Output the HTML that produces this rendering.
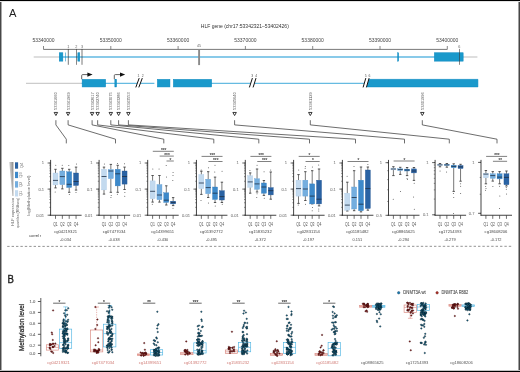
<!DOCTYPE html>
<html><head><meta charset="utf-8"><style>
html,body{margin:0;padding:0;background:#fff;overflow:hidden;}
svg{display:block;font-family:"Liberation Sans", sans-serif;will-change:transform;}
</style></head><body>
<svg width="520" height="372" viewBox="0 0 520 372">
<rect x="0" y="0" width="520" height="372" fill="#fff"/>
<text x="9.00" y="16.60" font-size="11.2" fill="#222" text-anchor="start" >A</text>
<text x="244.80" y="28.40" font-size="5.6" fill="#333" text-anchor="middle" textLength="88" lengthAdjust="spacingAndGlyphs" >HLF gene (chr17:53342321&#8211;53402426)</text>
<line x1="43.50" y1="49.40" x2="447.30" y2="49.40" stroke="#6a6a6a" stroke-width="0.9" />
<line x1="43.50" y1="46.00" x2="43.50" y2="49.40" stroke="#6a6a6a" stroke-width="0.8" />
<text x="43.50" y="41.60" font-size="5.0" fill="#444" text-anchor="middle" textLength="22.2" lengthAdjust="spacingAndGlyphs" >53340000</text>
<line x1="110.80" y1="46.00" x2="110.80" y2="49.40" stroke="#6a6a6a" stroke-width="0.8" />
<text x="110.80" y="41.60" font-size="5.0" fill="#444" text-anchor="middle" textLength="22.2" lengthAdjust="spacingAndGlyphs" >53350000</text>
<line x1="178.10" y1="46.00" x2="178.10" y2="49.40" stroke="#6a6a6a" stroke-width="0.8" />
<text x="178.10" y="41.60" font-size="5.0" fill="#444" text-anchor="middle" textLength="22.2" lengthAdjust="spacingAndGlyphs" >53360000</text>
<line x1="245.40" y1="46.00" x2="245.40" y2="49.40" stroke="#6a6a6a" stroke-width="0.8" />
<text x="245.40" y="41.60" font-size="5.0" fill="#444" text-anchor="middle" textLength="22.2" lengthAdjust="spacingAndGlyphs" >53370000</text>
<line x1="312.70" y1="46.00" x2="312.70" y2="49.40" stroke="#6a6a6a" stroke-width="0.8" />
<text x="312.70" y="41.60" font-size="5.0" fill="#444" text-anchor="middle" textLength="22.2" lengthAdjust="spacingAndGlyphs" >53380000</text>
<line x1="380.00" y1="46.00" x2="380.00" y2="49.40" stroke="#6a6a6a" stroke-width="0.8" />
<text x="380.00" y="41.60" font-size="5.0" fill="#444" text-anchor="middle" textLength="22.2" lengthAdjust="spacingAndGlyphs" >53390000</text>
<line x1="447.30" y1="46.00" x2="447.30" y2="49.40" stroke="#6a6a6a" stroke-width="0.8" />
<text x="447.30" y="41.60" font-size="5.0" fill="#444" text-anchor="middle" textLength="22.2" lengthAdjust="spacingAndGlyphs" >53400000</text>
<line x1="33.70" y1="57.00" x2="59.20" y2="57.00" stroke="#c8c8c8" stroke-width="1.2" />
<line x1="59.20" y1="57.00" x2="463.40" y2="57.00" stroke="#62b9e2" stroke-width="1.4" />
<line x1="463.40" y1="57.00" x2="477.40" y2="57.00" stroke="#c8c8c8" stroke-width="1.2" />
<rect x="59.25" y="52.75" width="3.60" height="8.40" fill="#1a99cb" stroke="#0a88c0" stroke-width="0.5" />
<rect x="65.25" y="52.75" width="0.10" height="8.40" fill="#1a99cb" stroke="#0a88c0" stroke-width="0.5" />
<rect x="77.85" y="52.75" width="1.90" height="8.40" fill="#1a99cb" stroke="#0a88c0" stroke-width="0.5" />
<rect x="397.65" y="52.75" width="1.00" height="8.40" fill="#1a99cb" stroke="#0a88c0" stroke-width="0.5" />
<rect x="434.35" y="52.75" width="28.80" height="8.40" fill="#1a99cb" stroke="#0a88c0" stroke-width="0.5" />
<line x1="68.30" y1="48.90" x2="68.30" y2="64.80" stroke="#3a3a3a" stroke-width="0.8" opacity="0.85"/>
<text x="68.30" y="47.70" font-size="3.8" fill="#666" text-anchor="middle" >1</text>
<line x1="76.40" y1="48.90" x2="76.40" y2="64.80" stroke="#3a3a3a" stroke-width="0.8" opacity="0.85"/>
<text x="76.40" y="47.70" font-size="3.8" fill="#666" text-anchor="middle" >2</text>
<line x1="82.00" y1="48.90" x2="82.00" y2="64.80" stroke="#3a3a3a" stroke-width="0.8" opacity="0.85"/>
<text x="82.00" y="47.70" font-size="3.8" fill="#666" text-anchor="middle" >3</text>
<line x1="459.40" y1="48.90" x2="459.40" y2="64.80" stroke="#3a3a3a" stroke-width="0.8" opacity="0.85"/>
<text x="459.40" y="47.70" font-size="3.8" fill="#666" text-anchor="middle" >6</text>
<line x1="199.10" y1="49.10" x2="199.10" y2="65.10" stroke="#8a8a8a" stroke-width="1.9" />
<text x="199.10" y="47.40" font-size="3.6" fill="#666" text-anchor="middle" >45</text>
<line x1="26.00" y1="83.30" x2="81.50" y2="83.30" stroke="#b8b8b8" stroke-width="0.9" />
<line x1="81.50" y1="83.30" x2="154.40" y2="83.30" stroke="#2aa0d6" stroke-width="0.9" />
<line x1="211.00" y1="83.30" x2="365.00" y2="83.30" stroke="#2aa0d6" stroke-width="0.9" />
<rect x="82.15" y="79.35" width="23.50" height="7.60" fill="#1a99cb" stroke="#0a88c0" stroke-width="0.5" />
<rect x="114.85" y="79.35" width="1.70" height="7.60" fill="#1a99cb" stroke="#0a88c0" stroke-width="0.5" />
<rect x="157.35" y="79.35" width="12.60" height="7.60" fill="#1a99cb" stroke="#0a88c0" stroke-width="0.5" />
<rect x="173.35" y="79.35" width="38.30" height="7.60" fill="#1a99cb" stroke="#0a88c0" stroke-width="0.5" />
<polygon points="368.8,79.35 477.95,79.35 477.95,86.95 366.6,86.95" fill="#1a99cb" stroke="#0a88c0" stroke-width="0.5"/>
<polygon points="139.2,78.1 142.3,78.1 138.8,87.4 135.8,87.4" fill="#fff"/>
<line x1="139.20" y1="78.10" x2="135.80" y2="87.40" stroke="#111" stroke-width="1.0" />
<line x1="142.30" y1="78.10" x2="138.80" y2="87.40" stroke="#111" stroke-width="1.0" />
<polygon points="252.4,78.1 256.0,78.1 253.1,87.4 249.4,87.4" fill="#fff"/>
<line x1="252.40" y1="78.10" x2="249.40" y2="87.40" stroke="#111" stroke-width="1.0" />
<line x1="256.00" y1="78.10" x2="253.10" y2="87.40" stroke="#111" stroke-width="1.0" />
<polygon points="365.8,78.1 369.1,78.1 366.4,87.4 363.1,87.4" fill="#fff"/>
<line x1="365.80" y1="78.10" x2="363.10" y2="87.40" stroke="#111" stroke-width="1.0" />
<line x1="369.10" y1="78.10" x2="366.40" y2="87.40" stroke="#111" stroke-width="1.0" />
<text x="138.50" y="76.90" font-size="3.4" fill="#555" text-anchor="middle" >1</text>
<text x="142.60" y="76.90" font-size="3.4" fill="#555" text-anchor="middle" >2</text>
<text x="252.10" y="76.80" font-size="3.4" fill="#555" text-anchor="middle" >3</text>
<text x="256.10" y="76.80" font-size="3.4" fill="#555" text-anchor="middle" >4</text>
<text x="365.60" y="76.50" font-size="3.4" fill="#555" text-anchor="middle" >5</text>
<text x="369.40" y="76.50" font-size="3.4" fill="#555" text-anchor="middle" >6</text>
<path d="M81.7,79.2 L81.7,75.6 Q81.7,74.6 82.7,74.6 L88.2,74.6" fill="none" stroke="#3a3a3a" stroke-width="0.8"/>
<polygon points="87.4,72.5 92.60000000000001,74.6 87.4,76.7" fill="#111"/>
<path d="M114.3,79.2 L114.3,75.6 Q114.3,74.6 115.3,74.6 L120.8,74.6" fill="none" stroke="#3a3a3a" stroke-width="0.8"/>
<polygon points="120.0,72.5 125.2,74.6 120.0,76.7" fill="#111"/>
<text x="57.30" y="110.00" font-size="4.0" fill="#555" text-anchor="start" textLength="17.8" lengthAdjust="spacingAndGlyphs" transform="rotate(-90 57.30 110.00)" >53341660</text>
<polygon points="54.15,112.45 57.65,112.45 55.90,115.55" fill="#fff" stroke="#222" stroke-width="0.9" stroke-linejoin="round"/>
<text x="69.50" y="110.00" font-size="4.0" fill="#555" text-anchor="start" textLength="17.8" lengthAdjust="spacingAndGlyphs" transform="rotate(-90 69.50 110.00)" >53341969</text>
<polygon points="66.35,112.45 69.85,112.45 68.10,115.55" fill="#fff" stroke="#222" stroke-width="0.9" stroke-linejoin="round"/>
<text x="93.50" y="110.00" font-size="4.0" fill="#555" text-anchor="start" textLength="17.8" lengthAdjust="spacingAndGlyphs" transform="rotate(-90 93.50 110.00)" >53342617</text>
<polygon points="90.35,112.45 93.85,112.45 92.10,115.55" fill="#fff" stroke="#222" stroke-width="0.9" stroke-linejoin="round"/>
<text x="99.05" y="110.00" font-size="4.0" fill="#555" text-anchor="start" textLength="17.8" lengthAdjust="spacingAndGlyphs" transform="rotate(-90 99.05 110.00)" >53342740</text>
<polygon points="95.90,112.45 99.40,112.45 97.65,115.55" fill="#fff" stroke="#222" stroke-width="0.9" stroke-linejoin="round"/>
<text x="112.20" y="110.00" font-size="4.0" fill="#555" text-anchor="start" textLength="17.8" lengthAdjust="spacingAndGlyphs" transform="rotate(-90 112.20 110.00)" >53343075</text>
<polygon points="109.05,112.45 112.55,112.45 110.80,115.55" fill="#fff" stroke="#222" stroke-width="0.9" stroke-linejoin="round"/>
<text x="120.00" y="110.00" font-size="4.0" fill="#555" text-anchor="start" textLength="17.8" lengthAdjust="spacingAndGlyphs" transform="rotate(-90 120.00 110.00)" >53343286</text>
<polygon points="116.85,112.45 120.35,112.45 118.60,115.55" fill="#fff" stroke="#222" stroke-width="0.9" stroke-linejoin="round"/>
<text x="129.80" y="110.00" font-size="4.0" fill="#555" text-anchor="start" textLength="17.8" lengthAdjust="spacingAndGlyphs" transform="rotate(-90 129.80 110.00)" >53343553</text>
<polygon points="126.65,112.45 130.15,112.45 128.40,115.55" fill="#fff" stroke="#222" stroke-width="0.9" stroke-linejoin="round"/>
<text x="236.00" y="110.00" font-size="4.0" fill="#555" text-anchor="start" textLength="17.8" lengthAdjust="spacingAndGlyphs" transform="rotate(-90 236.00 110.00)" >53345640</text>
<polygon points="232.85,112.45 236.35,112.45 234.60,115.55" fill="#fff" stroke="#222" stroke-width="0.9" stroke-linejoin="round"/>
<text x="311.70" y="110.00" font-size="4.0" fill="#555" text-anchor="start" textLength="17.8" lengthAdjust="spacingAndGlyphs" transform="rotate(-90 311.70 110.00)" >53361129</text>
<polygon points="308.55,112.45 312.05,112.45 310.30,115.55" fill="#fff" stroke="#222" stroke-width="0.9" stroke-linejoin="round"/>
<text x="423.70" y="110.00" font-size="4.0" fill="#555" text-anchor="start" textLength="17.8" lengthAdjust="spacingAndGlyphs" transform="rotate(-90 423.70 110.00)" >53401996</text>
<polygon points="420.55,112.45 424.05,112.45 422.30,115.55" fill="#fff" stroke="#222" stroke-width="0.9" stroke-linejoin="round"/>
<path d="M55.9,120.2 L55.9,124.9 L66.3,139.2 L66.3,143.4" fill="none" stroke="#3c3c3c" stroke-width="0.75"/>
<path d="M68.1,120.2 L68.1,124.9 L115.5,139.2 L115.5,143.4" fill="none" stroke="#3c3c3c" stroke-width="0.75"/>
<path d="M92.1,120.2 L92.1,124.9 L163.8,139.2 L163.8,143.4" fill="none" stroke="#3c3c3c" stroke-width="0.75"/>
<path d="M97.65,120.2 L97.65,124.9 L213.8,139.2 L213.8,143.4" fill="none" stroke="#3c3c3c" stroke-width="0.75"/>
<path d="M110.8,120.2 L110.8,124.9 L258.8,139.2 L258.8,143.4" fill="none" stroke="#3c3c3c" stroke-width="0.75"/>
<path d="M118.6,120.2 L118.6,124.9 L309.5,139.2 L309.5,143.4" fill="none" stroke="#3c3c3c" stroke-width="0.75"/>
<path d="M128.4,120.2 L128.4,124.9 L355.5,139.2 L355.5,143.4" fill="none" stroke="#3c3c3c" stroke-width="0.75"/>
<path d="M234.6,120.2 L234.6,124.9 L404.5,139.2 L404.5,143.4" fill="none" stroke="#3c3c3c" stroke-width="0.75"/>
<path d="M310.3,120.2 L310.3,124.9 L449.3,139.2 L449.3,143.4" fill="none" stroke="#3c3c3c" stroke-width="0.75"/>
<path d="M422.3,120.2 L422.3,124.9 L497.0,139.2 L497.0,143.4" fill="none" stroke="#3c3c3c" stroke-width="0.75"/>
<defs><linearGradient id="wg" x1="0" y1="0" x2="0" y2="1"><stop offset="0" stop-color="#8e8e8e"/><stop offset="1" stop-color="#d8d8d8"/></linearGradient><linearGradient id="wg2" x1="0" y1="0" x2="1" y2="0"><stop offset="0" stop-color="#fff" stop-opacity="0.6"/><stop offset="1" stop-color="#fff" stop-opacity="0"/></linearGradient></defs>
<defs><linearGradient id="wh" x1="0" y1="0" x2="1" y2="0"><stop offset="0" stop-color="#d4d4d4"/><stop offset="0.6" stop-color="#a8a8a8"/><stop offset="1" stop-color="#7e7e7e"/></linearGradient><linearGradient id="wv" x1="0" y1="0" x2="0" y2="1"><stop offset="0" stop-color="#fff" stop-opacity="0"/><stop offset="1" stop-color="#fff" stop-opacity="0.35"/></linearGradient></defs>
<polygon points="9.2,162.1 13.4,162.1 13.3,196.0 12.5,196.0" fill="url(#wh)"/>
<polygon points="9.2,162.1 13.4,162.1 13.3,196.0 12.5,196.0" fill="url(#wv)"/>
<rect x="15.00" y="190.20" width="3.10" height="6.30" fill="#c3daef" stroke="none" stroke-width="0" />
<text x="21.00" y="193.35" font-size="4.2" fill="#777" text-anchor="middle" textLength="5.4" lengthAdjust="spacingAndGlyphs" transform="rotate(-90 21.00 193.35)" dominant-baseline="central">Q1</text>
<rect x="15.00" y="181.20" width="3.10" height="6.40" fill="#74aedf" stroke="none" stroke-width="0" />
<text x="21.00" y="184.40" font-size="4.2" fill="#777" text-anchor="middle" textLength="5.4" lengthAdjust="spacingAndGlyphs" transform="rotate(-90 21.00 184.40)" dominant-baseline="central">Q2</text>
<rect x="15.00" y="171.80" width="3.10" height="6.30" fill="#3d89ca" stroke="none" stroke-width="0" />
<text x="21.00" y="174.95" font-size="4.2" fill="#777" text-anchor="middle" textLength="5.4" lengthAdjust="spacingAndGlyphs" transform="rotate(-90 21.00 174.95)" dominant-baseline="central">Q3</text>
<rect x="15.00" y="162.30" width="3.10" height="6.40" fill="#2a63a4" stroke="none" stroke-width="0" />
<text x="21.00" y="165.50" font-size="4.2" fill="#777" text-anchor="middle" textLength="5.4" lengthAdjust="spacingAndGlyphs" transform="rotate(-90 21.00 165.50)" dominant-baseline="central">Q4</text>
<text x="14.40" y="226.00" font-size="4.2" fill="#666" text-anchor="start" textLength="28.2" lengthAdjust="spacingAndGlyphs" transform="rotate(-90 14.40 226.00)" >HLF expression</text>
<text x="18.90" y="228.00" font-size="4.2" fill="#666" text-anchor="start" textLength="30.2" lengthAdjust="spacingAndGlyphs" transform="rotate(-90 18.90 228.00)" >quartiles (RNAseq)</text>
<text x="29.90" y="215.80" font-size="4.2" fill="#666" text-anchor="start" textLength="40.2" lengthAdjust="spacingAndGlyphs" transform="rotate(-90 29.90 215.80)" >log(Methylation level)</text>
<text x="29.20" y="236.70" font-size="4.2" fill="#555" text-anchor="start" stroke="#555" stroke-width="0.06" textLength="11.8" lengthAdjust="spacingAndGlyphs" >correl r</text>
<line x1="49.30" y1="215.20" x2="50.60" y2="215.20" stroke="#333" stroke-width="0.5" />
<line x1="49.30" y1="207.34" x2="50.60" y2="207.34" stroke="#333" stroke-width="0.5" />
<line x1="49.30" y1="202.75" x2="50.60" y2="202.75" stroke="#333" stroke-width="0.5" />
<line x1="49.30" y1="199.49" x2="50.60" y2="199.49" stroke="#333" stroke-width="0.5" />
<line x1="49.30" y1="196.96" x2="50.60" y2="196.96" stroke="#333" stroke-width="0.5" />
<line x1="49.30" y1="194.89" x2="50.60" y2="194.89" stroke="#333" stroke-width="0.5" />
<line x1="49.30" y1="193.14" x2="50.60" y2="193.14" stroke="#333" stroke-width="0.5" />
<line x1="49.30" y1="191.63" x2="50.60" y2="191.63" stroke="#333" stroke-width="0.5" />
<line x1="49.30" y1="190.29" x2="50.60" y2="190.29" stroke="#333" stroke-width="0.5" />
<line x1="49.30" y1="189.10" x2="50.60" y2="189.10" stroke="#333" stroke-width="0.5" />
<line x1="49.30" y1="181.24" x2="50.60" y2="181.24" stroke="#333" stroke-width="0.5" />
<line x1="49.30" y1="176.65" x2="50.60" y2="176.65" stroke="#333" stroke-width="0.5" />
<line x1="49.30" y1="173.39" x2="50.60" y2="173.39" stroke="#333" stroke-width="0.5" />
<line x1="49.30" y1="170.86" x2="50.60" y2="170.86" stroke="#333" stroke-width="0.5" />
<line x1="49.30" y1="168.79" x2="50.60" y2="168.79" stroke="#333" stroke-width="0.5" />
<line x1="49.30" y1="167.04" x2="50.60" y2="167.04" stroke="#333" stroke-width="0.5" />
<line x1="49.30" y1="165.53" x2="50.60" y2="165.53" stroke="#333" stroke-width="0.5" />
<line x1="49.30" y1="164.19" x2="50.60" y2="164.19" stroke="#333" stroke-width="0.5" />
<line x1="49.30" y1="163.00" x2="50.60" y2="163.00" stroke="#333" stroke-width="0.5" />
<line x1="47.60" y1="163.00" x2="50.60" y2="163.00" stroke="#333" stroke-width="0.75" />
<text x="44.10" y="164.45" font-size="4.1" fill="#7a7a7a" text-anchor="end" stroke="#7a7a7a" stroke-width="0.04" >1</text>
<line x1="47.60" y1="189.10" x2="50.60" y2="189.10" stroke="#333" stroke-width="0.75" />
<text x="44.10" y="190.55" font-size="4.1" fill="#7a7a7a" text-anchor="end" stroke="#7a7a7a" stroke-width="0.04" >0.1</text>
<line x1="47.60" y1="215.20" x2="50.60" y2="215.20" stroke="#333" stroke-width="0.75" />
<text x="44.10" y="216.65" font-size="4.1" fill="#7a7a7a" text-anchor="end" stroke="#7a7a7a" stroke-width="0.04" >0.01</text>
<line x1="55.50" y1="169.30" x2="55.50" y2="173.00" stroke="#4a4a4a" stroke-width="0.75" />
<line x1="55.50" y1="184.90" x2="55.50" y2="187.90" stroke="#4a4a4a" stroke-width="0.75" />
<line x1="54.30" y1="169.30" x2="56.70" y2="169.30" stroke="#3a3a3a" stroke-width="0.85" />
<line x1="54.30" y1="187.90" x2="56.70" y2="187.90" stroke="#3a3a3a" stroke-width="0.85" />
<rect x="53.00" y="173.00" width="5.00" height="11.90" fill="#c3daef" stroke="#a9c8e6" stroke-width="0.35" />
<line x1="53.00" y1="180.40" x2="58.00" y2="180.40" stroke="#1e2e44" stroke-width="0.8" />
<circle cx="55.78" cy="165.3" r="0.5" fill="#555"/>
<circle cx="55.20" cy="192.0" r="0.5" fill="#555"/>
<line x1="62.35" y1="168.30" x2="62.35" y2="171.00" stroke="#4a4a4a" stroke-width="0.75" />
<line x1="62.35" y1="184.60" x2="62.35" y2="188.90" stroke="#4a4a4a" stroke-width="0.75" />
<line x1="61.15" y1="168.30" x2="63.55" y2="168.30" stroke="#3a3a3a" stroke-width="0.85" />
<line x1="61.15" y1="188.90" x2="63.55" y2="188.90" stroke="#3a3a3a" stroke-width="0.85" />
<rect x="59.85" y="171.00" width="5.00" height="13.60" fill="#74aedf" stroke="#5b9ad2" stroke-width="0.35" />
<line x1="59.85" y1="176.60" x2="64.85" y2="176.60" stroke="#1e2e44" stroke-width="0.8" />
<circle cx="62.27" cy="165.3" r="0.5" fill="#555"/>
<line x1="69.20" y1="169.30" x2="69.20" y2="171.80" stroke="#4a4a4a" stroke-width="0.75" />
<line x1="69.20" y1="187.50" x2="69.20" y2="192.30" stroke="#4a4a4a" stroke-width="0.75" />
<line x1="68.00" y1="169.30" x2="70.40" y2="169.30" stroke="#3a3a3a" stroke-width="0.85" />
<line x1="68.00" y1="192.30" x2="70.40" y2="192.30" stroke="#3a3a3a" stroke-width="0.85" />
<rect x="66.70" y="171.80" width="5.00" height="15.70" fill="#3d89ca" stroke="#2f79bb" stroke-width="0.35" />
<line x1="66.70" y1="184.30" x2="71.70" y2="184.30" stroke="#1e2e44" stroke-width="0.8" />
<circle cx="68.81" cy="165.5" r="0.5" fill="#555"/>
<circle cx="69.32" cy="194.5" r="0.5" fill="#555"/>
<line x1="76.05" y1="167.10" x2="76.05" y2="173.00" stroke="#4a4a4a" stroke-width="0.75" />
<line x1="76.05" y1="185.50" x2="76.05" y2="190.10" stroke="#4a4a4a" stroke-width="0.75" />
<line x1="74.85" y1="167.10" x2="77.25" y2="167.10" stroke="#3a3a3a" stroke-width="0.85" />
<line x1="74.85" y1="190.10" x2="77.25" y2="190.10" stroke="#3a3a3a" stroke-width="0.85" />
<rect x="73.55" y="173.00" width="5.00" height="12.50" fill="#2a63a4" stroke="#1f5290" stroke-width="0.35" />
<line x1="73.55" y1="181.50" x2="78.55" y2="181.50" stroke="#1e2e44" stroke-width="0.8" />
<circle cx="76.42" cy="164.1" r="0.5" fill="#555"/>
<circle cx="76.00" cy="192.5" r="0.5" fill="#555"/>
<line x1="50.60" y1="159.90" x2="50.60" y2="215.60" stroke="#222" stroke-width="0.85" />
<line x1="50.20" y1="215.25" x2="81.60" y2="215.25" stroke="#222" stroke-width="0.85" />
<line x1="55.50" y1="215.25" x2="55.50" y2="218.85" stroke="#333" stroke-width="0.7" />
<text x="55.50" y="225.50" font-size="4.5" fill="#555" text-anchor="middle" textLength="4.6" lengthAdjust="spacingAndGlyphs" >Q1</text>
<line x1="62.35" y1="215.25" x2="62.35" y2="218.85" stroke="#333" stroke-width="0.7" />
<text x="62.35" y="225.50" font-size="4.5" fill="#555" text-anchor="middle" textLength="4.6" lengthAdjust="spacingAndGlyphs" >Q2</text>
<line x1="69.20" y1="215.25" x2="69.20" y2="218.85" stroke="#333" stroke-width="0.7" />
<text x="69.20" y="225.50" font-size="4.5" fill="#555" text-anchor="middle" textLength="4.6" lengthAdjust="spacingAndGlyphs" >Q3</text>
<line x1="76.05" y1="215.25" x2="76.05" y2="218.85" stroke="#333" stroke-width="0.7" />
<text x="76.05" y="225.50" font-size="4.5" fill="#555" text-anchor="middle" textLength="4.6" lengthAdjust="spacingAndGlyphs" >Q4</text>
<text x="65.60" y="233.00" font-size="4.15" fill="#484848" text-anchor="middle" >cg04219321</text>
<text x="65.60" y="240.50" font-size="3.9" fill="#484848" text-anchor="middle" >-0.034</text>
<line x1="97.80" y1="215.20" x2="99.10" y2="215.20" stroke="#333" stroke-width="0.5" />
<line x1="97.80" y1="207.34" x2="99.10" y2="207.34" stroke="#333" stroke-width="0.5" />
<line x1="97.80" y1="202.75" x2="99.10" y2="202.75" stroke="#333" stroke-width="0.5" />
<line x1="97.80" y1="199.49" x2="99.10" y2="199.49" stroke="#333" stroke-width="0.5" />
<line x1="97.80" y1="196.96" x2="99.10" y2="196.96" stroke="#333" stroke-width="0.5" />
<line x1="97.80" y1="194.89" x2="99.10" y2="194.89" stroke="#333" stroke-width="0.5" />
<line x1="97.80" y1="193.14" x2="99.10" y2="193.14" stroke="#333" stroke-width="0.5" />
<line x1="97.80" y1="191.63" x2="99.10" y2="191.63" stroke="#333" stroke-width="0.5" />
<line x1="97.80" y1="190.29" x2="99.10" y2="190.29" stroke="#333" stroke-width="0.5" />
<line x1="97.80" y1="189.10" x2="99.10" y2="189.10" stroke="#333" stroke-width="0.5" />
<line x1="97.80" y1="181.24" x2="99.10" y2="181.24" stroke="#333" stroke-width="0.5" />
<line x1="97.80" y1="176.65" x2="99.10" y2="176.65" stroke="#333" stroke-width="0.5" />
<line x1="97.80" y1="173.39" x2="99.10" y2="173.39" stroke="#333" stroke-width="0.5" />
<line x1="97.80" y1="170.86" x2="99.10" y2="170.86" stroke="#333" stroke-width="0.5" />
<line x1="97.80" y1="168.79" x2="99.10" y2="168.79" stroke="#333" stroke-width="0.5" />
<line x1="97.80" y1="167.04" x2="99.10" y2="167.04" stroke="#333" stroke-width="0.5" />
<line x1="97.80" y1="165.53" x2="99.10" y2="165.53" stroke="#333" stroke-width="0.5" />
<line x1="97.80" y1="164.19" x2="99.10" y2="164.19" stroke="#333" stroke-width="0.5" />
<line x1="97.80" y1="163.00" x2="99.10" y2="163.00" stroke="#333" stroke-width="0.5" />
<line x1="96.10" y1="163.00" x2="99.10" y2="163.00" stroke="#333" stroke-width="0.75" />
<text x="92.60" y="164.45" font-size="4.1" fill="#7a7a7a" text-anchor="end" stroke="#7a7a7a" stroke-width="0.04" >1</text>
<line x1="96.10" y1="189.10" x2="99.10" y2="189.10" stroke="#333" stroke-width="0.75" />
<text x="92.60" y="190.55" font-size="4.1" fill="#7a7a7a" text-anchor="end" stroke="#7a7a7a" stroke-width="0.04" >0.1</text>
<line x1="96.10" y1="215.20" x2="99.10" y2="215.20" stroke="#333" stroke-width="0.75" />
<text x="92.60" y="216.65" font-size="4.1" fill="#7a7a7a" text-anchor="end" stroke="#7a7a7a" stroke-width="0.04" >0.01</text>
<line x1="104.00" y1="167.10" x2="104.00" y2="169.30" stroke="#4a4a4a" stroke-width="0.75" />
<line x1="104.00" y1="189.90" x2="104.00" y2="194.10" stroke="#4a4a4a" stroke-width="0.75" />
<line x1="102.80" y1="167.10" x2="105.20" y2="167.10" stroke="#3a3a3a" stroke-width="0.85" />
<line x1="102.80" y1="194.10" x2="105.20" y2="194.10" stroke="#3a3a3a" stroke-width="0.85" />
<rect x="101.50" y="169.30" width="5.00" height="20.60" fill="#c3daef" stroke="#a9c8e6" stroke-width="0.35" />
<line x1="101.50" y1="176.50" x2="106.50" y2="176.50" stroke="#1e2e44" stroke-width="0.8" />
<circle cx="104.35" cy="164.1" r="0.5" fill="#555"/>
<line x1="110.85" y1="164.40" x2="110.85" y2="169.50" stroke="#4a4a4a" stroke-width="0.75" />
<line x1="110.85" y1="178.60" x2="110.85" y2="192.30" stroke="#4a4a4a" stroke-width="0.75" />
<line x1="109.65" y1="164.40" x2="112.05" y2="164.40" stroke="#3a3a3a" stroke-width="0.85" />
<line x1="109.65" y1="192.30" x2="112.05" y2="192.30" stroke="#3a3a3a" stroke-width="0.85" />
<rect x="108.35" y="169.50" width="5.00" height="9.10" fill="#74aedf" stroke="#5b9ad2" stroke-width="0.35" />
<line x1="108.35" y1="171.00" x2="113.35" y2="171.00" stroke="#1e2e44" stroke-width="0.8" />
<circle cx="111.16" cy="195.6" r="0.5" fill="#555"/>
<circle cx="110.91" cy="197.4" r="0.5" fill="#555"/>
<line x1="117.70" y1="165.30" x2="117.70" y2="169.30" stroke="#4a4a4a" stroke-width="0.75" />
<line x1="117.70" y1="185.90" x2="117.70" y2="192.30" stroke="#4a4a4a" stroke-width="0.75" />
<line x1="116.50" y1="165.30" x2="118.90" y2="165.30" stroke="#3a3a3a" stroke-width="0.85" />
<line x1="116.50" y1="192.30" x2="118.90" y2="192.30" stroke="#3a3a3a" stroke-width="0.85" />
<rect x="115.20" y="169.30" width="5.00" height="16.60" fill="#3d89ca" stroke="#2f79bb" stroke-width="0.35" />
<line x1="115.20" y1="173.80" x2="120.20" y2="173.80" stroke="#1e2e44" stroke-width="0.8" />
<circle cx="117.55" cy="163.5" r="0.5" fill="#555"/>
<circle cx="117.39" cy="194.3" r="0.5" fill="#555"/>
<line x1="124.55" y1="167.10" x2="124.55" y2="171.00" stroke="#4a4a4a" stroke-width="0.75" />
<line x1="124.55" y1="184.10" x2="124.55" y2="189.50" stroke="#4a4a4a" stroke-width="0.75" />
<line x1="123.35" y1="167.10" x2="125.75" y2="167.10" stroke="#3a3a3a" stroke-width="0.85" />
<line x1="123.35" y1="189.50" x2="125.75" y2="189.50" stroke="#3a3a3a" stroke-width="0.85" />
<rect x="122.05" y="171.00" width="5.00" height="13.10" fill="#2a63a4" stroke="#1f5290" stroke-width="0.35" />
<line x1="122.05" y1="176.50" x2="127.05" y2="176.50" stroke="#1e2e44" stroke-width="0.8" />
<circle cx="124.52" cy="163.7" r="0.5" fill="#555"/>
<circle cx="124.90" cy="192.5" r="0.5" fill="#555"/>
<circle cx="124.73" cy="196.2" r="0.5" fill="#555"/>
<line x1="99.10" y1="159.90" x2="99.10" y2="215.60" stroke="#222" stroke-width="0.85" />
<line x1="98.70" y1="215.25" x2="130.10" y2="215.25" stroke="#222" stroke-width="0.85" />
<line x1="104.00" y1="215.25" x2="104.00" y2="218.85" stroke="#333" stroke-width="0.7" />
<text x="104.00" y="225.50" font-size="4.5" fill="#555" text-anchor="middle" textLength="4.6" lengthAdjust="spacingAndGlyphs" >Q1</text>
<line x1="110.85" y1="215.25" x2="110.85" y2="218.85" stroke="#333" stroke-width="0.7" />
<text x="110.85" y="225.50" font-size="4.5" fill="#555" text-anchor="middle" textLength="4.6" lengthAdjust="spacingAndGlyphs" >Q2</text>
<line x1="117.70" y1="215.25" x2="117.70" y2="218.85" stroke="#333" stroke-width="0.7" />
<text x="117.70" y="225.50" font-size="4.5" fill="#555" text-anchor="middle" textLength="4.6" lengthAdjust="spacingAndGlyphs" >Q3</text>
<line x1="124.55" y1="215.25" x2="124.55" y2="218.85" stroke="#333" stroke-width="0.7" />
<text x="124.55" y="225.50" font-size="4.5" fill="#555" text-anchor="middle" textLength="4.6" lengthAdjust="spacingAndGlyphs" >Q4</text>
<text x="114.10" y="233.00" font-size="4.15" fill="#484848" text-anchor="middle" >cg07477034</text>
<text x="114.10" y="240.50" font-size="3.9" fill="#484848" text-anchor="middle" >-0.038</text>
<line x1="146.40" y1="215.20" x2="147.70" y2="215.20" stroke="#333" stroke-width="0.5" />
<line x1="146.40" y1="207.34" x2="147.70" y2="207.34" stroke="#333" stroke-width="0.5" />
<line x1="146.40" y1="202.75" x2="147.70" y2="202.75" stroke="#333" stroke-width="0.5" />
<line x1="146.40" y1="199.49" x2="147.70" y2="199.49" stroke="#333" stroke-width="0.5" />
<line x1="146.40" y1="196.96" x2="147.70" y2="196.96" stroke="#333" stroke-width="0.5" />
<line x1="146.40" y1="194.89" x2="147.70" y2="194.89" stroke="#333" stroke-width="0.5" />
<line x1="146.40" y1="193.14" x2="147.70" y2="193.14" stroke="#333" stroke-width="0.5" />
<line x1="146.40" y1="191.63" x2="147.70" y2="191.63" stroke="#333" stroke-width="0.5" />
<line x1="146.40" y1="190.29" x2="147.70" y2="190.29" stroke="#333" stroke-width="0.5" />
<line x1="146.40" y1="189.10" x2="147.70" y2="189.10" stroke="#333" stroke-width="0.5" />
<line x1="146.40" y1="181.24" x2="147.70" y2="181.24" stroke="#333" stroke-width="0.5" />
<line x1="146.40" y1="176.65" x2="147.70" y2="176.65" stroke="#333" stroke-width="0.5" />
<line x1="146.40" y1="173.39" x2="147.70" y2="173.39" stroke="#333" stroke-width="0.5" />
<line x1="146.40" y1="170.86" x2="147.70" y2="170.86" stroke="#333" stroke-width="0.5" />
<line x1="146.40" y1="168.79" x2="147.70" y2="168.79" stroke="#333" stroke-width="0.5" />
<line x1="146.40" y1="167.04" x2="147.70" y2="167.04" stroke="#333" stroke-width="0.5" />
<line x1="146.40" y1="165.53" x2="147.70" y2="165.53" stroke="#333" stroke-width="0.5" />
<line x1="146.40" y1="164.19" x2="147.70" y2="164.19" stroke="#333" stroke-width="0.5" />
<line x1="146.40" y1="163.00" x2="147.70" y2="163.00" stroke="#333" stroke-width="0.5" />
<line x1="144.70" y1="163.00" x2="147.70" y2="163.00" stroke="#333" stroke-width="0.75" />
<text x="141.20" y="164.45" font-size="4.1" fill="#7a7a7a" text-anchor="end" stroke="#7a7a7a" stroke-width="0.04" >1</text>
<line x1="144.70" y1="189.10" x2="147.70" y2="189.10" stroke="#333" stroke-width="0.75" />
<text x="141.20" y="190.55" font-size="4.1" fill="#7a7a7a" text-anchor="end" stroke="#7a7a7a" stroke-width="0.04" >0.1</text>
<line x1="144.70" y1="215.20" x2="147.70" y2="215.20" stroke="#333" stroke-width="0.75" />
<text x="141.20" y="216.65" font-size="4.1" fill="#7a7a7a" text-anchor="end" stroke="#7a7a7a" stroke-width="0.04" >0.01</text>
<line x1="152.60" y1="175.50" x2="152.60" y2="180.90" stroke="#4a4a4a" stroke-width="0.75" />
<line x1="152.60" y1="198.70" x2="152.60" y2="202.10" stroke="#4a4a4a" stroke-width="0.75" />
<line x1="151.40" y1="175.50" x2="153.80" y2="175.50" stroke="#3a3a3a" stroke-width="0.85" />
<line x1="151.40" y1="202.10" x2="153.80" y2="202.10" stroke="#3a3a3a" stroke-width="0.85" />
<rect x="150.10" y="180.90" width="5.00" height="17.80" fill="#c3daef" stroke="#a9c8e6" stroke-width="0.35" />
<line x1="150.10" y1="191.30" x2="155.10" y2="191.30" stroke="#1e2e44" stroke-width="0.8" />
<circle cx="152.82" cy="169.1" r="0.5" fill="#555"/>
<circle cx="152.30" cy="204.2" r="0.5" fill="#555"/>
<line x1="159.45" y1="175.50" x2="159.45" y2="184.60" stroke="#4a4a4a" stroke-width="0.75" />
<line x1="159.45" y1="199.70" x2="159.45" y2="202.10" stroke="#4a4a4a" stroke-width="0.75" />
<line x1="158.25" y1="175.50" x2="160.65" y2="175.50" stroke="#3a3a3a" stroke-width="0.85" />
<line x1="158.25" y1="202.10" x2="160.65" y2="202.10" stroke="#3a3a3a" stroke-width="0.85" />
<rect x="156.95" y="184.60" width="5.00" height="15.10" fill="#74aedf" stroke="#5b9ad2" stroke-width="0.35" />
<line x1="156.95" y1="195.00" x2="161.95" y2="195.00" stroke="#1e2e44" stroke-width="0.8" />
<circle cx="159.06" cy="169.1" r="0.5" fill="#555"/>
<line x1="166.30" y1="185.80" x2="166.30" y2="192.80" stroke="#4a4a4a" stroke-width="0.75" />
<line x1="166.30" y1="202.40" x2="166.30" y2="205.00" stroke="#4a4a4a" stroke-width="0.75" />
<line x1="165.10" y1="185.80" x2="167.50" y2="185.80" stroke="#3a3a3a" stroke-width="0.85" />
<line x1="165.10" y1="205.00" x2="167.50" y2="205.00" stroke="#3a3a3a" stroke-width="0.85" />
<rect x="163.80" y="192.80" width="5.00" height="9.60" fill="#3d89ca" stroke="#2f79bb" stroke-width="0.35" />
<line x1="163.80" y1="200.20" x2="168.80" y2="200.20" stroke="#1e2e44" stroke-width="0.8" />
<circle cx="166.18" cy="165.4" r="0.5" fill="#555"/>
<circle cx="166.49" cy="176.9" r="0.5" fill="#555"/>
<line x1="173.15" y1="197.60" x2="173.15" y2="201.20" stroke="#4a4a4a" stroke-width="0.75" />
<line x1="173.15" y1="203.90" x2="173.15" y2="205.60" stroke="#4a4a4a" stroke-width="0.75" />
<line x1="171.95" y1="197.60" x2="174.35" y2="197.60" stroke="#3a3a3a" stroke-width="0.85" />
<line x1="171.95" y1="205.60" x2="174.35" y2="205.60" stroke="#3a3a3a" stroke-width="0.85" />
<rect x="170.65" y="201.20" width="5.00" height="2.70" fill="#2a63a4" stroke="#1f5290" stroke-width="0.35" />
<line x1="170.65" y1="202.40" x2="175.65" y2="202.40" stroke="#1e2e44" stroke-width="0.8" />
<circle cx="173.07" cy="172.5" r="0.5" fill="#555"/>
<circle cx="172.97" cy="175.5" r="0.5" fill="#555"/>
<circle cx="172.81" cy="180.6" r="0.5" fill="#555"/>
<circle cx="173.03" cy="208.3" r="0.5" fill="#555"/>
<line x1="152.80" y1="151.30" x2="173.80" y2="151.30" stroke="#4a4a4a" stroke-width="0.7" />
<text x="163.60" y="152.10" font-size="4.6" fill="#555" text-anchor="middle" stroke="#555" stroke-width="0.15" textLength="5.4" lengthAdjust="spacingAndGlyphs" >***</text>
<line x1="159.65" y1="156.10" x2="173.80" y2="156.10" stroke="#4a4a4a" stroke-width="0.7" />
<text x="167.02" y="156.90" font-size="4.6" fill="#555" text-anchor="middle" stroke="#555" stroke-width="0.15" textLength="5.4" lengthAdjust="spacingAndGlyphs" >***</text>
<line x1="166.50" y1="161.00" x2="173.80" y2="161.00" stroke="#4a4a4a" stroke-width="0.7" />
<text x="170.45" y="161.80" font-size="4.6" fill="#555" text-anchor="middle" stroke="#555" stroke-width="0.15" >*</text>
<line x1="147.70" y1="159.90" x2="147.70" y2="215.60" stroke="#222" stroke-width="0.85" />
<line x1="147.30" y1="215.25" x2="178.70" y2="215.25" stroke="#222" stroke-width="0.85" />
<line x1="152.60" y1="215.25" x2="152.60" y2="218.85" stroke="#333" stroke-width="0.7" />
<text x="152.60" y="225.50" font-size="4.5" fill="#555" text-anchor="middle" textLength="4.6" lengthAdjust="spacingAndGlyphs" >Q1</text>
<line x1="159.45" y1="215.25" x2="159.45" y2="218.85" stroke="#333" stroke-width="0.7" />
<text x="159.45" y="225.50" font-size="4.5" fill="#555" text-anchor="middle" textLength="4.6" lengthAdjust="spacingAndGlyphs" >Q2</text>
<line x1="166.30" y1="215.25" x2="166.30" y2="218.85" stroke="#333" stroke-width="0.7" />
<text x="166.30" y="225.50" font-size="4.5" fill="#555" text-anchor="middle" textLength="4.6" lengthAdjust="spacingAndGlyphs" >Q3</text>
<line x1="173.15" y1="215.25" x2="173.15" y2="218.85" stroke="#333" stroke-width="0.7" />
<text x="173.15" y="225.50" font-size="4.5" fill="#555" text-anchor="middle" textLength="4.6" lengthAdjust="spacingAndGlyphs" >Q4</text>
<text x="162.70" y="233.00" font-size="4.15" fill="#484848" text-anchor="middle" >cg14399651</text>
<text x="162.70" y="240.50" font-size="3.9" fill="#484848" text-anchor="middle" >-0.430</text>
<line x1="195.15" y1="215.20" x2="196.45" y2="215.20" stroke="#333" stroke-width="0.5" />
<line x1="195.15" y1="207.34" x2="196.45" y2="207.34" stroke="#333" stroke-width="0.5" />
<line x1="195.15" y1="202.75" x2="196.45" y2="202.75" stroke="#333" stroke-width="0.5" />
<line x1="195.15" y1="199.49" x2="196.45" y2="199.49" stroke="#333" stroke-width="0.5" />
<line x1="195.15" y1="196.96" x2="196.45" y2="196.96" stroke="#333" stroke-width="0.5" />
<line x1="195.15" y1="194.89" x2="196.45" y2="194.89" stroke="#333" stroke-width="0.5" />
<line x1="195.15" y1="193.14" x2="196.45" y2="193.14" stroke="#333" stroke-width="0.5" />
<line x1="195.15" y1="191.63" x2="196.45" y2="191.63" stroke="#333" stroke-width="0.5" />
<line x1="195.15" y1="190.29" x2="196.45" y2="190.29" stroke="#333" stroke-width="0.5" />
<line x1="195.15" y1="189.10" x2="196.45" y2="189.10" stroke="#333" stroke-width="0.5" />
<line x1="195.15" y1="181.24" x2="196.45" y2="181.24" stroke="#333" stroke-width="0.5" />
<line x1="195.15" y1="176.65" x2="196.45" y2="176.65" stroke="#333" stroke-width="0.5" />
<line x1="195.15" y1="173.39" x2="196.45" y2="173.39" stroke="#333" stroke-width="0.5" />
<line x1="195.15" y1="170.86" x2="196.45" y2="170.86" stroke="#333" stroke-width="0.5" />
<line x1="195.15" y1="168.79" x2="196.45" y2="168.79" stroke="#333" stroke-width="0.5" />
<line x1="195.15" y1="167.04" x2="196.45" y2="167.04" stroke="#333" stroke-width="0.5" />
<line x1="195.15" y1="165.53" x2="196.45" y2="165.53" stroke="#333" stroke-width="0.5" />
<line x1="195.15" y1="164.19" x2="196.45" y2="164.19" stroke="#333" stroke-width="0.5" />
<line x1="195.15" y1="163.00" x2="196.45" y2="163.00" stroke="#333" stroke-width="0.5" />
<line x1="193.45" y1="163.00" x2="196.45" y2="163.00" stroke="#333" stroke-width="0.75" />
<text x="189.95" y="164.45" font-size="4.1" fill="#7a7a7a" text-anchor="end" stroke="#7a7a7a" stroke-width="0.04" >1</text>
<line x1="193.45" y1="189.10" x2="196.45" y2="189.10" stroke="#333" stroke-width="0.75" />
<text x="189.95" y="190.55" font-size="4.1" fill="#7a7a7a" text-anchor="end" stroke="#7a7a7a" stroke-width="0.04" >0.1</text>
<line x1="193.45" y1="215.20" x2="196.45" y2="215.20" stroke="#333" stroke-width="0.75" />
<text x="189.95" y="216.65" font-size="4.1" fill="#7a7a7a" text-anchor="end" stroke="#7a7a7a" stroke-width="0.04" >0.01</text>
<line x1="201.35" y1="171.20" x2="201.35" y2="174.60" stroke="#4a4a4a" stroke-width="0.75" />
<line x1="201.35" y1="188.60" x2="201.35" y2="194.40" stroke="#4a4a4a" stroke-width="0.75" />
<line x1="200.15" y1="171.20" x2="202.55" y2="171.20" stroke="#3a3a3a" stroke-width="0.85" />
<line x1="200.15" y1="194.40" x2="202.55" y2="194.40" stroke="#3a3a3a" stroke-width="0.85" />
<rect x="198.85" y="174.60" width="5.00" height="14.00" fill="#c3daef" stroke="#a9c8e6" stroke-width="0.35" />
<line x1="198.85" y1="183.00" x2="203.85" y2="183.00" stroke="#1e2e44" stroke-width="0.8" />
<circle cx="201.21" cy="170.0" r="0.5" fill="#555"/>
<circle cx="200.97" cy="200.5" r="0.5" fill="#555"/>
<line x1="208.20" y1="171.70" x2="208.20" y2="179.20" stroke="#4a4a4a" stroke-width="0.75" />
<line x1="208.20" y1="193.70" x2="208.20" y2="197.50" stroke="#4a4a4a" stroke-width="0.75" />
<line x1="207.00" y1="171.70" x2="209.40" y2="171.70" stroke="#3a3a3a" stroke-width="0.85" />
<line x1="207.00" y1="197.50" x2="209.40" y2="197.50" stroke="#3a3a3a" stroke-width="0.85" />
<rect x="205.70" y="179.20" width="5.00" height="14.50" fill="#74aedf" stroke="#5b9ad2" stroke-width="0.35" />
<line x1="205.70" y1="187.60" x2="210.70" y2="187.60" stroke="#1e2e44" stroke-width="0.8" />
<circle cx="208.42" cy="167.8" r="0.5" fill="#555"/>
<circle cx="208.46" cy="202.9" r="0.5" fill="#555"/>
<line x1="215.05" y1="177.10" x2="215.05" y2="187.00" stroke="#4a4a4a" stroke-width="0.75" />
<line x1="215.05" y1="199.50" x2="215.05" y2="202.50" stroke="#4a4a4a" stroke-width="0.75" />
<line x1="213.85" y1="177.10" x2="216.25" y2="177.10" stroke="#3a3a3a" stroke-width="0.85" />
<line x1="213.85" y1="202.50" x2="216.25" y2="202.50" stroke="#3a3a3a" stroke-width="0.85" />
<rect x="212.55" y="187.00" width="5.00" height="12.50" fill="#3d89ca" stroke="#2f79bb" stroke-width="0.35" />
<line x1="212.55" y1="193.20" x2="217.55" y2="193.20" stroke="#1e2e44" stroke-width="0.8" />
<circle cx="215.02" cy="165.3" r="0.5" fill="#555"/>
<circle cx="214.77" cy="172.0" r="0.5" fill="#555"/>
<circle cx="215.26" cy="205.9" r="0.5" fill="#555"/>
<line x1="221.90" y1="182.20" x2="221.90" y2="190.70" stroke="#4a4a4a" stroke-width="0.75" />
<line x1="221.90" y1="200.00" x2="221.90" y2="202.50" stroke="#4a4a4a" stroke-width="0.75" />
<line x1="220.70" y1="182.20" x2="223.10" y2="182.20" stroke="#3a3a3a" stroke-width="0.85" />
<line x1="220.70" y1="202.50" x2="223.10" y2="202.50" stroke="#3a3a3a" stroke-width="0.85" />
<rect x="219.40" y="190.70" width="5.00" height="9.30" fill="#2a63a4" stroke="#1f5290" stroke-width="0.35" />
<line x1="219.40" y1="196.60" x2="224.40" y2="196.60" stroke="#1e2e44" stroke-width="0.8" />
<circle cx="222.07" cy="171.2" r="0.5" fill="#555"/>
<circle cx="222.27" cy="204.2" r="0.5" fill="#555"/>
<line x1="201.55" y1="156.40" x2="222.55" y2="156.40" stroke="#4a4a4a" stroke-width="0.7" />
<text x="212.35" y="157.20" font-size="4.6" fill="#555" text-anchor="middle" stroke="#555" stroke-width="0.15" textLength="5.4" lengthAdjust="spacingAndGlyphs" >***</text>
<line x1="208.40" y1="161.50" x2="222.55" y2="161.50" stroke="#4a4a4a" stroke-width="0.7" />
<text x="215.77" y="162.30" font-size="4.6" fill="#555" text-anchor="middle" stroke="#555" stroke-width="0.15" textLength="5.4" lengthAdjust="spacingAndGlyphs" >***</text>
<line x1="196.45" y1="159.90" x2="196.45" y2="215.60" stroke="#222" stroke-width="0.85" />
<line x1="196.05" y1="215.25" x2="227.45" y2="215.25" stroke="#222" stroke-width="0.85" />
<line x1="201.35" y1="215.25" x2="201.35" y2="218.85" stroke="#333" stroke-width="0.7" />
<text x="201.35" y="225.50" font-size="4.5" fill="#555" text-anchor="middle" textLength="4.6" lengthAdjust="spacingAndGlyphs" >Q1</text>
<line x1="208.20" y1="215.25" x2="208.20" y2="218.85" stroke="#333" stroke-width="0.7" />
<text x="208.20" y="225.50" font-size="4.5" fill="#555" text-anchor="middle" textLength="4.6" lengthAdjust="spacingAndGlyphs" >Q2</text>
<line x1="215.05" y1="215.25" x2="215.05" y2="218.85" stroke="#333" stroke-width="0.7" />
<text x="215.05" y="225.50" font-size="4.5" fill="#555" text-anchor="middle" textLength="4.6" lengthAdjust="spacingAndGlyphs" >Q3</text>
<line x1="221.90" y1="215.25" x2="221.90" y2="218.85" stroke="#333" stroke-width="0.7" />
<text x="221.90" y="225.50" font-size="4.5" fill="#555" text-anchor="middle" textLength="4.6" lengthAdjust="spacingAndGlyphs" >Q4</text>
<text x="211.45" y="233.00" font-size="4.15" fill="#484848" text-anchor="middle" >cg01392772</text>
<text x="211.45" y="240.50" font-size="3.9" fill="#484848" text-anchor="middle" >-0.495</text>
<line x1="244.00" y1="215.20" x2="245.30" y2="215.20" stroke="#333" stroke-width="0.5" />
<line x1="244.00" y1="207.34" x2="245.30" y2="207.34" stroke="#333" stroke-width="0.5" />
<line x1="244.00" y1="202.75" x2="245.30" y2="202.75" stroke="#333" stroke-width="0.5" />
<line x1="244.00" y1="199.49" x2="245.30" y2="199.49" stroke="#333" stroke-width="0.5" />
<line x1="244.00" y1="196.96" x2="245.30" y2="196.96" stroke="#333" stroke-width="0.5" />
<line x1="244.00" y1="194.89" x2="245.30" y2="194.89" stroke="#333" stroke-width="0.5" />
<line x1="244.00" y1="193.14" x2="245.30" y2="193.14" stroke="#333" stroke-width="0.5" />
<line x1="244.00" y1="191.63" x2="245.30" y2="191.63" stroke="#333" stroke-width="0.5" />
<line x1="244.00" y1="190.29" x2="245.30" y2="190.29" stroke="#333" stroke-width="0.5" />
<line x1="244.00" y1="189.10" x2="245.30" y2="189.10" stroke="#333" stroke-width="0.5" />
<line x1="244.00" y1="181.24" x2="245.30" y2="181.24" stroke="#333" stroke-width="0.5" />
<line x1="244.00" y1="176.65" x2="245.30" y2="176.65" stroke="#333" stroke-width="0.5" />
<line x1="244.00" y1="173.39" x2="245.30" y2="173.39" stroke="#333" stroke-width="0.5" />
<line x1="244.00" y1="170.86" x2="245.30" y2="170.86" stroke="#333" stroke-width="0.5" />
<line x1="244.00" y1="168.79" x2="245.30" y2="168.79" stroke="#333" stroke-width="0.5" />
<line x1="244.00" y1="167.04" x2="245.30" y2="167.04" stroke="#333" stroke-width="0.5" />
<line x1="244.00" y1="165.53" x2="245.30" y2="165.53" stroke="#333" stroke-width="0.5" />
<line x1="244.00" y1="164.19" x2="245.30" y2="164.19" stroke="#333" stroke-width="0.5" />
<line x1="244.00" y1="163.00" x2="245.30" y2="163.00" stroke="#333" stroke-width="0.5" />
<line x1="242.30" y1="163.00" x2="245.30" y2="163.00" stroke="#333" stroke-width="0.75" />
<text x="238.80" y="164.45" font-size="4.1" fill="#7a7a7a" text-anchor="end" stroke="#7a7a7a" stroke-width="0.04" >1</text>
<line x1="242.30" y1="189.10" x2="245.30" y2="189.10" stroke="#333" stroke-width="0.75" />
<text x="238.80" y="190.55" font-size="4.1" fill="#7a7a7a" text-anchor="end" stroke="#7a7a7a" stroke-width="0.04" >0.1</text>
<line x1="242.30" y1="215.20" x2="245.30" y2="215.20" stroke="#333" stroke-width="0.75" />
<text x="238.80" y="216.65" font-size="4.1" fill="#7a7a7a" text-anchor="end" stroke="#7a7a7a" stroke-width="0.04" >0.01</text>
<line x1="250.20" y1="172.90" x2="250.20" y2="175.80" stroke="#4a4a4a" stroke-width="0.75" />
<line x1="250.20" y1="187.30" x2="250.20" y2="193.20" stroke="#4a4a4a" stroke-width="0.75" />
<line x1="249.00" y1="172.90" x2="251.40" y2="172.90" stroke="#3a3a3a" stroke-width="0.85" />
<line x1="249.00" y1="193.20" x2="251.40" y2="193.20" stroke="#3a3a3a" stroke-width="0.85" />
<rect x="247.70" y="175.80" width="5.00" height="11.50" fill="#c3daef" stroke="#a9c8e6" stroke-width="0.35" />
<line x1="247.70" y1="181.90" x2="252.70" y2="181.90" stroke="#1e2e44" stroke-width="0.8" />
<circle cx="249.95" cy="170.5" r="0.5" fill="#555"/>
<line x1="257.05" y1="169.00" x2="257.05" y2="178.80" stroke="#4a4a4a" stroke-width="0.75" />
<line x1="257.05" y1="189.30" x2="257.05" y2="192.00" stroke="#4a4a4a" stroke-width="0.75" />
<line x1="255.85" y1="169.00" x2="258.25" y2="169.00" stroke="#3a3a3a" stroke-width="0.85" />
<line x1="255.85" y1="192.00" x2="258.25" y2="192.00" stroke="#3a3a3a" stroke-width="0.85" />
<rect x="254.55" y="178.80" width="5.00" height="10.50" fill="#74aedf" stroke="#5b9ad2" stroke-width="0.35" />
<line x1="254.55" y1="183.90" x2="259.55" y2="183.90" stroke="#1e2e44" stroke-width="0.8" />
<circle cx="257.08" cy="165.3" r="0.5" fill="#555"/>
<circle cx="257.05" cy="193.7" r="0.5" fill="#555"/>
<circle cx="256.72" cy="197.5" r="0.5" fill="#555"/>
<line x1="263.90" y1="180.50" x2="263.90" y2="183.00" stroke="#4a4a4a" stroke-width="0.75" />
<line x1="263.90" y1="193.20" x2="263.90" y2="195.40" stroke="#4a4a4a" stroke-width="0.75" />
<line x1="262.70" y1="180.50" x2="265.10" y2="180.50" stroke="#3a3a3a" stroke-width="0.85" />
<line x1="262.70" y1="195.40" x2="265.10" y2="195.40" stroke="#3a3a3a" stroke-width="0.85" />
<rect x="261.40" y="183.00" width="5.00" height="10.20" fill="#3d89ca" stroke="#2f79bb" stroke-width="0.35" />
<line x1="261.40" y1="187.00" x2="266.40" y2="187.00" stroke="#1e2e44" stroke-width="0.8" />
<circle cx="264.05" cy="171.7" r="0.5" fill="#555"/>
<circle cx="264.27" cy="198.3" r="0.5" fill="#555"/>
<line x1="270.75" y1="172.00" x2="270.75" y2="187.60" stroke="#4a4a4a" stroke-width="0.75" />
<line x1="270.75" y1="194.90" x2="270.75" y2="199.20" stroke="#4a4a4a" stroke-width="0.75" />
<line x1="269.55" y1="172.00" x2="271.95" y2="172.00" stroke="#3a3a3a" stroke-width="0.85" />
<line x1="269.55" y1="199.20" x2="271.95" y2="199.20" stroke="#3a3a3a" stroke-width="0.85" />
<rect x="268.25" y="187.60" width="5.00" height="7.30" fill="#2a63a4" stroke="#1f5290" stroke-width="0.35" />
<line x1="268.25" y1="190.70" x2="273.25" y2="190.70" stroke="#1e2e44" stroke-width="0.8" />
<circle cx="270.68" cy="170.0" r="0.5" fill="#555"/>
<line x1="250.40" y1="156.40" x2="271.40" y2="156.40" stroke="#4a4a4a" stroke-width="0.7" />
<text x="261.20" y="157.20" font-size="4.6" fill="#555" text-anchor="middle" stroke="#555" stroke-width="0.15" textLength="5.4" lengthAdjust="spacingAndGlyphs" >***</text>
<line x1="257.25" y1="161.50" x2="271.40" y2="161.50" stroke="#4a4a4a" stroke-width="0.7" />
<text x="264.63" y="162.30" font-size="4.6" fill="#555" text-anchor="middle" stroke="#555" stroke-width="0.15" textLength="5.4" lengthAdjust="spacingAndGlyphs" >***</text>
<line x1="245.30" y1="159.90" x2="245.30" y2="215.60" stroke="#222" stroke-width="0.85" />
<line x1="244.90" y1="215.25" x2="276.30" y2="215.25" stroke="#222" stroke-width="0.85" />
<line x1="250.20" y1="215.25" x2="250.20" y2="218.85" stroke="#333" stroke-width="0.7" />
<text x="250.20" y="225.50" font-size="4.5" fill="#555" text-anchor="middle" textLength="4.6" lengthAdjust="spacingAndGlyphs" >Q1</text>
<line x1="257.05" y1="215.25" x2="257.05" y2="218.85" stroke="#333" stroke-width="0.7" />
<text x="257.05" y="225.50" font-size="4.5" fill="#555" text-anchor="middle" textLength="4.6" lengthAdjust="spacingAndGlyphs" >Q2</text>
<line x1="263.90" y1="215.25" x2="263.90" y2="218.85" stroke="#333" stroke-width="0.7" />
<text x="263.90" y="225.50" font-size="4.5" fill="#555" text-anchor="middle" textLength="4.6" lengthAdjust="spacingAndGlyphs" >Q3</text>
<line x1="270.75" y1="215.25" x2="270.75" y2="218.85" stroke="#333" stroke-width="0.7" />
<text x="270.75" y="225.50" font-size="4.5" fill="#555" text-anchor="middle" textLength="4.6" lengthAdjust="spacingAndGlyphs" >Q4</text>
<text x="260.30" y="233.00" font-size="4.15" fill="#484848" text-anchor="middle" >cg15835232</text>
<text x="260.30" y="240.50" font-size="3.9" fill="#484848" text-anchor="middle" >-0.372</text>
<line x1="292.30" y1="215.20" x2="293.60" y2="215.20" stroke="#333" stroke-width="0.5" />
<line x1="292.30" y1="207.34" x2="293.60" y2="207.34" stroke="#333" stroke-width="0.5" />
<line x1="292.30" y1="202.75" x2="293.60" y2="202.75" stroke="#333" stroke-width="0.5" />
<line x1="292.30" y1="199.49" x2="293.60" y2="199.49" stroke="#333" stroke-width="0.5" />
<line x1="292.30" y1="196.96" x2="293.60" y2="196.96" stroke="#333" stroke-width="0.5" />
<line x1="292.30" y1="194.89" x2="293.60" y2="194.89" stroke="#333" stroke-width="0.5" />
<line x1="292.30" y1="193.14" x2="293.60" y2="193.14" stroke="#333" stroke-width="0.5" />
<line x1="292.30" y1="191.63" x2="293.60" y2="191.63" stroke="#333" stroke-width="0.5" />
<line x1="292.30" y1="190.29" x2="293.60" y2="190.29" stroke="#333" stroke-width="0.5" />
<line x1="292.30" y1="189.10" x2="293.60" y2="189.10" stroke="#333" stroke-width="0.5" />
<line x1="292.30" y1="181.24" x2="293.60" y2="181.24" stroke="#333" stroke-width="0.5" />
<line x1="292.30" y1="176.65" x2="293.60" y2="176.65" stroke="#333" stroke-width="0.5" />
<line x1="292.30" y1="173.39" x2="293.60" y2="173.39" stroke="#333" stroke-width="0.5" />
<line x1="292.30" y1="170.86" x2="293.60" y2="170.86" stroke="#333" stroke-width="0.5" />
<line x1="292.30" y1="168.79" x2="293.60" y2="168.79" stroke="#333" stroke-width="0.5" />
<line x1="292.30" y1="167.04" x2="293.60" y2="167.04" stroke="#333" stroke-width="0.5" />
<line x1="292.30" y1="165.53" x2="293.60" y2="165.53" stroke="#333" stroke-width="0.5" />
<line x1="292.30" y1="164.19" x2="293.60" y2="164.19" stroke="#333" stroke-width="0.5" />
<line x1="292.30" y1="163.00" x2="293.60" y2="163.00" stroke="#333" stroke-width="0.5" />
<line x1="290.60" y1="163.00" x2="293.60" y2="163.00" stroke="#333" stroke-width="0.75" />
<text x="287.10" y="164.45" font-size="4.1" fill="#7a7a7a" text-anchor="end" stroke="#7a7a7a" stroke-width="0.04" >1</text>
<line x1="290.60" y1="189.10" x2="293.60" y2="189.10" stroke="#333" stroke-width="0.75" />
<text x="287.10" y="190.55" font-size="4.1" fill="#7a7a7a" text-anchor="end" stroke="#7a7a7a" stroke-width="0.04" >0.1</text>
<line x1="290.60" y1="215.20" x2="293.60" y2="215.20" stroke="#333" stroke-width="0.75" />
<text x="287.10" y="216.65" font-size="4.1" fill="#7a7a7a" text-anchor="end" stroke="#7a7a7a" stroke-width="0.04" >0.01</text>
<line x1="298.50" y1="174.60" x2="298.50" y2="180.20" stroke="#4a4a4a" stroke-width="0.75" />
<line x1="298.50" y1="196.10" x2="298.50" y2="203.40" stroke="#4a4a4a" stroke-width="0.75" />
<line x1="297.30" y1="174.60" x2="299.70" y2="174.60" stroke="#3a3a3a" stroke-width="0.85" />
<line x1="297.30" y1="203.40" x2="299.70" y2="203.40" stroke="#3a3a3a" stroke-width="0.85" />
<rect x="296.00" y="180.20" width="5.00" height="15.90" fill="#c3daef" stroke="#a9c8e6" stroke-width="0.35" />
<line x1="296.00" y1="188.60" x2="301.00" y2="188.60" stroke="#1e2e44" stroke-width="0.8" />
<circle cx="298.66" cy="170.0" r="0.5" fill="#555"/>
<circle cx="298.23" cy="205.1" r="0.5" fill="#555"/>
<line x1="305.35" y1="171.70" x2="305.35" y2="180.20" stroke="#4a4a4a" stroke-width="0.75" />
<line x1="305.35" y1="196.10" x2="305.35" y2="200.50" stroke="#4a4a4a" stroke-width="0.75" />
<line x1="304.15" y1="171.70" x2="306.55" y2="171.70" stroke="#3a3a3a" stroke-width="0.85" />
<line x1="304.15" y1="200.50" x2="306.55" y2="200.50" stroke="#3a3a3a" stroke-width="0.85" />
<rect x="302.85" y="180.20" width="5.00" height="15.90" fill="#74aedf" stroke="#5b9ad2" stroke-width="0.35" />
<line x1="302.85" y1="189.00" x2="307.85" y2="189.00" stroke="#1e2e44" stroke-width="0.8" />
<circle cx="305.30" cy="166.6" r="0.5" fill="#555"/>
<circle cx="305.19" cy="168.3" r="0.5" fill="#555"/>
<circle cx="305.53" cy="204.2" r="0.5" fill="#555"/>
<line x1="312.20" y1="170.70" x2="312.20" y2="183.90" stroke="#4a4a4a" stroke-width="0.75" />
<line x1="312.20" y1="203.90" x2="312.20" y2="203.90" stroke="#4a4a4a" stroke-width="0.75" />
<line x1="311.00" y1="170.70" x2="313.40" y2="170.70" stroke="#3a3a3a" stroke-width="0.85" />
<line x1="311.00" y1="203.90" x2="313.40" y2="203.90" stroke="#3a3a3a" stroke-width="0.85" />
<rect x="309.70" y="183.90" width="5.00" height="20.00" fill="#3d89ca" stroke="#2f79bb" stroke-width="0.35" />
<line x1="309.70" y1="196.10" x2="314.70" y2="196.10" stroke="#1e2e44" stroke-width="0.8" />
<circle cx="312.36" cy="167.0" r="0.5" fill="#555"/>
<circle cx="312.50" cy="207.6" r="0.5" fill="#555"/>
<circle cx="312.17" cy="210.7" r="0.5" fill="#555"/>
<line x1="319.05" y1="169.00" x2="319.05" y2="180.20" stroke="#4a4a4a" stroke-width="0.75" />
<line x1="319.05" y1="203.90" x2="319.05" y2="205.90" stroke="#4a4a4a" stroke-width="0.75" />
<line x1="317.85" y1="169.00" x2="320.25" y2="169.00" stroke="#3a3a3a" stroke-width="0.85" />
<line x1="317.85" y1="205.90" x2="320.25" y2="205.90" stroke="#3a3a3a" stroke-width="0.85" />
<rect x="316.55" y="180.20" width="5.00" height="23.70" fill="#2a63a4" stroke="#1f5290" stroke-width="0.35" />
<line x1="316.55" y1="199.20" x2="321.55" y2="199.20" stroke="#1e2e44" stroke-width="0.8" />
<circle cx="318.71" cy="164.9" r="0.5" fill="#555"/>
<circle cx="318.76" cy="209.0" r="0.5" fill="#555"/>
<circle cx="318.78" cy="211.0" r="0.5" fill="#555"/>
<line x1="298.70" y1="156.40" x2="319.70" y2="156.40" stroke="#4a4a4a" stroke-width="0.7" />
<text x="309.50" y="157.20" font-size="4.6" fill="#555" text-anchor="middle" stroke="#555" stroke-width="0.15" >*</text>
<line x1="305.55" y1="161.50" x2="319.70" y2="161.50" stroke="#4a4a4a" stroke-width="0.7" />
<text x="312.93" y="162.30" font-size="4.6" fill="#555" text-anchor="middle" stroke="#555" stroke-width="0.15" >*</text>
<line x1="293.60" y1="159.90" x2="293.60" y2="215.60" stroke="#222" stroke-width="0.85" />
<line x1="293.20" y1="215.25" x2="324.60" y2="215.25" stroke="#222" stroke-width="0.85" />
<line x1="298.50" y1="215.25" x2="298.50" y2="218.85" stroke="#333" stroke-width="0.7" />
<text x="298.50" y="225.50" font-size="4.5" fill="#555" text-anchor="middle" textLength="4.6" lengthAdjust="spacingAndGlyphs" >Q1</text>
<line x1="305.35" y1="215.25" x2="305.35" y2="218.85" stroke="#333" stroke-width="0.7" />
<text x="305.35" y="225.50" font-size="4.5" fill="#555" text-anchor="middle" textLength="4.6" lengthAdjust="spacingAndGlyphs" >Q2</text>
<line x1="312.20" y1="215.25" x2="312.20" y2="218.85" stroke="#333" stroke-width="0.7" />
<text x="312.20" y="225.50" font-size="4.5" fill="#555" text-anchor="middle" textLength="4.6" lengthAdjust="spacingAndGlyphs" >Q3</text>
<line x1="319.05" y1="215.25" x2="319.05" y2="218.85" stroke="#333" stroke-width="0.7" />
<text x="319.05" y="225.50" font-size="4.5" fill="#555" text-anchor="middle" textLength="4.6" lengthAdjust="spacingAndGlyphs" >Q4</text>
<text x="308.60" y="233.00" font-size="4.15" fill="#484848" text-anchor="middle" >cg02831154</text>
<text x="308.60" y="240.50" font-size="3.9" fill="#484848" text-anchor="middle" >-0.197</text>
<line x1="341.10" y1="215.20" x2="342.40" y2="215.20" stroke="#333" stroke-width="0.5" />
<line x1="341.10" y1="207.34" x2="342.40" y2="207.34" stroke="#333" stroke-width="0.5" />
<line x1="341.10" y1="202.75" x2="342.40" y2="202.75" stroke="#333" stroke-width="0.5" />
<line x1="341.10" y1="199.49" x2="342.40" y2="199.49" stroke="#333" stroke-width="0.5" />
<line x1="341.10" y1="196.96" x2="342.40" y2="196.96" stroke="#333" stroke-width="0.5" />
<line x1="341.10" y1="194.89" x2="342.40" y2="194.89" stroke="#333" stroke-width="0.5" />
<line x1="341.10" y1="193.14" x2="342.40" y2="193.14" stroke="#333" stroke-width="0.5" />
<line x1="341.10" y1="191.63" x2="342.40" y2="191.63" stroke="#333" stroke-width="0.5" />
<line x1="341.10" y1="190.29" x2="342.40" y2="190.29" stroke="#333" stroke-width="0.5" />
<line x1="341.10" y1="189.10" x2="342.40" y2="189.10" stroke="#333" stroke-width="0.5" />
<line x1="341.10" y1="181.24" x2="342.40" y2="181.24" stroke="#333" stroke-width="0.5" />
<line x1="341.10" y1="176.65" x2="342.40" y2="176.65" stroke="#333" stroke-width="0.5" />
<line x1="341.10" y1="173.39" x2="342.40" y2="173.39" stroke="#333" stroke-width="0.5" />
<line x1="341.10" y1="170.86" x2="342.40" y2="170.86" stroke="#333" stroke-width="0.5" />
<line x1="341.10" y1="168.79" x2="342.40" y2="168.79" stroke="#333" stroke-width="0.5" />
<line x1="341.10" y1="167.04" x2="342.40" y2="167.04" stroke="#333" stroke-width="0.5" />
<line x1="341.10" y1="165.53" x2="342.40" y2="165.53" stroke="#333" stroke-width="0.5" />
<line x1="341.10" y1="164.19" x2="342.40" y2="164.19" stroke="#333" stroke-width="0.5" />
<line x1="341.10" y1="163.00" x2="342.40" y2="163.00" stroke="#333" stroke-width="0.5" />
<line x1="339.40" y1="163.00" x2="342.40" y2="163.00" stroke="#333" stroke-width="0.75" />
<text x="335.90" y="164.45" font-size="4.1" fill="#7a7a7a" text-anchor="end" stroke="#7a7a7a" stroke-width="0.04" >1</text>
<line x1="339.40" y1="189.10" x2="342.40" y2="189.10" stroke="#333" stroke-width="0.75" />
<text x="335.90" y="190.55" font-size="4.1" fill="#7a7a7a" text-anchor="end" stroke="#7a7a7a" stroke-width="0.04" >0.1</text>
<line x1="339.40" y1="215.20" x2="342.40" y2="215.20" stroke="#333" stroke-width="0.75" />
<text x="335.90" y="216.65" font-size="4.1" fill="#7a7a7a" text-anchor="end" stroke="#7a7a7a" stroke-width="0.04" >0.01</text>
<line x1="347.30" y1="182.20" x2="347.30" y2="193.20" stroke="#4a4a4a" stroke-width="0.75" />
<line x1="347.30" y1="210.20" x2="347.30" y2="211.00" stroke="#4a4a4a" stroke-width="0.75" />
<line x1="346.10" y1="182.20" x2="348.50" y2="182.20" stroke="#3a3a3a" stroke-width="0.85" />
<line x1="346.10" y1="211.00" x2="348.50" y2="211.00" stroke="#3a3a3a" stroke-width="0.85" />
<rect x="344.80" y="193.20" width="5.00" height="17.00" fill="#c3daef" stroke="#a9c8e6" stroke-width="0.35" />
<line x1="344.80" y1="205.10" x2="349.80" y2="205.10" stroke="#1e2e44" stroke-width="0.8" />
<circle cx="347.12" cy="176.3" r="0.5" fill="#555"/>
<line x1="354.15" y1="170.70" x2="354.15" y2="187.00" stroke="#4a4a4a" stroke-width="0.75" />
<line x1="354.15" y1="209.00" x2="354.15" y2="210.70" stroke="#4a4a4a" stroke-width="0.75" />
<line x1="352.95" y1="170.70" x2="355.35" y2="170.70" stroke="#3a3a3a" stroke-width="0.85" />
<line x1="352.95" y1="210.70" x2="355.35" y2="210.70" stroke="#3a3a3a" stroke-width="0.85" />
<rect x="351.65" y="187.00" width="5.00" height="22.00" fill="#74aedf" stroke="#5b9ad2" stroke-width="0.35" />
<line x1="351.65" y1="197.50" x2="356.65" y2="197.50" stroke="#1e2e44" stroke-width="0.8" />
<circle cx="354.01" cy="166.6" r="0.5" fill="#555"/>
<line x1="361.00" y1="167.00" x2="361.00" y2="180.20" stroke="#4a4a4a" stroke-width="0.75" />
<line x1="361.00" y1="210.70" x2="361.00" y2="211.90" stroke="#4a4a4a" stroke-width="0.75" />
<line x1="359.80" y1="167.00" x2="362.20" y2="167.00" stroke="#3a3a3a" stroke-width="0.85" />
<line x1="359.80" y1="211.90" x2="362.20" y2="211.90" stroke="#3a3a3a" stroke-width="0.85" />
<rect x="358.50" y="180.20" width="5.00" height="30.50" fill="#3d89ca" stroke="#2f79bb" stroke-width="0.35" />
<line x1="358.50" y1="204.20" x2="363.50" y2="204.20" stroke="#1e2e44" stroke-width="0.8" />
<line x1="367.85" y1="167.00" x2="367.85" y2="170.00" stroke="#4a4a4a" stroke-width="0.75" />
<line x1="367.85" y1="208.50" x2="367.85" y2="210.20" stroke="#4a4a4a" stroke-width="0.75" />
<line x1="366.65" y1="167.00" x2="369.05" y2="167.00" stroke="#3a3a3a" stroke-width="0.85" />
<line x1="366.65" y1="210.20" x2="369.05" y2="210.20" stroke="#3a3a3a" stroke-width="0.85" />
<rect x="365.35" y="170.00" width="5.00" height="38.50" fill="#2a63a4" stroke="#1f5290" stroke-width="0.35" />
<line x1="365.35" y1="188.60" x2="370.35" y2="188.60" stroke="#1e2e44" stroke-width="0.8" />
<circle cx="367.85" cy="164.4" r="0.5" fill="#555"/>
<line x1="347.50" y1="161.50" x2="368.50" y2="161.50" stroke="#4a4a4a" stroke-width="0.7" />
<text x="358.30" y="162.30" font-size="4.6" fill="#555" text-anchor="middle" stroke="#555" stroke-width="0.15" >*</text>
<line x1="342.40" y1="159.90" x2="342.40" y2="215.60" stroke="#222" stroke-width="0.85" />
<line x1="342.00" y1="215.25" x2="373.40" y2="215.25" stroke="#222" stroke-width="0.85" />
<line x1="347.30" y1="215.25" x2="347.30" y2="218.85" stroke="#333" stroke-width="0.7" />
<text x="347.30" y="225.50" font-size="4.5" fill="#555" text-anchor="middle" textLength="4.6" lengthAdjust="spacingAndGlyphs" >Q1</text>
<line x1="354.15" y1="215.25" x2="354.15" y2="218.85" stroke="#333" stroke-width="0.7" />
<text x="354.15" y="225.50" font-size="4.5" fill="#555" text-anchor="middle" textLength="4.6" lengthAdjust="spacingAndGlyphs" >Q2</text>
<line x1="361.00" y1="215.25" x2="361.00" y2="218.85" stroke="#333" stroke-width="0.7" />
<text x="361.00" y="225.50" font-size="4.5" fill="#555" text-anchor="middle" textLength="4.6" lengthAdjust="spacingAndGlyphs" >Q3</text>
<line x1="367.85" y1="215.25" x2="367.85" y2="218.85" stroke="#333" stroke-width="0.7" />
<text x="367.85" y="225.50" font-size="4.5" fill="#555" text-anchor="middle" textLength="4.6" lengthAdjust="spacingAndGlyphs" >Q4</text>
<text x="357.40" y="233.00" font-size="4.15" fill="#484848" text-anchor="middle" >cg01185482</text>
<text x="357.40" y="240.50" font-size="3.9" fill="#484848" text-anchor="middle" >0.151</text>
<line x1="387.20" y1="215.30" x2="388.50" y2="215.30" stroke="#333" stroke-width="0.5" />
<line x1="387.20" y1="201.46" x2="388.50" y2="201.46" stroke="#333" stroke-width="0.5" />
<line x1="387.20" y1="189.77" x2="388.50" y2="189.77" stroke="#333" stroke-width="0.5" />
<line x1="387.20" y1="179.63" x2="388.50" y2="179.63" stroke="#333" stroke-width="0.5" />
<line x1="387.20" y1="170.70" x2="388.50" y2="170.70" stroke="#333" stroke-width="0.5" />
<line x1="387.20" y1="162.70" x2="388.50" y2="162.70" stroke="#333" stroke-width="0.5" />
<line x1="385.50" y1="162.70" x2="388.50" y2="162.70" stroke="#333" stroke-width="0.75" />
<text x="382.00" y="164.15" font-size="4.1" fill="#7a7a7a" text-anchor="end" stroke="#7a7a7a" stroke-width="0.04" >1</text>
<line x1="385.50" y1="215.30" x2="388.50" y2="215.30" stroke="#333" stroke-width="0.75" />
<text x="382.00" y="216.75" font-size="4.1" fill="#7a7a7a" text-anchor="end" stroke="#7a7a7a" stroke-width="0.04" >0.5</text>
<line x1="393.40" y1="166.70" x2="393.40" y2="168.10" stroke="#4a4a4a" stroke-width="0.75" />
<line x1="393.40" y1="169.90" x2="393.40" y2="175.60" stroke="#4a4a4a" stroke-width="0.75" />
<line x1="392.20" y1="166.70" x2="394.60" y2="166.70" stroke="#3a3a3a" stroke-width="0.85" />
<line x1="392.20" y1="175.60" x2="394.60" y2="175.60" stroke="#3a3a3a" stroke-width="0.85" />
<rect x="390.90" y="168.10" width="5.00" height="1.80" fill="#c3daef" stroke="#a9c8e6" stroke-width="0.35" />
<line x1="390.90" y1="169.00" x2="395.90" y2="169.00" stroke="#1e2e44" stroke-width="0.8" />
<circle cx="393.24" cy="199.2" r="0.5" fill="#555"/>
<line x1="400.25" y1="167.30" x2="400.25" y2="168.70" stroke="#4a4a4a" stroke-width="0.75" />
<line x1="400.25" y1="170.50" x2="400.25" y2="174.40" stroke="#4a4a4a" stroke-width="0.75" />
<line x1="399.05" y1="167.30" x2="401.45" y2="167.30" stroke="#3a3a3a" stroke-width="0.85" />
<line x1="399.05" y1="174.40" x2="401.45" y2="174.40" stroke="#3a3a3a" stroke-width="0.85" />
<rect x="397.75" y="168.70" width="5.00" height="1.80" fill="#74aedf" stroke="#5b9ad2" stroke-width="0.35" />
<line x1="397.75" y1="169.60" x2="402.75" y2="169.60" stroke="#1e2e44" stroke-width="0.8" />
<circle cx="400.44" cy="191.4" r="0.5" fill="#555"/>
<line x1="407.10" y1="167.50" x2="407.10" y2="169.10" stroke="#4a4a4a" stroke-width="0.75" />
<line x1="407.10" y1="171.00" x2="407.10" y2="175.60" stroke="#4a4a4a" stroke-width="0.75" />
<line x1="405.90" y1="167.50" x2="408.30" y2="167.50" stroke="#3a3a3a" stroke-width="0.85" />
<line x1="405.90" y1="175.60" x2="408.30" y2="175.60" stroke="#3a3a3a" stroke-width="0.85" />
<rect x="404.60" y="169.10" width="5.00" height="1.90" fill="#3d89ca" stroke="#2f79bb" stroke-width="0.35" />
<line x1="404.60" y1="170.00" x2="409.60" y2="170.00" stroke="#1e2e44" stroke-width="0.8" />
<circle cx="407.08" cy="178.4" r="0.5" fill="#555"/>
<circle cx="407.38" cy="179.6" r="0.5" fill="#555"/>
<line x1="413.95" y1="167.50" x2="413.95" y2="168.90" stroke="#4a4a4a" stroke-width="0.75" />
<line x1="413.95" y1="172.90" x2="413.95" y2="180.40" stroke="#4a4a4a" stroke-width="0.75" />
<line x1="412.75" y1="167.50" x2="415.15" y2="167.50" stroke="#3a3a3a" stroke-width="0.85" />
<line x1="412.75" y1="180.40" x2="415.15" y2="180.40" stroke="#3a3a3a" stroke-width="0.85" />
<rect x="411.45" y="168.90" width="5.00" height="4.00" fill="#2a63a4" stroke="#1f5290" stroke-width="0.35" />
<line x1="411.45" y1="171.00" x2="416.45" y2="171.00" stroke="#1e2e44" stroke-width="0.8" />
<circle cx="414.18" cy="183.2" r="0.5" fill="#555"/>
<circle cx="413.56" cy="197.0" r="0.5" fill="#555"/>
<circle cx="414.31" cy="209.2" r="0.5" fill="#555"/>
<line x1="393.60" y1="161.00" x2="414.60" y2="161.00" stroke="#4a4a4a" stroke-width="0.7" />
<text x="404.40" y="161.80" font-size="4.6" fill="#555" text-anchor="middle" stroke="#555" stroke-width="0.15" >*</text>
<line x1="388.50" y1="159.90" x2="388.50" y2="215.60" stroke="#222" stroke-width="0.85" />
<line x1="388.10" y1="215.25" x2="419.50" y2="215.25" stroke="#222" stroke-width="0.85" />
<line x1="393.40" y1="215.25" x2="393.40" y2="218.85" stroke="#333" stroke-width="0.7" />
<text x="393.40" y="225.50" font-size="4.5" fill="#555" text-anchor="middle" textLength="4.6" lengthAdjust="spacingAndGlyphs" >Q1</text>
<line x1="400.25" y1="215.25" x2="400.25" y2="218.85" stroke="#333" stroke-width="0.7" />
<text x="400.25" y="225.50" font-size="4.5" fill="#555" text-anchor="middle" textLength="4.6" lengthAdjust="spacingAndGlyphs" >Q2</text>
<line x1="407.10" y1="215.25" x2="407.10" y2="218.85" stroke="#333" stroke-width="0.7" />
<text x="407.10" y="225.50" font-size="4.5" fill="#555" text-anchor="middle" textLength="4.6" lengthAdjust="spacingAndGlyphs" >Q3</text>
<line x1="413.95" y1="215.25" x2="413.95" y2="218.85" stroke="#333" stroke-width="0.7" />
<text x="413.95" y="225.50" font-size="4.5" fill="#555" text-anchor="middle" textLength="4.6" lengthAdjust="spacingAndGlyphs" >Q4</text>
<text x="403.50" y="233.00" font-size="4.15" fill="#484848" text-anchor="middle" >cg08865625</text>
<text x="403.50" y="240.50" font-size="3.9" fill="#484848" text-anchor="middle" >-0.294</text>
<line x1="433.80" y1="214.80" x2="435.10" y2="214.80" stroke="#333" stroke-width="0.5" />
<line x1="433.80" y1="199.09" x2="435.10" y2="199.09" stroke="#333" stroke-width="0.5" />
<line x1="433.80" y1="189.89" x2="435.10" y2="189.89" stroke="#333" stroke-width="0.5" />
<line x1="433.80" y1="183.37" x2="435.10" y2="183.37" stroke="#333" stroke-width="0.5" />
<line x1="433.80" y1="178.31" x2="435.10" y2="178.31" stroke="#333" stroke-width="0.5" />
<line x1="433.80" y1="174.18" x2="435.10" y2="174.18" stroke="#333" stroke-width="0.5" />
<line x1="433.80" y1="170.69" x2="435.10" y2="170.69" stroke="#333" stroke-width="0.5" />
<line x1="433.80" y1="167.66" x2="435.10" y2="167.66" stroke="#333" stroke-width="0.5" />
<line x1="433.80" y1="164.99" x2="435.10" y2="164.99" stroke="#333" stroke-width="0.5" />
<line x1="433.80" y1="162.60" x2="435.10" y2="162.60" stroke="#333" stroke-width="0.5" />
<line x1="432.10" y1="162.60" x2="435.10" y2="162.60" stroke="#333" stroke-width="0.75" />
<text x="428.60" y="164.05" font-size="4.1" fill="#7a7a7a" text-anchor="end" stroke="#7a7a7a" stroke-width="0.04" >1</text>
<line x1="432.10" y1="214.80" x2="435.10" y2="214.80" stroke="#333" stroke-width="0.75" />
<text x="428.60" y="216.25" font-size="4.1" fill="#7a7a7a" text-anchor="end" stroke="#7a7a7a" stroke-width="0.04" >0.1</text>
<line x1="440.00" y1="163.50" x2="440.00" y2="164.30" stroke="#4a4a4a" stroke-width="0.75" />
<line x1="440.00" y1="165.50" x2="440.00" y2="166.80" stroke="#4a4a4a" stroke-width="0.75" />
<line x1="438.80" y1="163.50" x2="441.20" y2="163.50" stroke="#3a3a3a" stroke-width="0.85" />
<line x1="438.80" y1="166.80" x2="441.20" y2="166.80" stroke="#3a3a3a" stroke-width="0.85" />
<rect x="437.50" y="164.30" width="5.00" height="1.20" fill="#c3daef" stroke="#a9c8e6" stroke-width="0.35" />
<line x1="437.50" y1="164.90" x2="442.50" y2="164.90" stroke="#1e2e44" stroke-width="0.8" />
<circle cx="440.07" cy="171.0" r="0.5" fill="#555"/>
<line x1="446.85" y1="163.50" x2="446.85" y2="164.30" stroke="#4a4a4a" stroke-width="0.75" />
<line x1="446.85" y1="165.50" x2="446.85" y2="167.20" stroke="#4a4a4a" stroke-width="0.75" />
<line x1="445.65" y1="163.50" x2="448.05" y2="163.50" stroke="#3a3a3a" stroke-width="0.85" />
<line x1="445.65" y1="167.20" x2="448.05" y2="167.20" stroke="#3a3a3a" stroke-width="0.85" />
<rect x="444.35" y="164.30" width="5.00" height="1.20" fill="#74aedf" stroke="#5b9ad2" stroke-width="0.35" />
<line x1="444.35" y1="164.90" x2="449.35" y2="164.90" stroke="#1e2e44" stroke-width="0.8" />
<circle cx="446.56" cy="171.9" r="0.5" fill="#555"/>
<line x1="453.70" y1="163.80" x2="453.70" y2="165.20" stroke="#4a4a4a" stroke-width="0.75" />
<line x1="453.70" y1="167.70" x2="453.70" y2="191.40" stroke="#4a4a4a" stroke-width="0.75" />
<line x1="452.50" y1="163.80" x2="454.90" y2="163.80" stroke="#3a3a3a" stroke-width="0.85" />
<line x1="452.50" y1="191.40" x2="454.90" y2="191.40" stroke="#3a3a3a" stroke-width="0.85" />
<rect x="451.20" y="165.20" width="5.00" height="2.50" fill="#3d89ca" stroke="#2f79bb" stroke-width="0.35" />
<line x1="451.20" y1="166.40" x2="456.20" y2="166.40" stroke="#1e2e44" stroke-width="0.8" />
<circle cx="453.38" cy="193.6" r="0.5" fill="#555"/>
<circle cx="453.77" cy="197.6" r="0.5" fill="#555"/>
<circle cx="453.58" cy="213.4" r="0.5" fill="#555"/>
<line x1="460.55" y1="164.30" x2="460.55" y2="165.50" stroke="#4a4a4a" stroke-width="0.75" />
<line x1="460.55" y1="168.50" x2="460.55" y2="181.20" stroke="#4a4a4a" stroke-width="0.75" />
<line x1="459.35" y1="164.30" x2="461.75" y2="164.30" stroke="#3a3a3a" stroke-width="0.85" />
<line x1="459.35" y1="181.20" x2="461.75" y2="181.20" stroke="#3a3a3a" stroke-width="0.85" />
<rect x="458.05" y="165.50" width="5.00" height="3.00" fill="#2a63a4" stroke="#1f5290" stroke-width="0.35" />
<line x1="458.05" y1="166.90" x2="463.05" y2="166.90" stroke="#1e2e44" stroke-width="0.8" />
<circle cx="460.65" cy="183.8" r="0.5" fill="#555"/>
<circle cx="460.64" cy="186.3" r="0.5" fill="#555"/>
<circle cx="460.63" cy="193.6" r="0.5" fill="#555"/>
<line x1="435.10" y1="159.90" x2="435.10" y2="215.60" stroke="#222" stroke-width="0.85" />
<line x1="434.70" y1="215.25" x2="466.10" y2="215.25" stroke="#222" stroke-width="0.85" />
<line x1="440.00" y1="215.25" x2="440.00" y2="218.85" stroke="#333" stroke-width="0.7" />
<text x="440.00" y="225.50" font-size="4.5" fill="#555" text-anchor="middle" textLength="4.6" lengthAdjust="spacingAndGlyphs" >Q1</text>
<line x1="446.85" y1="215.25" x2="446.85" y2="218.85" stroke="#333" stroke-width="0.7" />
<text x="446.85" y="225.50" font-size="4.5" fill="#555" text-anchor="middle" textLength="4.6" lengthAdjust="spacingAndGlyphs" >Q2</text>
<line x1="453.70" y1="215.25" x2="453.70" y2="218.85" stroke="#333" stroke-width="0.7" />
<text x="453.70" y="225.50" font-size="4.5" fill="#555" text-anchor="middle" textLength="4.6" lengthAdjust="spacingAndGlyphs" >Q3</text>
<line x1="460.55" y1="215.25" x2="460.55" y2="218.85" stroke="#333" stroke-width="0.7" />
<text x="460.55" y="225.50" font-size="4.5" fill="#555" text-anchor="middle" textLength="4.6" lengthAdjust="spacingAndGlyphs" >Q4</text>
<text x="450.10" y="233.00" font-size="4.15" fill="#484848" text-anchor="middle" >cg17254393</text>
<text x="450.10" y="240.50" font-size="3.9" fill="#484848" text-anchor="middle" >-0.279</text>
<line x1="479.70" y1="213.30" x2="481.00" y2="213.30" stroke="#333" stroke-width="0.5" />
<line x1="479.70" y1="194.24" x2="481.00" y2="194.24" stroke="#333" stroke-width="0.5" />
<line x1="479.70" y1="177.44" x2="481.00" y2="177.44" stroke="#333" stroke-width="0.5" />
<line x1="479.70" y1="162.40" x2="481.00" y2="162.40" stroke="#333" stroke-width="0.5" />
<line x1="478.00" y1="162.40" x2="481.00" y2="162.40" stroke="#333" stroke-width="0.75" />
<text x="474.50" y="163.85" font-size="4.1" fill="#7a7a7a" text-anchor="end" stroke="#7a7a7a" stroke-width="0.04" >1</text>
<line x1="478.00" y1="213.30" x2="481.00" y2="213.30" stroke="#333" stroke-width="0.75" />
<text x="474.50" y="214.75" font-size="4.1" fill="#7a7a7a" text-anchor="end" stroke="#7a7a7a" stroke-width="0.04" >0.7</text>
<line x1="485.90" y1="170.50" x2="485.90" y2="173.40" stroke="#4a4a4a" stroke-width="0.75" />
<line x1="485.90" y1="177.80" x2="485.90" y2="183.80" stroke="#4a4a4a" stroke-width="0.75" />
<line x1="484.70" y1="170.50" x2="487.10" y2="170.50" stroke="#3a3a3a" stroke-width="0.85" />
<line x1="484.70" y1="183.80" x2="487.10" y2="183.80" stroke="#3a3a3a" stroke-width="0.85" />
<rect x="483.40" y="173.40" width="5.00" height="4.40" fill="#c3daef" stroke="#a9c8e6" stroke-width="0.35" />
<line x1="483.40" y1="174.10" x2="488.40" y2="174.10" stroke="#1e2e44" stroke-width="0.8" />
<circle cx="485.66" cy="186.6" r="0.5" fill="#555"/>
<circle cx="486.00" cy="188.4" r="0.5" fill="#555"/>
<circle cx="485.57" cy="190.2" r="0.5" fill="#555"/>
<line x1="492.75" y1="171.60" x2="492.75" y2="173.80" stroke="#4a4a4a" stroke-width="0.75" />
<line x1="492.75" y1="178.30" x2="492.75" y2="181.10" stroke="#4a4a4a" stroke-width="0.75" />
<line x1="491.55" y1="171.60" x2="493.95" y2="171.60" stroke="#3a3a3a" stroke-width="0.85" />
<line x1="491.55" y1="181.10" x2="493.95" y2="181.10" stroke="#3a3a3a" stroke-width="0.85" />
<rect x="490.25" y="173.80" width="5.00" height="4.50" fill="#74aedf" stroke="#5b9ad2" stroke-width="0.35" />
<line x1="490.25" y1="175.60" x2="495.25" y2="175.60" stroke="#1e2e44" stroke-width="0.8" />
<circle cx="492.87" cy="186.6" r="0.5" fill="#555"/>
<line x1="499.60" y1="171.60" x2="499.60" y2="173.80" stroke="#4a4a4a" stroke-width="0.75" />
<line x1="499.60" y1="178.90" x2="499.60" y2="183.80" stroke="#4a4a4a" stroke-width="0.75" />
<line x1="498.40" y1="171.60" x2="500.80" y2="171.60" stroke="#3a3a3a" stroke-width="0.85" />
<line x1="498.40" y1="183.80" x2="500.80" y2="183.80" stroke="#3a3a3a" stroke-width="0.85" />
<rect x="497.10" y="173.80" width="5.00" height="5.10" fill="#3d89ca" stroke="#2f79bb" stroke-width="0.35" />
<line x1="497.10" y1="177.10" x2="502.10" y2="177.10" stroke="#1e2e44" stroke-width="0.8" />
<circle cx="499.64" cy="186.2" r="0.5" fill="#555"/>
<circle cx="499.82" cy="196.1" r="0.5" fill="#555"/>
<circle cx="499.56" cy="208.5" r="0.5" fill="#555"/>
<line x1="506.45" y1="171.00" x2="506.45" y2="173.80" stroke="#4a4a4a" stroke-width="0.75" />
<line x1="506.45" y1="184.70" x2="506.45" y2="186.00" stroke="#4a4a4a" stroke-width="0.75" />
<line x1="505.25" y1="171.00" x2="507.65" y2="171.00" stroke="#3a3a3a" stroke-width="0.85" />
<line x1="505.25" y1="186.00" x2="507.65" y2="186.00" stroke="#3a3a3a" stroke-width="0.85" />
<rect x="503.95" y="173.80" width="5.00" height="10.90" fill="#2a63a4" stroke="#1f5290" stroke-width="0.35" />
<line x1="503.95" y1="177.40" x2="508.95" y2="177.40" stroke="#1e2e44" stroke-width="0.8" />
<circle cx="506.28" cy="187.5" r="0.5" fill="#555"/>
<circle cx="506.30" cy="189.3" r="0.5" fill="#555"/>
<circle cx="506.55" cy="193.9" r="0.5" fill="#555"/>
<line x1="486.10" y1="156.40" x2="507.10" y2="156.40" stroke="#4a4a4a" stroke-width="0.7" />
<text x="496.90" y="157.20" font-size="4.6" fill="#555" text-anchor="middle" stroke="#555" stroke-width="0.15" textLength="5.4" lengthAdjust="spacingAndGlyphs" >***</text>
<line x1="492.95" y1="161.30" x2="507.10" y2="161.30" stroke="#4a4a4a" stroke-width="0.7" />
<text x="500.32" y="162.10" font-size="4.6" fill="#555" text-anchor="middle" stroke="#555" stroke-width="0.15" textLength="3.5" lengthAdjust="spacingAndGlyphs" >**</text>
<line x1="481.00" y1="159.90" x2="481.00" y2="215.60" stroke="#222" stroke-width="0.85" />
<line x1="480.60" y1="215.25" x2="512.00" y2="215.25" stroke="#222" stroke-width="0.85" />
<line x1="485.90" y1="215.25" x2="485.90" y2="218.85" stroke="#333" stroke-width="0.7" />
<text x="485.90" y="225.50" font-size="4.5" fill="#555" text-anchor="middle" textLength="4.6" lengthAdjust="spacingAndGlyphs" >Q1</text>
<line x1="492.75" y1="215.25" x2="492.75" y2="218.85" stroke="#333" stroke-width="0.7" />
<text x="492.75" y="225.50" font-size="4.5" fill="#555" text-anchor="middle" textLength="4.6" lengthAdjust="spacingAndGlyphs" >Q2</text>
<line x1="499.60" y1="215.25" x2="499.60" y2="218.85" stroke="#333" stroke-width="0.7" />
<text x="499.60" y="225.50" font-size="4.5" fill="#555" text-anchor="middle" textLength="4.6" lengthAdjust="spacingAndGlyphs" >Q3</text>
<line x1="506.45" y1="215.25" x2="506.45" y2="218.85" stroke="#333" stroke-width="0.7" />
<text x="506.45" y="225.50" font-size="4.5" fill="#555" text-anchor="middle" textLength="4.6" lengthAdjust="spacingAndGlyphs" >Q4</text>
<text x="496.00" y="233.00" font-size="4.15" fill="#484848" text-anchor="middle" >cg18608206</text>
<text x="496.00" y="240.50" font-size="3.9" fill="#484848" text-anchor="middle" >-0.172</text>
<line x1="7.2" y1="246.4" x2="513" y2="246.3" stroke="#666" stroke-width="0.7" stroke-dasharray="2.4,2.0"/>
<text x="7.40" y="282.60" font-size="11.8" fill="#1a1a1a" text-anchor="start" stroke="#1a1a1a" stroke-width="0.4" textLength="6.4" lengthAdjust="spacingAndGlyphs" >B</text>
<line x1="40.80" y1="297.90" x2="40.80" y2="356.20" stroke="#6a6a6a" stroke-width="1.1" />
<line x1="37.90" y1="301.50" x2="40.80" y2="301.50" stroke="#333" stroke-width="0.8" />
<text x="35.40" y="303.00" font-size="4.3" fill="#666" text-anchor="end" stroke="#666" stroke-width="0.08" textLength="5.8" lengthAdjust="spacingAndGlyphs" >1.0</text>
<line x1="37.90" y1="312.40" x2="40.80" y2="312.40" stroke="#333" stroke-width="0.8" />
<text x="35.40" y="313.90" font-size="4.3" fill="#666" text-anchor="end" stroke="#666" stroke-width="0.08" textLength="5.8" lengthAdjust="spacingAndGlyphs" >0.8</text>
<line x1="37.90" y1="323.30" x2="40.80" y2="323.30" stroke="#333" stroke-width="0.8" />
<text x="35.40" y="324.80" font-size="4.3" fill="#666" text-anchor="end" stroke="#666" stroke-width="0.08" textLength="5.8" lengthAdjust="spacingAndGlyphs" >0.6</text>
<line x1="37.90" y1="334.30" x2="40.80" y2="334.30" stroke="#333" stroke-width="0.8" />
<text x="35.40" y="335.80" font-size="4.3" fill="#666" text-anchor="end" stroke="#666" stroke-width="0.08" textLength="5.8" lengthAdjust="spacingAndGlyphs" >0.4</text>
<line x1="37.90" y1="345.20" x2="40.80" y2="345.20" stroke="#333" stroke-width="0.8" />
<text x="35.40" y="346.70" font-size="4.3" fill="#666" text-anchor="end" stroke="#666" stroke-width="0.08" textLength="5.8" lengthAdjust="spacingAndGlyphs" >0.2</text>
<line x1="37.90" y1="353.50" x2="40.80" y2="353.50" stroke="#333" stroke-width="0.8" />
<text x="35.40" y="355.00" font-size="4.3" fill="#666" text-anchor="end" stroke="#666" stroke-width="0.08" textLength="5.8" lengthAdjust="spacingAndGlyphs" >0.0</text>
<text x="23.80" y="351.00" font-size="6.3" fill="#222" text-anchor="start" stroke="#222" stroke-width="0.22" textLength="47.2" lengthAdjust="spacingAndGlyphs" transform="rotate(-90 23.80 351.00)" >Methylation level</text>
<circle cx="398.7" cy="292.8" r="1.25" fill="#1a7ab3" stroke="#0b3c5a" stroke-width="0.4"/>
<text x="403.30" y="294.30" font-size="5.0" fill="#444" text-anchor="start" stroke="#444" stroke-width="0.08" textLength="22.5" lengthAdjust="spacingAndGlyphs" >DNMT3A wt</text>
<circle cx="437.1" cy="292.8" r="1.25" fill="#b3332b" stroke="#5a1410" stroke-width="0.4"/>
<text x="441.50" y="294.30" font-size="5.0" fill="#444" text-anchor="start" stroke="#444" stroke-width="0.08" textLength="26.6" lengthAdjust="spacingAndGlyphs" >DNMT3A R882</text>
<rect x="46.30" y="344.80" width="12.30" height="5.30" fill="none" stroke="#d8857c" stroke-width="0.65"/>
<line x1="46.30" y1="347.40" x2="58.60" y2="347.40" stroke="#d8857c" stroke-width="0.6" />
<line x1="65.55" y1="306.90" x2="65.55" y2="329.10" stroke="#4db4e2" stroke-width="0.6" />
<line x1="63.25" y1="306.90" x2="67.85" y2="306.90" stroke="#4db4e2" stroke-width="0.6" />
<rect x="59.40" y="329.10" width="12.30" height="19.20" fill="none" stroke="#4db4e2" stroke-width="0.65"/>
<line x1="59.40" y1="342.60" x2="71.70" y2="342.60" stroke="#4db4e2" stroke-width="0.6" />
<circle cx="51.39" cy="344.58" r="0.74" fill="#8a2020" stroke="#2a0505" stroke-width="0.35"/>
<circle cx="53.36" cy="343.76" r="0.74" fill="#8a2020" stroke="#2a0505" stroke-width="0.35"/>
<circle cx="52.67" cy="346.84" r="0.74" fill="#8a2020" stroke="#2a0505" stroke-width="0.35"/>
<circle cx="49.80" cy="348.33" r="0.74" fill="#8a2020" stroke="#2a0505" stroke-width="0.35"/>
<circle cx="49.67" cy="347.55" r="0.74" fill="#8a2020" stroke="#2a0505" stroke-width="0.35"/>
<circle cx="49.87" cy="343.95" r="0.74" fill="#8a2020" stroke="#2a0505" stroke-width="0.35"/>
<circle cx="52.00" cy="351.68" r="0.74" fill="#8a2020" stroke="#2a0505" stroke-width="0.35"/>
<circle cx="50.19" cy="345.34" r="0.74" fill="#8a2020" stroke="#2a0505" stroke-width="0.35"/>
<circle cx="53.21" cy="352.95" r="0.74" fill="#8a2020" stroke="#2a0505" stroke-width="0.35"/>
<circle cx="52.91" cy="347.17" r="0.74" fill="#8a2020" stroke="#2a0505" stroke-width="0.35"/>
<circle cx="55.31" cy="343.49" r="0.74" fill="#8a2020" stroke="#2a0505" stroke-width="0.35"/>
<circle cx="54.60" cy="346.04" r="0.74" fill="#8a2020" stroke="#2a0505" stroke-width="0.35"/>
<circle cx="50.32" cy="344.24" r="0.74" fill="#8a2020" stroke="#2a0505" stroke-width="0.35"/>
<circle cx="51.30" cy="351.57" r="0.74" fill="#8a2020" stroke="#2a0505" stroke-width="0.35"/>
<circle cx="50.53" cy="349.11" r="0.74" fill="#8a2020" stroke="#2a0505" stroke-width="0.35"/>
<circle cx="53.28" cy="346.91" r="0.74" fill="#8a2020" stroke="#2a0505" stroke-width="0.35"/>
<circle cx="52.74" cy="343.66" r="0.74" fill="#8a2020" stroke="#2a0505" stroke-width="0.35"/>
<circle cx="49.81" cy="345.16" r="0.74" fill="#8a2020" stroke="#2a0505" stroke-width="0.35"/>
<circle cx="53.10" cy="310.40" r="0.74" fill="#8a2020" stroke="#2a0505" stroke-width="0.35"/>
<circle cx="52.19" cy="334.30" r="0.74" fill="#8a2020" stroke="#2a0505" stroke-width="0.35"/>
<circle cx="51.78" cy="332.60" r="0.74" fill="#8a2020" stroke="#2a0505" stroke-width="0.35"/>
<circle cx="52.76" cy="340.00" r="0.74" fill="#8a2020" stroke="#2a0505" stroke-width="0.35"/>
<circle cx="65.29" cy="310.30" r="0.74" fill="#1d7298" stroke="#03121a" stroke-width="0.4"/>
<circle cx="67.20" cy="314.69" r="0.74" fill="#1d7298" stroke="#03121a" stroke-width="0.4"/>
<circle cx="64.12" cy="313.32" r="0.74" fill="#1d7298" stroke="#03121a" stroke-width="0.4"/>
<circle cx="65.69" cy="316.63" r="0.74" fill="#1d7298" stroke="#03121a" stroke-width="0.4"/>
<circle cx="66.83" cy="310.17" r="0.74" fill="#1d7298" stroke="#03121a" stroke-width="0.4"/>
<circle cx="68.24" cy="308.30" r="0.74" fill="#1d7298" stroke="#03121a" stroke-width="0.4"/>
<circle cx="65.09" cy="315.33" r="0.74" fill="#1d7298" stroke="#03121a" stroke-width="0.4"/>
<circle cx="63.60" cy="323.87" r="0.74" fill="#1d7298" stroke="#03121a" stroke-width="0.4"/>
<circle cx="62.97" cy="326.02" r="0.74" fill="#1d7298" stroke="#03121a" stroke-width="0.4"/>
<circle cx="67.03" cy="324.88" r="0.74" fill="#1d7298" stroke="#03121a" stroke-width="0.4"/>
<circle cx="67.65" cy="321.76" r="0.74" fill="#1d7298" stroke="#03121a" stroke-width="0.4"/>
<circle cx="66.64" cy="325.13" r="0.74" fill="#1d7298" stroke="#03121a" stroke-width="0.4"/>
<circle cx="66.00" cy="323.47" r="0.74" fill="#1d7298" stroke="#03121a" stroke-width="0.4"/>
<circle cx="67.45" cy="329.34" r="0.74" fill="#1d7298" stroke="#03121a" stroke-width="0.4"/>
<circle cx="65.40" cy="325.97" r="0.74" fill="#1d7298" stroke="#03121a" stroke-width="0.4"/>
<circle cx="63.09" cy="326.42" r="0.74" fill="#1d7298" stroke="#03121a" stroke-width="0.4"/>
<circle cx="66.37" cy="329.92" r="0.74" fill="#1d7298" stroke="#03121a" stroke-width="0.4"/>
<circle cx="67.35" cy="321.42" r="0.74" fill="#1d7298" stroke="#03121a" stroke-width="0.4"/>
<circle cx="64.91" cy="326.02" r="0.74" fill="#1d7298" stroke="#03121a" stroke-width="0.4"/>
<circle cx="62.88" cy="323.54" r="0.74" fill="#1d7298" stroke="#03121a" stroke-width="0.4"/>
<circle cx="63.69" cy="319.41" r="0.74" fill="#1d7298" stroke="#03121a" stroke-width="0.4"/>
<circle cx="63.08" cy="327.22" r="0.74" fill="#1d7298" stroke="#03121a" stroke-width="0.4"/>
<circle cx="63.47" cy="320.97" r="0.74" fill="#1d7298" stroke="#03121a" stroke-width="0.4"/>
<circle cx="64.94" cy="328.46" r="0.74" fill="#1d7298" stroke="#03121a" stroke-width="0.4"/>
<circle cx="63.20" cy="323.39" r="0.74" fill="#1d7298" stroke="#03121a" stroke-width="0.4"/>
<circle cx="65.83" cy="328.60" r="0.74" fill="#1d7298" stroke="#03121a" stroke-width="0.4"/>
<circle cx="67.34" cy="328.37" r="0.74" fill="#1d7298" stroke="#03121a" stroke-width="0.4"/>
<circle cx="64.31" cy="322.98" r="0.74" fill="#1d7298" stroke="#03121a" stroke-width="0.4"/>
<circle cx="64.76" cy="328.61" r="0.74" fill="#1d7298" stroke="#03121a" stroke-width="0.4"/>
<circle cx="68.11" cy="319.81" r="0.74" fill="#1d7298" stroke="#03121a" stroke-width="0.4"/>
<circle cx="63.74" cy="320.78" r="0.74" fill="#1d7298" stroke="#03121a" stroke-width="0.4"/>
<circle cx="64.06" cy="323.82" r="0.74" fill="#1d7298" stroke="#03121a" stroke-width="0.4"/>
<circle cx="66.05" cy="321.15" r="0.74" fill="#1d7298" stroke="#03121a" stroke-width="0.4"/>
<circle cx="62.77" cy="323.03" r="0.74" fill="#1d7298" stroke="#03121a" stroke-width="0.4"/>
<circle cx="64.82" cy="324.80" r="0.74" fill="#1d7298" stroke="#03121a" stroke-width="0.4"/>
<circle cx="68.09" cy="345.88" r="0.74" fill="#1d7298" stroke="#03121a" stroke-width="0.4"/>
<circle cx="65.64" cy="344.20" r="0.74" fill="#1d7298" stroke="#03121a" stroke-width="0.4"/>
<circle cx="66.54" cy="331.24" r="0.74" fill="#1d7298" stroke="#03121a" stroke-width="0.4"/>
<circle cx="67.79" cy="347.94" r="0.74" fill="#1d7298" stroke="#03121a" stroke-width="0.4"/>
<circle cx="67.65" cy="348.35" r="0.74" fill="#1d7298" stroke="#03121a" stroke-width="0.4"/>
<circle cx="64.95" cy="339.18" r="0.74" fill="#1d7298" stroke="#03121a" stroke-width="0.4"/>
<circle cx="63.33" cy="344.59" r="0.74" fill="#1d7298" stroke="#03121a" stroke-width="0.4"/>
<circle cx="63.10" cy="331.55" r="0.74" fill="#1d7298" stroke="#03121a" stroke-width="0.4"/>
<circle cx="63.92" cy="333.73" r="0.74" fill="#1d7298" stroke="#03121a" stroke-width="0.4"/>
<circle cx="64.65" cy="331.21" r="0.74" fill="#1d7298" stroke="#03121a" stroke-width="0.4"/>
<circle cx="62.75" cy="333.48" r="0.74" fill="#1d7298" stroke="#03121a" stroke-width="0.4"/>
<circle cx="63.32" cy="338.36" r="0.74" fill="#1d7298" stroke="#03121a" stroke-width="0.4"/>
<circle cx="62.89" cy="350.11" r="0.74" fill="#1d7298" stroke="#03121a" stroke-width="0.4"/>
<circle cx="66.19" cy="333.42" r="0.74" fill="#1d7298" stroke="#03121a" stroke-width="0.4"/>
<circle cx="64.16" cy="337.99" r="0.74" fill="#1d7298" stroke="#03121a" stroke-width="0.4"/>
<circle cx="64.79" cy="332.83" r="0.74" fill="#1d7298" stroke="#03121a" stroke-width="0.4"/>
<circle cx="67.50" cy="352.84" r="0.74" fill="#1d7298" stroke="#03121a" stroke-width="0.4"/>
<circle cx="65.36" cy="341.13" r="0.74" fill="#1d7298" stroke="#03121a" stroke-width="0.4"/>
<circle cx="63.23" cy="332.35" r="0.74" fill="#1d7298" stroke="#03121a" stroke-width="0.4"/>
<circle cx="64.67" cy="336.09" r="0.74" fill="#1d7298" stroke="#03121a" stroke-width="0.4"/>
<circle cx="67.39" cy="333.71" r="0.74" fill="#1d7298" stroke="#03121a" stroke-width="0.4"/>
<circle cx="62.88" cy="351.87" r="0.74" fill="#1d7298" stroke="#03121a" stroke-width="0.4"/>
<circle cx="65.71" cy="333.37" r="0.74" fill="#1d7298" stroke="#03121a" stroke-width="0.4"/>
<circle cx="65.79" cy="330.62" r="0.74" fill="#1d7298" stroke="#03121a" stroke-width="0.4"/>
<circle cx="65.71" cy="352.51" r="0.74" fill="#1d7298" stroke="#03121a" stroke-width="0.4"/>
<circle cx="67.58" cy="346.01" r="0.74" fill="#1d7298" stroke="#03121a" stroke-width="0.4"/>
<circle cx="64.21" cy="338.43" r="0.74" fill="#1d7298" stroke="#03121a" stroke-width="0.4"/>
<circle cx="63.69" cy="347.75" r="0.74" fill="#1d7298" stroke="#03121a" stroke-width="0.4"/>
<circle cx="65.73" cy="347.92" r="0.74" fill="#1d7298" stroke="#03121a" stroke-width="0.4"/>
<circle cx="64.60" cy="335.13" r="0.74" fill="#1d7298" stroke="#03121a" stroke-width="0.4"/>
<circle cx="67.29" cy="352.65" r="0.74" fill="#1d7298" stroke="#03121a" stroke-width="0.4"/>
<circle cx="67.52" cy="348.54" r="0.74" fill="#1d7298" stroke="#03121a" stroke-width="0.4"/>
<circle cx="67.33" cy="347.02" r="0.74" fill="#1d7298" stroke="#03121a" stroke-width="0.4"/>
<circle cx="64.02" cy="341.91" r="0.74" fill="#1d7298" stroke="#03121a" stroke-width="0.4"/>
<circle cx="64.74" cy="330.67" r="0.74" fill="#1d7298" stroke="#03121a" stroke-width="0.4"/>
<circle cx="62.91" cy="336.43" r="0.74" fill="#1d7298" stroke="#03121a" stroke-width="0.4"/>
<circle cx="64.20" cy="345.93" r="0.74" fill="#1d7298" stroke="#03121a" stroke-width="0.4"/>
<circle cx="68.11" cy="340.29" r="0.74" fill="#1d7298" stroke="#03121a" stroke-width="0.4"/>
<circle cx="68.00" cy="352.72" r="0.74" fill="#1d7298" stroke="#03121a" stroke-width="0.4"/>
<circle cx="68.10" cy="338.39" r="0.74" fill="#1d7298" stroke="#03121a" stroke-width="0.4"/>
<circle cx="63.98" cy="335.22" r="0.74" fill="#1d7298" stroke="#03121a" stroke-width="0.4"/>
<circle cx="63.85" cy="334.70" r="0.74" fill="#1d7298" stroke="#03121a" stroke-width="0.4"/>
<circle cx="66.24" cy="350.71" r="0.74" fill="#1d7298" stroke="#03121a" stroke-width="0.4"/>
<circle cx="67.46" cy="341.03" r="0.74" fill="#1d7298" stroke="#03121a" stroke-width="0.4"/>
<circle cx="66.41" cy="348.39" r="0.74" fill="#1d7298" stroke="#03121a" stroke-width="0.4"/>
<circle cx="63.22" cy="345.19" r="0.74" fill="#1d7298" stroke="#03121a" stroke-width="0.4"/>
<circle cx="67.84" cy="347.99" r="0.74" fill="#1d7298" stroke="#03121a" stroke-width="0.4"/>
<circle cx="66.95" cy="340.99" r="0.74" fill="#1d7298" stroke="#03121a" stroke-width="0.4"/>
<circle cx="63.75" cy="348.15" r="0.74" fill="#1d7298" stroke="#03121a" stroke-width="0.4"/>
<circle cx="64.61" cy="348.42" r="0.74" fill="#1d7298" stroke="#03121a" stroke-width="0.4"/>
<circle cx="68.19" cy="339.10" r="0.74" fill="#1d7298" stroke="#03121a" stroke-width="0.4"/>
<circle cx="65.00" cy="351.78" r="0.74" fill="#1d7298" stroke="#03121a" stroke-width="0.4"/>
<circle cx="66.81" cy="333.91" r="0.74" fill="#1d7298" stroke="#03121a" stroke-width="0.4"/>
<circle cx="63.46" cy="333.48" r="0.74" fill="#1d7298" stroke="#03121a" stroke-width="0.4"/>
<circle cx="67.82" cy="348.55" r="0.74" fill="#1d7298" stroke="#03121a" stroke-width="0.4"/>
<circle cx="63.57" cy="349.01" r="0.74" fill="#1d7298" stroke="#03121a" stroke-width="0.4"/>
<circle cx="68.24" cy="345.12" r="0.74" fill="#1d7298" stroke="#03121a" stroke-width="0.4"/>
<circle cx="64.71" cy="342.62" r="0.74" fill="#1d7298" stroke="#03121a" stroke-width="0.4"/>
<circle cx="63.48" cy="330.33" r="0.74" fill="#1d7298" stroke="#03121a" stroke-width="0.4"/>
<circle cx="68.19" cy="344.94" r="0.74" fill="#1d7298" stroke="#03121a" stroke-width="0.4"/>
<circle cx="65.70" cy="351.47" r="0.74" fill="#1d7298" stroke="#03121a" stroke-width="0.4"/>
<circle cx="65.18" cy="350.05" r="0.74" fill="#1d7298" stroke="#03121a" stroke-width="0.4"/>
<circle cx="67.38" cy="334.85" r="0.74" fill="#1d7298" stroke="#03121a" stroke-width="0.4"/>
<circle cx="64.16" cy="336.74" r="0.74" fill="#1d7298" stroke="#03121a" stroke-width="0.4"/>
<circle cx="64.10" cy="343.49" r="0.74" fill="#1d7298" stroke="#03121a" stroke-width="0.4"/>
<circle cx="64.20" cy="339.64" r="0.74" fill="#1d7298" stroke="#03121a" stroke-width="0.4"/>
<circle cx="63.48" cy="350.93" r="0.74" fill="#1d7298" stroke="#03121a" stroke-width="0.4"/>
<circle cx="64.73" cy="340.54" r="0.74" fill="#1d7298" stroke="#03121a" stroke-width="0.4"/>
<circle cx="66.02" cy="350.80" r="0.74" fill="#1d7298" stroke="#03121a" stroke-width="0.4"/>
<circle cx="65.11" cy="351.11" r="0.74" fill="#1d7298" stroke="#03121a" stroke-width="0.4"/>
<circle cx="65.56" cy="342.23" r="0.74" fill="#1d7298" stroke="#03121a" stroke-width="0.4"/>
<circle cx="65.68" cy="330.43" r="0.74" fill="#1d7298" stroke="#03121a" stroke-width="0.4"/>
<circle cx="65.21" cy="334.21" r="0.74" fill="#1d7298" stroke="#03121a" stroke-width="0.4"/>
<circle cx="62.77" cy="348.38" r="0.74" fill="#1d7298" stroke="#03121a" stroke-width="0.4"/>
<circle cx="63.72" cy="340.89" r="0.74" fill="#1d7298" stroke="#03121a" stroke-width="0.4"/>
<line x1="53.10" y1="303.20" x2="65.50" y2="303.20" stroke="#444" stroke-width="0.8" />
<text x="59.30" y="303.80" font-size="4.6" fill="#444" text-anchor="middle" stroke="#444" stroke-width="0.15" >*</text>
<text x="58.50" y="363.60" font-size="4.1" fill="#d07a74" text-anchor="middle" >cg04219321</text>
<line x1="96.65" y1="307.00" x2="96.65" y2="330.00" stroke="#d8857c" stroke-width="0.6" stroke-dasharray="1.3,1.1"/>
<line x1="94.35" y1="307.00" x2="98.95" y2="307.00" stroke="#d8857c" stroke-width="0.6" />
<rect x="90.50" y="330.00" width="12.30" height="21.90" fill="none" stroke="#d8857c" stroke-width="0.65"/>
<line x1="90.50" y1="350.00" x2="102.80" y2="350.00" stroke="#d8857c" stroke-width="0.6" />
<line x1="109.75" y1="305.50" x2="109.75" y2="324.20" stroke="#4db4e2" stroke-width="0.6" />
<line x1="107.45" y1="305.50" x2="112.05" y2="305.50" stroke="#4db4e2" stroke-width="0.6" />
<rect x="103.60" y="324.20" width="12.30" height="22.70" fill="none" stroke="#4db4e2" stroke-width="0.65"/>
<line x1="103.60" y1="333.60" x2="115.90" y2="333.60" stroke="#4db4e2" stroke-width="0.6" />
<circle cx="98.00" cy="350.96" r="0.74" fill="#8a2020" stroke="#2a0505" stroke-width="0.35"/>
<circle cx="95.61" cy="350.78" r="0.74" fill="#8a2020" stroke="#2a0505" stroke-width="0.35"/>
<circle cx="96.98" cy="352.01" r="0.74" fill="#8a2020" stroke="#2a0505" stroke-width="0.35"/>
<circle cx="94.29" cy="350.98" r="0.74" fill="#8a2020" stroke="#2a0505" stroke-width="0.35"/>
<circle cx="95.14" cy="349.67" r="0.74" fill="#8a2020" stroke="#2a0505" stroke-width="0.35"/>
<circle cx="98.28" cy="350.74" r="0.74" fill="#8a2020" stroke="#2a0505" stroke-width="0.35"/>
<circle cx="97.02" cy="351.90" r="0.74" fill="#8a2020" stroke="#2a0505" stroke-width="0.35"/>
<circle cx="99.12" cy="350.44" r="0.74" fill="#8a2020" stroke="#2a0505" stroke-width="0.35"/>
<circle cx="97.33" cy="350.73" r="0.74" fill="#8a2020" stroke="#2a0505" stroke-width="0.35"/>
<circle cx="96.72" cy="351.59" r="0.74" fill="#8a2020" stroke="#2a0505" stroke-width="0.35"/>
<circle cx="96.36" cy="350.85" r="0.74" fill="#8a2020" stroke="#2a0505" stroke-width="0.35"/>
<circle cx="96.52" cy="352.73" r="0.74" fill="#8a2020" stroke="#2a0505" stroke-width="0.35"/>
<circle cx="97.85" cy="352.43" r="0.74" fill="#8a2020" stroke="#2a0505" stroke-width="0.35"/>
<circle cx="99.30" cy="349.59" r="0.74" fill="#8a2020" stroke="#2a0505" stroke-width="0.35"/>
<circle cx="97.01" cy="352.74" r="0.74" fill="#8a2020" stroke="#2a0505" stroke-width="0.35"/>
<circle cx="98.69" cy="349.03" r="0.74" fill="#8a2020" stroke="#2a0505" stroke-width="0.35"/>
<circle cx="94.38" cy="350.43" r="0.74" fill="#8a2020" stroke="#2a0505" stroke-width="0.35"/>
<circle cx="94.09" cy="349.51" r="0.74" fill="#8a2020" stroke="#2a0505" stroke-width="0.35"/>
<circle cx="94.09" cy="351.48" r="0.74" fill="#8a2020" stroke="#2a0505" stroke-width="0.35"/>
<circle cx="98.35" cy="352.53" r="0.74" fill="#8a2020" stroke="#2a0505" stroke-width="0.35"/>
<circle cx="95.41" cy="307.00" r="0.74" fill="#8a2020" stroke="#2a0505" stroke-width="0.35"/>
<circle cx="97.43" cy="319.50" r="0.74" fill="#8a2020" stroke="#2a0505" stroke-width="0.35"/>
<circle cx="97.23" cy="325.00" r="0.74" fill="#8a2020" stroke="#2a0505" stroke-width="0.35"/>
<circle cx="95.36" cy="328.90" r="0.74" fill="#8a2020" stroke="#2a0505" stroke-width="0.35"/>
<circle cx="98.03" cy="338.30" r="0.74" fill="#8a2020" stroke="#2a0505" stroke-width="0.35"/>
<circle cx="98.33" cy="342.20" r="0.74" fill="#8a2020" stroke="#2a0505" stroke-width="0.35"/>
<circle cx="95.64" cy="345.30" r="0.74" fill="#8a2020" stroke="#2a0505" stroke-width="0.35"/>
<circle cx="112.28" cy="309.68" r="0.74" fill="#1d7298" stroke="#03121a" stroke-width="0.4"/>
<circle cx="109.68" cy="315.89" r="0.74" fill="#1d7298" stroke="#03121a" stroke-width="0.4"/>
<circle cx="111.61" cy="307.20" r="0.74" fill="#1d7298" stroke="#03121a" stroke-width="0.4"/>
<circle cx="109.37" cy="310.91" r="0.74" fill="#1d7298" stroke="#03121a" stroke-width="0.4"/>
<circle cx="108.85" cy="307.56" r="0.74" fill="#1d7298" stroke="#03121a" stroke-width="0.4"/>
<circle cx="108.73" cy="313.08" r="0.74" fill="#1d7298" stroke="#03121a" stroke-width="0.4"/>
<circle cx="107.06" cy="311.32" r="0.74" fill="#1d7298" stroke="#03121a" stroke-width="0.4"/>
<circle cx="109.42" cy="305.69" r="0.74" fill="#1d7298" stroke="#03121a" stroke-width="0.4"/>
<circle cx="108.81" cy="312.05" r="0.74" fill="#1d7298" stroke="#03121a" stroke-width="0.4"/>
<circle cx="109.82" cy="306.18" r="0.74" fill="#1d7298" stroke="#03121a" stroke-width="0.4"/>
<circle cx="112.47" cy="323.10" r="0.74" fill="#1d7298" stroke="#03121a" stroke-width="0.4"/>
<circle cx="112.39" cy="316.94" r="0.74" fill="#1d7298" stroke="#03121a" stroke-width="0.4"/>
<circle cx="108.44" cy="316.36" r="0.74" fill="#1d7298" stroke="#03121a" stroke-width="0.4"/>
<circle cx="111.31" cy="318.43" r="0.74" fill="#1d7298" stroke="#03121a" stroke-width="0.4"/>
<circle cx="107.68" cy="319.80" r="0.74" fill="#1d7298" stroke="#03121a" stroke-width="0.4"/>
<circle cx="112.05" cy="323.37" r="0.74" fill="#1d7298" stroke="#03121a" stroke-width="0.4"/>
<circle cx="108.40" cy="317.34" r="0.74" fill="#1d7298" stroke="#03121a" stroke-width="0.4"/>
<circle cx="112.10" cy="321.14" r="0.74" fill="#1d7298" stroke="#03121a" stroke-width="0.4"/>
<circle cx="110.87" cy="316.81" r="0.74" fill="#1d7298" stroke="#03121a" stroke-width="0.4"/>
<circle cx="107.27" cy="322.19" r="0.74" fill="#1d7298" stroke="#03121a" stroke-width="0.4"/>
<circle cx="109.33" cy="316.65" r="0.74" fill="#1d7298" stroke="#03121a" stroke-width="0.4"/>
<circle cx="112.20" cy="321.71" r="0.74" fill="#1d7298" stroke="#03121a" stroke-width="0.4"/>
<circle cx="111.44" cy="316.75" r="0.74" fill="#1d7298" stroke="#03121a" stroke-width="0.4"/>
<circle cx="111.74" cy="316.60" r="0.74" fill="#1d7298" stroke="#03121a" stroke-width="0.4"/>
<circle cx="111.78" cy="320.08" r="0.74" fill="#1d7298" stroke="#03121a" stroke-width="0.4"/>
<circle cx="108.85" cy="320.98" r="0.74" fill="#1d7298" stroke="#03121a" stroke-width="0.4"/>
<circle cx="112.14" cy="318.41" r="0.74" fill="#1d7298" stroke="#03121a" stroke-width="0.4"/>
<circle cx="107.67" cy="320.74" r="0.74" fill="#1d7298" stroke="#03121a" stroke-width="0.4"/>
<circle cx="108.29" cy="316.99" r="0.74" fill="#1d7298" stroke="#03121a" stroke-width="0.4"/>
<circle cx="107.85" cy="316.45" r="0.74" fill="#1d7298" stroke="#03121a" stroke-width="0.4"/>
<circle cx="108.08" cy="318.81" r="0.74" fill="#1d7298" stroke="#03121a" stroke-width="0.4"/>
<circle cx="108.66" cy="322.84" r="0.74" fill="#1d7298" stroke="#03121a" stroke-width="0.4"/>
<circle cx="108.57" cy="339.00" r="0.74" fill="#1d7298" stroke="#03121a" stroke-width="0.4"/>
<circle cx="107.95" cy="334.72" r="0.74" fill="#1d7298" stroke="#03121a" stroke-width="0.4"/>
<circle cx="107.05" cy="332.01" r="0.74" fill="#1d7298" stroke="#03121a" stroke-width="0.4"/>
<circle cx="107.04" cy="345.53" r="0.74" fill="#1d7298" stroke="#03121a" stroke-width="0.4"/>
<circle cx="110.04" cy="330.30" r="0.74" fill="#1d7298" stroke="#03121a" stroke-width="0.4"/>
<circle cx="109.61" cy="351.17" r="0.74" fill="#1d7298" stroke="#03121a" stroke-width="0.4"/>
<circle cx="107.55" cy="347.93" r="0.74" fill="#1d7298" stroke="#03121a" stroke-width="0.4"/>
<circle cx="109.37" cy="338.86" r="0.74" fill="#1d7298" stroke="#03121a" stroke-width="0.4"/>
<circle cx="111.62" cy="336.01" r="0.74" fill="#1d7298" stroke="#03121a" stroke-width="0.4"/>
<circle cx="109.79" cy="344.26" r="0.74" fill="#1d7298" stroke="#03121a" stroke-width="0.4"/>
<circle cx="112.45" cy="334.60" r="0.74" fill="#1d7298" stroke="#03121a" stroke-width="0.4"/>
<circle cx="111.61" cy="344.79" r="0.74" fill="#1d7298" stroke="#03121a" stroke-width="0.4"/>
<circle cx="110.51" cy="336.33" r="0.74" fill="#1d7298" stroke="#03121a" stroke-width="0.4"/>
<circle cx="108.90" cy="326.52" r="0.74" fill="#1d7298" stroke="#03121a" stroke-width="0.4"/>
<circle cx="107.68" cy="326.98" r="0.74" fill="#1d7298" stroke="#03121a" stroke-width="0.4"/>
<circle cx="111.10" cy="332.16" r="0.74" fill="#1d7298" stroke="#03121a" stroke-width="0.4"/>
<circle cx="107.86" cy="327.37" r="0.74" fill="#1d7298" stroke="#03121a" stroke-width="0.4"/>
<circle cx="111.66" cy="349.38" r="0.74" fill="#1d7298" stroke="#03121a" stroke-width="0.4"/>
<circle cx="110.71" cy="332.89" r="0.74" fill="#1d7298" stroke="#03121a" stroke-width="0.4"/>
<circle cx="108.31" cy="333.21" r="0.74" fill="#1d7298" stroke="#03121a" stroke-width="0.4"/>
<circle cx="109.52" cy="329.41" r="0.74" fill="#1d7298" stroke="#03121a" stroke-width="0.4"/>
<circle cx="109.45" cy="332.37" r="0.74" fill="#1d7298" stroke="#03121a" stroke-width="0.4"/>
<circle cx="112.34" cy="352.23" r="0.74" fill="#1d7298" stroke="#03121a" stroke-width="0.4"/>
<circle cx="110.01" cy="331.84" r="0.74" fill="#1d7298" stroke="#03121a" stroke-width="0.4"/>
<circle cx="112.36" cy="333.67" r="0.74" fill="#1d7298" stroke="#03121a" stroke-width="0.4"/>
<circle cx="108.95" cy="325.03" r="0.74" fill="#1d7298" stroke="#03121a" stroke-width="0.4"/>
<circle cx="109.09" cy="338.29" r="0.74" fill="#1d7298" stroke="#03121a" stroke-width="0.4"/>
<circle cx="109.77" cy="330.63" r="0.74" fill="#1d7298" stroke="#03121a" stroke-width="0.4"/>
<circle cx="109.78" cy="325.14" r="0.74" fill="#1d7298" stroke="#03121a" stroke-width="0.4"/>
<circle cx="108.43" cy="327.51" r="0.74" fill="#1d7298" stroke="#03121a" stroke-width="0.4"/>
<circle cx="109.19" cy="326.17" r="0.74" fill="#1d7298" stroke="#03121a" stroke-width="0.4"/>
<circle cx="107.08" cy="333.52" r="0.74" fill="#1d7298" stroke="#03121a" stroke-width="0.4"/>
<circle cx="108.25" cy="341.40" r="0.74" fill="#1d7298" stroke="#03121a" stroke-width="0.4"/>
<circle cx="109.91" cy="346.02" r="0.74" fill="#1d7298" stroke="#03121a" stroke-width="0.4"/>
<circle cx="110.63" cy="345.05" r="0.74" fill="#1d7298" stroke="#03121a" stroke-width="0.4"/>
<circle cx="111.87" cy="335.91" r="0.74" fill="#1d7298" stroke="#03121a" stroke-width="0.4"/>
<circle cx="108.78" cy="352.57" r="0.74" fill="#1d7298" stroke="#03121a" stroke-width="0.4"/>
<circle cx="107.79" cy="345.28" r="0.74" fill="#1d7298" stroke="#03121a" stroke-width="0.4"/>
<circle cx="110.55" cy="326.23" r="0.74" fill="#1d7298" stroke="#03121a" stroke-width="0.4"/>
<circle cx="111.63" cy="349.97" r="0.74" fill="#1d7298" stroke="#03121a" stroke-width="0.4"/>
<circle cx="110.46" cy="345.55" r="0.74" fill="#1d7298" stroke="#03121a" stroke-width="0.4"/>
<circle cx="111.50" cy="328.90" r="0.74" fill="#1d7298" stroke="#03121a" stroke-width="0.4"/>
<circle cx="109.88" cy="339.12" r="0.74" fill="#1d7298" stroke="#03121a" stroke-width="0.4"/>
<circle cx="111.63" cy="347.53" r="0.74" fill="#1d7298" stroke="#03121a" stroke-width="0.4"/>
<circle cx="111.58" cy="341.35" r="0.74" fill="#1d7298" stroke="#03121a" stroke-width="0.4"/>
<circle cx="111.95" cy="344.12" r="0.74" fill="#1d7298" stroke="#03121a" stroke-width="0.4"/>
<circle cx="110.83" cy="331.44" r="0.74" fill="#1d7298" stroke="#03121a" stroke-width="0.4"/>
<circle cx="107.12" cy="328.73" r="0.74" fill="#1d7298" stroke="#03121a" stroke-width="0.4"/>
<circle cx="108.97" cy="327.94" r="0.74" fill="#1d7298" stroke="#03121a" stroke-width="0.4"/>
<circle cx="111.63" cy="340.64" r="0.74" fill="#1d7298" stroke="#03121a" stroke-width="0.4"/>
<circle cx="110.47" cy="342.53" r="0.74" fill="#1d7298" stroke="#03121a" stroke-width="0.4"/>
<circle cx="110.76" cy="338.70" r="0.74" fill="#1d7298" stroke="#03121a" stroke-width="0.4"/>
<circle cx="106.97" cy="347.34" r="0.74" fill="#1d7298" stroke="#03121a" stroke-width="0.4"/>
<circle cx="111.14" cy="339.08" r="0.74" fill="#1d7298" stroke="#03121a" stroke-width="0.4"/>
<circle cx="109.95" cy="343.46" r="0.74" fill="#1d7298" stroke="#03121a" stroke-width="0.4"/>
<circle cx="107.32" cy="345.63" r="0.74" fill="#1d7298" stroke="#03121a" stroke-width="0.4"/>
<circle cx="108.36" cy="327.08" r="0.74" fill="#1d7298" stroke="#03121a" stroke-width="0.4"/>
<circle cx="108.44" cy="345.42" r="0.74" fill="#1d7298" stroke="#03121a" stroke-width="0.4"/>
<circle cx="108.10" cy="345.72" r="0.74" fill="#1d7298" stroke="#03121a" stroke-width="0.4"/>
<circle cx="112.41" cy="338.83" r="0.74" fill="#1d7298" stroke="#03121a" stroke-width="0.4"/>
<circle cx="109.09" cy="338.41" r="0.74" fill="#1d7298" stroke="#03121a" stroke-width="0.4"/>
<circle cx="110.78" cy="346.48" r="0.74" fill="#1d7298" stroke="#03121a" stroke-width="0.4"/>
<circle cx="110.41" cy="343.00" r="0.74" fill="#1d7298" stroke="#03121a" stroke-width="0.4"/>
<circle cx="107.38" cy="329.13" r="0.74" fill="#1d7298" stroke="#03121a" stroke-width="0.4"/>
<circle cx="108.37" cy="345.81" r="0.74" fill="#1d7298" stroke="#03121a" stroke-width="0.4"/>
<circle cx="108.65" cy="340.90" r="0.74" fill="#1d7298" stroke="#03121a" stroke-width="0.4"/>
<circle cx="107.02" cy="326.70" r="0.74" fill="#1d7298" stroke="#03121a" stroke-width="0.4"/>
<circle cx="108.46" cy="343.82" r="0.74" fill="#1d7298" stroke="#03121a" stroke-width="0.4"/>
<circle cx="110.83" cy="343.92" r="0.74" fill="#1d7298" stroke="#03121a" stroke-width="0.4"/>
<circle cx="108.58" cy="339.46" r="0.74" fill="#1d7298" stroke="#03121a" stroke-width="0.4"/>
<circle cx="109.55" cy="338.06" r="0.74" fill="#1d7298" stroke="#03121a" stroke-width="0.4"/>
<circle cx="107.61" cy="350.02" r="0.74" fill="#1d7298" stroke="#03121a" stroke-width="0.4"/>
<circle cx="108.07" cy="352.39" r="0.74" fill="#1d7298" stroke="#03121a" stroke-width="0.4"/>
<circle cx="112.19" cy="325.49" r="0.74" fill="#1d7298" stroke="#03121a" stroke-width="0.4"/>
<circle cx="109.52" cy="347.96" r="0.74" fill="#1d7298" stroke="#03121a" stroke-width="0.4"/>
<line x1="97.80" y1="303.20" x2="110.20" y2="303.20" stroke="#444" stroke-width="0.8" />
<text x="104.00" y="303.80" font-size="4.6" fill="#444" text-anchor="middle" stroke="#444" stroke-width="0.15" >*</text>
<text x="103.00" y="363.60" font-size="4.1" fill="#d07a74" text-anchor="middle" >cg07477034</text>
<rect x="137.30" y="353.90" width="12.30" height="1.60" fill="#e8a49c" stroke="#d8857c" stroke-width="0.5"/>
<rect x="150.40" y="349.70" width="12.30" height="5.30" fill="none" stroke="#4db4e2" stroke-width="0.65"/>
<line x1="150.40" y1="352.50" x2="162.70" y2="352.50" stroke="#4db4e2" stroke-width="0.6" />
<circle cx="146.26" cy="353.98" r="0.74" fill="#8a2020" stroke="#2a0505" stroke-width="0.35"/>
<circle cx="142.06" cy="353.19" r="0.74" fill="#8a2020" stroke="#2a0505" stroke-width="0.35"/>
<circle cx="146.12" cy="353.20" r="0.74" fill="#8a2020" stroke="#2a0505" stroke-width="0.35"/>
<circle cx="143.94" cy="352.97" r="0.74" fill="#8a2020" stroke="#2a0505" stroke-width="0.35"/>
<circle cx="143.59" cy="355.64" r="0.74" fill="#8a2020" stroke="#2a0505" stroke-width="0.35"/>
<circle cx="141.25" cy="355.21" r="0.74" fill="#8a2020" stroke="#2a0505" stroke-width="0.35"/>
<circle cx="143.50" cy="355.43" r="0.74" fill="#8a2020" stroke="#2a0505" stroke-width="0.35"/>
<circle cx="144.67" cy="353.26" r="0.74" fill="#8a2020" stroke="#2a0505" stroke-width="0.35"/>
<circle cx="145.84" cy="354.10" r="0.74" fill="#8a2020" stroke="#2a0505" stroke-width="0.35"/>
<circle cx="140.60" cy="352.51" r="0.74" fill="#8a2020" stroke="#2a0505" stroke-width="0.35"/>
<circle cx="143.40" cy="353.99" r="0.74" fill="#8a2020" stroke="#2a0505" stroke-width="0.35"/>
<circle cx="142.26" cy="352.96" r="0.74" fill="#8a2020" stroke="#2a0505" stroke-width="0.35"/>
<circle cx="142.51" cy="353.54" r="0.74" fill="#8a2020" stroke="#2a0505" stroke-width="0.35"/>
<circle cx="145.49" cy="352.51" r="0.74" fill="#8a2020" stroke="#2a0505" stroke-width="0.35"/>
<circle cx="144.95" cy="355.27" r="0.74" fill="#8a2020" stroke="#2a0505" stroke-width="0.35"/>
<circle cx="141.17" cy="355.56" r="0.74" fill="#8a2020" stroke="#2a0505" stroke-width="0.35"/>
<circle cx="144.22" cy="343.10" r="0.74" fill="#8a2020" stroke="#2a0505" stroke-width="0.35"/>
<circle cx="144.90" cy="349.70" r="0.74" fill="#8a2020" stroke="#2a0505" stroke-width="0.35"/>
<circle cx="155.37" cy="351.53" r="0.74" fill="#1d7298" stroke="#03121a" stroke-width="0.4"/>
<circle cx="155.95" cy="355.79" r="0.74" fill="#1d7298" stroke="#03121a" stroke-width="0.4"/>
<circle cx="157.05" cy="351.45" r="0.74" fill="#1d7298" stroke="#03121a" stroke-width="0.4"/>
<circle cx="156.15" cy="350.87" r="0.74" fill="#1d7298" stroke="#03121a" stroke-width="0.4"/>
<circle cx="154.02" cy="349.69" r="0.74" fill="#1d7298" stroke="#03121a" stroke-width="0.4"/>
<circle cx="158.42" cy="350.94" r="0.74" fill="#1d7298" stroke="#03121a" stroke-width="0.4"/>
<circle cx="158.99" cy="350.70" r="0.74" fill="#1d7298" stroke="#03121a" stroke-width="0.4"/>
<circle cx="155.24" cy="352.47" r="0.74" fill="#1d7298" stroke="#03121a" stroke-width="0.4"/>
<circle cx="154.81" cy="351.54" r="0.74" fill="#1d7298" stroke="#03121a" stroke-width="0.4"/>
<circle cx="159.10" cy="355.01" r="0.74" fill="#1d7298" stroke="#03121a" stroke-width="0.4"/>
<circle cx="158.30" cy="353.29" r="0.74" fill="#1d7298" stroke="#03121a" stroke-width="0.4"/>
<circle cx="158.87" cy="355.40" r="0.74" fill="#1d7298" stroke="#03121a" stroke-width="0.4"/>
<circle cx="156.83" cy="353.89" r="0.74" fill="#1d7298" stroke="#03121a" stroke-width="0.4"/>
<circle cx="154.03" cy="353.98" r="0.74" fill="#1d7298" stroke="#03121a" stroke-width="0.4"/>
<circle cx="156.27" cy="354.12" r="0.74" fill="#1d7298" stroke="#03121a" stroke-width="0.4"/>
<circle cx="157.36" cy="350.95" r="0.74" fill="#1d7298" stroke="#03121a" stroke-width="0.4"/>
<circle cx="154.02" cy="355.30" r="0.74" fill="#1d7298" stroke="#03121a" stroke-width="0.4"/>
<circle cx="154.46" cy="352.21" r="0.74" fill="#1d7298" stroke="#03121a" stroke-width="0.4"/>
<circle cx="155.67" cy="351.02" r="0.74" fill="#1d7298" stroke="#03121a" stroke-width="0.4"/>
<circle cx="157.89" cy="355.64" r="0.74" fill="#1d7298" stroke="#03121a" stroke-width="0.4"/>
<circle cx="155.21" cy="353.46" r="0.74" fill="#1d7298" stroke="#03121a" stroke-width="0.4"/>
<circle cx="155.43" cy="352.79" r="0.74" fill="#1d7298" stroke="#03121a" stroke-width="0.4"/>
<circle cx="155.96" cy="350.14" r="0.74" fill="#1d7298" stroke="#03121a" stroke-width="0.4"/>
<circle cx="154.66" cy="350.41" r="0.74" fill="#1d7298" stroke="#03121a" stroke-width="0.4"/>
<circle cx="158.82" cy="352.38" r="0.74" fill="#1d7298" stroke="#03121a" stroke-width="0.4"/>
<circle cx="154.98" cy="355.16" r="0.74" fill="#1d7298" stroke="#03121a" stroke-width="0.4"/>
<circle cx="159.33" cy="352.06" r="0.74" fill="#1d7298" stroke="#03121a" stroke-width="0.4"/>
<circle cx="154.53" cy="350.31" r="0.74" fill="#1d7298" stroke="#03121a" stroke-width="0.4"/>
<circle cx="154.26" cy="351.33" r="0.74" fill="#1d7298" stroke="#03121a" stroke-width="0.4"/>
<circle cx="154.26" cy="350.63" r="0.74" fill="#1d7298" stroke="#03121a" stroke-width="0.4"/>
<circle cx="155.20" cy="352.87" r="0.74" fill="#1d7298" stroke="#03121a" stroke-width="0.4"/>
<circle cx="158.72" cy="354.10" r="0.74" fill="#1d7298" stroke="#03121a" stroke-width="0.4"/>
<circle cx="156.06" cy="351.81" r="0.74" fill="#1d7298" stroke="#03121a" stroke-width="0.4"/>
<circle cx="156.69" cy="351.56" r="0.74" fill="#1d7298" stroke="#03121a" stroke-width="0.4"/>
<circle cx="155.64" cy="349.42" r="0.74" fill="#1d7298" stroke="#03121a" stroke-width="0.4"/>
<circle cx="155.30" cy="355.58" r="0.74" fill="#1d7298" stroke="#03121a" stroke-width="0.4"/>
<circle cx="154.45" cy="352.42" r="0.74" fill="#1d7298" stroke="#03121a" stroke-width="0.4"/>
<circle cx="157.28" cy="354.87" r="0.74" fill="#1d7298" stroke="#03121a" stroke-width="0.4"/>
<circle cx="154.96" cy="350.84" r="0.74" fill="#1d7298" stroke="#03121a" stroke-width="0.4"/>
<circle cx="155.14" cy="351.72" r="0.74" fill="#1d7298" stroke="#03121a" stroke-width="0.4"/>
<circle cx="156.25" cy="348.59" r="0.74" fill="#1d7298" stroke="#03121a" stroke-width="0.4"/>
<circle cx="158.50" cy="347.86" r="0.74" fill="#1d7298" stroke="#03121a" stroke-width="0.4"/>
<circle cx="153.87" cy="340.29" r="0.74" fill="#1d7298" stroke="#03121a" stroke-width="0.4"/>
<circle cx="157.72" cy="348.06" r="0.74" fill="#1d7298" stroke="#03121a" stroke-width="0.4"/>
<circle cx="156.40" cy="345.28" r="0.74" fill="#1d7298" stroke="#03121a" stroke-width="0.4"/>
<circle cx="153.75" cy="343.52" r="0.74" fill="#1d7298" stroke="#03121a" stroke-width="0.4"/>
<circle cx="158.94" cy="347.43" r="0.74" fill="#1d7298" stroke="#03121a" stroke-width="0.4"/>
<circle cx="158.54" cy="348.75" r="0.74" fill="#1d7298" stroke="#03121a" stroke-width="0.4"/>
<circle cx="155.14" cy="340.98" r="0.74" fill="#1d7298" stroke="#03121a" stroke-width="0.4"/>
<circle cx="154.61" cy="344.70" r="0.74" fill="#1d7298" stroke="#03121a" stroke-width="0.4"/>
<circle cx="157.35" cy="311.70" r="0.74" fill="#1d7298" stroke="#03121a" stroke-width="0.4"/>
<circle cx="158.49" cy="324.20" r="0.74" fill="#1d7298" stroke="#03121a" stroke-width="0.4"/>
<circle cx="157.53" cy="325.50" r="0.74" fill="#1d7298" stroke="#03121a" stroke-width="0.4"/>
<circle cx="157.20" cy="328.50" r="0.74" fill="#1d7298" stroke="#03121a" stroke-width="0.4"/>
<circle cx="157.72" cy="332.00" r="0.74" fill="#1d7298" stroke="#03121a" stroke-width="0.4"/>
<circle cx="156.36" cy="337.50" r="0.74" fill="#1d7298" stroke="#03121a" stroke-width="0.4"/>
<circle cx="156.78" cy="338.50" r="0.74" fill="#1d7298" stroke="#03121a" stroke-width="0.4"/>
<circle cx="154.52" cy="340.60" r="0.74" fill="#1d7298" stroke="#03121a" stroke-width="0.4"/>
<circle cx="157.79" cy="342.30" r="0.74" fill="#1d7298" stroke="#03121a" stroke-width="0.4"/>
<line x1="142.90" y1="303.20" x2="155.30" y2="303.20" stroke="#444" stroke-width="0.8" />
<text x="149.10" y="303.80" font-size="4.6" fill="#444" text-anchor="middle" stroke="#444" stroke-width="0.15" textLength="3.5" lengthAdjust="spacingAndGlyphs" >**</text>
<text x="150.00" y="363.60" font-size="4.1" fill="#d07a74" text-anchor="middle" >cg14399651</text>
<rect x="180.70" y="352.30" width="12.30" height="2.40" fill="none" stroke="#d8857c" stroke-width="0.65"/>
<line x1="180.70" y1="353.60" x2="193.00" y2="353.60" stroke="#d8857c" stroke-width="0.6" />
<rect x="193.80" y="342.80" width="12.30" height="10.20" fill="none" stroke="#4db4e2" stroke-width="0.65"/>
<line x1="193.80" y1="350.60" x2="206.10" y2="350.60" stroke="#4db4e2" stroke-width="0.6" />
<circle cx="185.25" cy="354.60" r="0.74" fill="#8a2020" stroke="#2a0505" stroke-width="0.35"/>
<circle cx="187.72" cy="351.52" r="0.74" fill="#8a2020" stroke="#2a0505" stroke-width="0.35"/>
<circle cx="184.62" cy="351.26" r="0.74" fill="#8a2020" stroke="#2a0505" stroke-width="0.35"/>
<circle cx="187.67" cy="353.49" r="0.74" fill="#8a2020" stroke="#2a0505" stroke-width="0.35"/>
<circle cx="184.52" cy="350.35" r="0.74" fill="#8a2020" stroke="#2a0505" stroke-width="0.35"/>
<circle cx="187.00" cy="352.91" r="0.74" fill="#8a2020" stroke="#2a0505" stroke-width="0.35"/>
<circle cx="186.18" cy="351.12" r="0.74" fill="#8a2020" stroke="#2a0505" stroke-width="0.35"/>
<circle cx="187.46" cy="350.05" r="0.74" fill="#8a2020" stroke="#2a0505" stroke-width="0.35"/>
<circle cx="185.66" cy="352.30" r="0.74" fill="#8a2020" stroke="#2a0505" stroke-width="0.35"/>
<circle cx="189.60" cy="353.22" r="0.74" fill="#8a2020" stroke="#2a0505" stroke-width="0.35"/>
<circle cx="189.15" cy="352.38" r="0.74" fill="#8a2020" stroke="#2a0505" stroke-width="0.35"/>
<circle cx="185.26" cy="351.24" r="0.74" fill="#8a2020" stroke="#2a0505" stroke-width="0.35"/>
<circle cx="189.61" cy="353.52" r="0.74" fill="#8a2020" stroke="#2a0505" stroke-width="0.35"/>
<circle cx="185.69" cy="350.11" r="0.74" fill="#8a2020" stroke="#2a0505" stroke-width="0.35"/>
<circle cx="186.84" cy="353.37" r="0.74" fill="#8a2020" stroke="#2a0505" stroke-width="0.35"/>
<circle cx="186.37" cy="351.29" r="0.74" fill="#8a2020" stroke="#2a0505" stroke-width="0.35"/>
<circle cx="187.85" cy="354.63" r="0.74" fill="#8a2020" stroke="#2a0505" stroke-width="0.35"/>
<circle cx="185.21" cy="350.17" r="0.74" fill="#8a2020" stroke="#2a0505" stroke-width="0.35"/>
<circle cx="186.27" cy="341.40" r="0.74" fill="#8a2020" stroke="#2a0505" stroke-width="0.35"/>
<circle cx="199.51" cy="349.92" r="0.74" fill="#1d7298" stroke="#03121a" stroke-width="0.4"/>
<circle cx="198.26" cy="351.75" r="0.74" fill="#1d7298" stroke="#03121a" stroke-width="0.4"/>
<circle cx="201.29" cy="347.08" r="0.74" fill="#1d7298" stroke="#03121a" stroke-width="0.4"/>
<circle cx="198.30" cy="354.52" r="0.74" fill="#1d7298" stroke="#03121a" stroke-width="0.4"/>
<circle cx="198.90" cy="352.12" r="0.74" fill="#1d7298" stroke="#03121a" stroke-width="0.4"/>
<circle cx="198.44" cy="342.54" r="0.74" fill="#1d7298" stroke="#03121a" stroke-width="0.4"/>
<circle cx="201.41" cy="343.72" r="0.74" fill="#1d7298" stroke="#03121a" stroke-width="0.4"/>
<circle cx="202.48" cy="346.93" r="0.74" fill="#1d7298" stroke="#03121a" stroke-width="0.4"/>
<circle cx="198.20" cy="342.57" r="0.74" fill="#1d7298" stroke="#03121a" stroke-width="0.4"/>
<circle cx="199.49" cy="349.64" r="0.74" fill="#1d7298" stroke="#03121a" stroke-width="0.4"/>
<circle cx="202.46" cy="341.34" r="0.74" fill="#1d7298" stroke="#03121a" stroke-width="0.4"/>
<circle cx="199.35" cy="342.41" r="0.74" fill="#1d7298" stroke="#03121a" stroke-width="0.4"/>
<circle cx="202.61" cy="341.27" r="0.74" fill="#1d7298" stroke="#03121a" stroke-width="0.4"/>
<circle cx="197.44" cy="339.96" r="0.74" fill="#1d7298" stroke="#03121a" stroke-width="0.4"/>
<circle cx="199.35" cy="353.37" r="0.74" fill="#1d7298" stroke="#03121a" stroke-width="0.4"/>
<circle cx="202.10" cy="350.72" r="0.74" fill="#1d7298" stroke="#03121a" stroke-width="0.4"/>
<circle cx="202.74" cy="353.91" r="0.74" fill="#1d7298" stroke="#03121a" stroke-width="0.4"/>
<circle cx="198.99" cy="341.97" r="0.74" fill="#1d7298" stroke="#03121a" stroke-width="0.4"/>
<circle cx="202.39" cy="350.94" r="0.74" fill="#1d7298" stroke="#03121a" stroke-width="0.4"/>
<circle cx="197.33" cy="349.63" r="0.74" fill="#1d7298" stroke="#03121a" stroke-width="0.4"/>
<circle cx="199.27" cy="344.98" r="0.74" fill="#1d7298" stroke="#03121a" stroke-width="0.4"/>
<circle cx="199.01" cy="341.71" r="0.74" fill="#1d7298" stroke="#03121a" stroke-width="0.4"/>
<circle cx="197.17" cy="343.48" r="0.74" fill="#1d7298" stroke="#03121a" stroke-width="0.4"/>
<circle cx="199.12" cy="354.29" r="0.74" fill="#1d7298" stroke="#03121a" stroke-width="0.4"/>
<circle cx="197.84" cy="354.43" r="0.74" fill="#1d7298" stroke="#03121a" stroke-width="0.4"/>
<circle cx="198.31" cy="344.71" r="0.74" fill="#1d7298" stroke="#03121a" stroke-width="0.4"/>
<circle cx="201.75" cy="352.15" r="0.74" fill="#1d7298" stroke="#03121a" stroke-width="0.4"/>
<circle cx="199.57" cy="339.79" r="0.74" fill="#1d7298" stroke="#03121a" stroke-width="0.4"/>
<circle cx="199.80" cy="344.96" r="0.74" fill="#1d7298" stroke="#03121a" stroke-width="0.4"/>
<circle cx="202.30" cy="342.09" r="0.74" fill="#1d7298" stroke="#03121a" stroke-width="0.4"/>
<circle cx="199.19" cy="353.35" r="0.74" fill="#1d7298" stroke="#03121a" stroke-width="0.4"/>
<circle cx="197.32" cy="345.57" r="0.74" fill="#1d7298" stroke="#03121a" stroke-width="0.4"/>
<circle cx="201.70" cy="351.27" r="0.74" fill="#1d7298" stroke="#03121a" stroke-width="0.4"/>
<circle cx="197.38" cy="339.56" r="0.74" fill="#1d7298" stroke="#03121a" stroke-width="0.4"/>
<circle cx="197.50" cy="353.72" r="0.74" fill="#1d7298" stroke="#03121a" stroke-width="0.4"/>
<circle cx="198.59" cy="350.96" r="0.74" fill="#1d7298" stroke="#03121a" stroke-width="0.4"/>
<circle cx="202.18" cy="344.43" r="0.74" fill="#1d7298" stroke="#03121a" stroke-width="0.4"/>
<circle cx="198.67" cy="354.32" r="0.74" fill="#1d7298" stroke="#03121a" stroke-width="0.4"/>
<circle cx="200.61" cy="343.19" r="0.74" fill="#1d7298" stroke="#03121a" stroke-width="0.4"/>
<circle cx="201.16" cy="344.06" r="0.74" fill="#1d7298" stroke="#03121a" stroke-width="0.4"/>
<circle cx="198.69" cy="339.06" r="0.74" fill="#1d7298" stroke="#03121a" stroke-width="0.4"/>
<circle cx="201.38" cy="353.66" r="0.74" fill="#1d7298" stroke="#03121a" stroke-width="0.4"/>
<circle cx="200.70" cy="354.09" r="0.74" fill="#1d7298" stroke="#03121a" stroke-width="0.4"/>
<circle cx="197.29" cy="342.74" r="0.74" fill="#1d7298" stroke="#03121a" stroke-width="0.4"/>
<circle cx="199.81" cy="354.31" r="0.74" fill="#1d7298" stroke="#03121a" stroke-width="0.4"/>
<circle cx="202.49" cy="345.18" r="0.74" fill="#1d7298" stroke="#03121a" stroke-width="0.4"/>
<circle cx="198.56" cy="345.88" r="0.74" fill="#1d7298" stroke="#03121a" stroke-width="0.4"/>
<circle cx="199.91" cy="353.85" r="0.74" fill="#1d7298" stroke="#03121a" stroke-width="0.4"/>
<circle cx="198.17" cy="351.84" r="0.74" fill="#1d7298" stroke="#03121a" stroke-width="0.4"/>
<circle cx="201.29" cy="352.16" r="0.74" fill="#1d7298" stroke="#03121a" stroke-width="0.4"/>
<circle cx="201.48" cy="348.72" r="0.74" fill="#1d7298" stroke="#03121a" stroke-width="0.4"/>
<circle cx="198.99" cy="344.11" r="0.74" fill="#1d7298" stroke="#03121a" stroke-width="0.4"/>
<circle cx="199.18" cy="351.52" r="0.74" fill="#1d7298" stroke="#03121a" stroke-width="0.4"/>
<circle cx="197.59" cy="342.16" r="0.74" fill="#1d7298" stroke="#03121a" stroke-width="0.4"/>
<circle cx="201.37" cy="342.96" r="0.74" fill="#1d7298" stroke="#03121a" stroke-width="0.4"/>
<circle cx="197.51" cy="339.54" r="0.74" fill="#1d7298" stroke="#03121a" stroke-width="0.4"/>
<circle cx="200.24" cy="344.21" r="0.74" fill="#1d7298" stroke="#03121a" stroke-width="0.4"/>
<circle cx="202.64" cy="353.14" r="0.74" fill="#1d7298" stroke="#03121a" stroke-width="0.4"/>
<circle cx="202.68" cy="343.24" r="0.74" fill="#1d7298" stroke="#03121a" stroke-width="0.4"/>
<circle cx="197.62" cy="340.54" r="0.74" fill="#1d7298" stroke="#03121a" stroke-width="0.4"/>
<circle cx="199.94" cy="335.90" r="0.74" fill="#1d7298" stroke="#03121a" stroke-width="0.4"/>
<circle cx="199.65" cy="333.29" r="0.74" fill="#1d7298" stroke="#03121a" stroke-width="0.4"/>
<circle cx="199.48" cy="335.41" r="0.74" fill="#1d7298" stroke="#03121a" stroke-width="0.4"/>
<circle cx="200.93" cy="336.11" r="0.74" fill="#1d7298" stroke="#03121a" stroke-width="0.4"/>
<circle cx="201.89" cy="335.65" r="0.74" fill="#1d7298" stroke="#03121a" stroke-width="0.4"/>
<circle cx="197.83" cy="336.62" r="0.74" fill="#1d7298" stroke="#03121a" stroke-width="0.4"/>
<circle cx="198.80" cy="335.12" r="0.74" fill="#1d7298" stroke="#03121a" stroke-width="0.4"/>
<circle cx="199.24" cy="336.06" r="0.74" fill="#1d7298" stroke="#03121a" stroke-width="0.4"/>
<circle cx="198.27" cy="333.36" r="0.74" fill="#1d7298" stroke="#03121a" stroke-width="0.4"/>
<circle cx="198.52" cy="332.84" r="0.74" fill="#1d7298" stroke="#03121a" stroke-width="0.4"/>
<circle cx="202.10" cy="327.20" r="0.74" fill="#1d7298" stroke="#03121a" stroke-width="0.4"/>
<circle cx="198.98" cy="325.56" r="0.74" fill="#1d7298" stroke="#03121a" stroke-width="0.4"/>
<circle cx="202.71" cy="326.57" r="0.74" fill="#1d7298" stroke="#03121a" stroke-width="0.4"/>
<circle cx="198.45" cy="329.28" r="0.74" fill="#1d7298" stroke="#03121a" stroke-width="0.4"/>
<circle cx="200.81" cy="330.92" r="0.74" fill="#1d7298" stroke="#03121a" stroke-width="0.4"/>
<circle cx="197.72" cy="326.27" r="0.74" fill="#1d7298" stroke="#03121a" stroke-width="0.4"/>
<circle cx="201.35" cy="311.70" r="0.74" fill="#1d7298" stroke="#03121a" stroke-width="0.4"/>
<circle cx="201.45" cy="319.50" r="0.74" fill="#1d7298" stroke="#03121a" stroke-width="0.4"/>
<circle cx="201.77" cy="321.00" r="0.74" fill="#1d7298" stroke="#03121a" stroke-width="0.4"/>
<line x1="189.30" y1="303.20" x2="201.70" y2="303.20" stroke="#444" stroke-width="0.8" />
<text x="195.50" y="303.80" font-size="4.6" fill="#444" text-anchor="middle" stroke="#444" stroke-width="0.15" textLength="5.4" lengthAdjust="spacingAndGlyphs" >***</text>
<text x="195.20" y="363.60" font-size="4.1" fill="#d07a74" text-anchor="middle" >cg01392772</text>
<rect x="225.30" y="350.00" width="12.30" height="3.60" fill="none" stroke="#d8857c" stroke-width="0.65"/>
<line x1="225.30" y1="351.80" x2="237.60" y2="351.80" stroke="#d8857c" stroke-width="0.6" />
<rect x="238.40" y="342.60" width="12.30" height="9.20" fill="none" stroke="#4db4e2" stroke-width="0.65"/>
<line x1="238.40" y1="347.40" x2="250.70" y2="347.40" stroke="#4db4e2" stroke-width="0.6" />
<circle cx="228.69" cy="348.64" r="0.74" fill="#8a2020" stroke="#2a0505" stroke-width="0.35"/>
<circle cx="229.17" cy="347.71" r="0.74" fill="#8a2020" stroke="#2a0505" stroke-width="0.35"/>
<circle cx="234.29" cy="351.25" r="0.74" fill="#8a2020" stroke="#2a0505" stroke-width="0.35"/>
<circle cx="234.03" cy="349.35" r="0.74" fill="#8a2020" stroke="#2a0505" stroke-width="0.35"/>
<circle cx="233.65" cy="350.04" r="0.74" fill="#8a2020" stroke="#2a0505" stroke-width="0.35"/>
<circle cx="230.01" cy="353.00" r="0.74" fill="#8a2020" stroke="#2a0505" stroke-width="0.35"/>
<circle cx="234.12" cy="346.95" r="0.74" fill="#8a2020" stroke="#2a0505" stroke-width="0.35"/>
<circle cx="232.03" cy="351.58" r="0.74" fill="#8a2020" stroke="#2a0505" stroke-width="0.35"/>
<circle cx="229.76" cy="349.32" r="0.74" fill="#8a2020" stroke="#2a0505" stroke-width="0.35"/>
<circle cx="229.30" cy="347.84" r="0.74" fill="#8a2020" stroke="#2a0505" stroke-width="0.35"/>
<circle cx="229.98" cy="351.39" r="0.74" fill="#8a2020" stroke="#2a0505" stroke-width="0.35"/>
<circle cx="232.36" cy="347.83" r="0.74" fill="#8a2020" stroke="#2a0505" stroke-width="0.35"/>
<circle cx="228.52" cy="348.95" r="0.74" fill="#8a2020" stroke="#2a0505" stroke-width="0.35"/>
<circle cx="232.52" cy="347.67" r="0.74" fill="#8a2020" stroke="#2a0505" stroke-width="0.35"/>
<circle cx="230.32" cy="347.83" r="0.74" fill="#8a2020" stroke="#2a0505" stroke-width="0.35"/>
<circle cx="233.22" cy="350.93" r="0.74" fill="#8a2020" stroke="#2a0505" stroke-width="0.35"/>
<circle cx="228.83" cy="346.91" r="0.74" fill="#8a2020" stroke="#2a0505" stroke-width="0.35"/>
<circle cx="230.82" cy="350.95" r="0.74" fill="#8a2020" stroke="#2a0505" stroke-width="0.35"/>
<circle cx="231.95" cy="331.70" r="0.74" fill="#8a2020" stroke="#2a0505" stroke-width="0.35"/>
<circle cx="242.26" cy="340.78" r="0.74" fill="#1d7298" stroke="#03121a" stroke-width="0.4"/>
<circle cx="245.64" cy="344.97" r="0.74" fill="#1d7298" stroke="#03121a" stroke-width="0.4"/>
<circle cx="243.34" cy="343.23" r="0.74" fill="#1d7298" stroke="#03121a" stroke-width="0.4"/>
<circle cx="247.09" cy="343.31" r="0.74" fill="#1d7298" stroke="#03121a" stroke-width="0.4"/>
<circle cx="244.92" cy="344.07" r="0.74" fill="#1d7298" stroke="#03121a" stroke-width="0.4"/>
<circle cx="244.08" cy="352.69" r="0.74" fill="#1d7298" stroke="#03121a" stroke-width="0.4"/>
<circle cx="247.33" cy="344.18" r="0.74" fill="#1d7298" stroke="#03121a" stroke-width="0.4"/>
<circle cx="242.85" cy="350.38" r="0.74" fill="#1d7298" stroke="#03121a" stroke-width="0.4"/>
<circle cx="242.89" cy="338.10" r="0.74" fill="#1d7298" stroke="#03121a" stroke-width="0.4"/>
<circle cx="246.80" cy="345.20" r="0.74" fill="#1d7298" stroke="#03121a" stroke-width="0.4"/>
<circle cx="246.34" cy="344.91" r="0.74" fill="#1d7298" stroke="#03121a" stroke-width="0.4"/>
<circle cx="246.69" cy="345.84" r="0.74" fill="#1d7298" stroke="#03121a" stroke-width="0.4"/>
<circle cx="242.66" cy="338.25" r="0.74" fill="#1d7298" stroke="#03121a" stroke-width="0.4"/>
<circle cx="244.84" cy="348.89" r="0.74" fill="#1d7298" stroke="#03121a" stroke-width="0.4"/>
<circle cx="246.84" cy="339.51" r="0.74" fill="#1d7298" stroke="#03121a" stroke-width="0.4"/>
<circle cx="245.23" cy="344.30" r="0.74" fill="#1d7298" stroke="#03121a" stroke-width="0.4"/>
<circle cx="244.57" cy="340.48" r="0.74" fill="#1d7298" stroke="#03121a" stroke-width="0.4"/>
<circle cx="243.34" cy="346.86" r="0.74" fill="#1d7298" stroke="#03121a" stroke-width="0.4"/>
<circle cx="246.93" cy="339.85" r="0.74" fill="#1d7298" stroke="#03121a" stroke-width="0.4"/>
<circle cx="244.50" cy="351.68" r="0.74" fill="#1d7298" stroke="#03121a" stroke-width="0.4"/>
<circle cx="247.16" cy="341.35" r="0.74" fill="#1d7298" stroke="#03121a" stroke-width="0.4"/>
<circle cx="242.46" cy="354.03" r="0.74" fill="#1d7298" stroke="#03121a" stroke-width="0.4"/>
<circle cx="247.21" cy="346.21" r="0.74" fill="#1d7298" stroke="#03121a" stroke-width="0.4"/>
<circle cx="242.05" cy="353.74" r="0.74" fill="#1d7298" stroke="#03121a" stroke-width="0.4"/>
<circle cx="243.92" cy="353.37" r="0.74" fill="#1d7298" stroke="#03121a" stroke-width="0.4"/>
<circle cx="245.22" cy="352.02" r="0.74" fill="#1d7298" stroke="#03121a" stroke-width="0.4"/>
<circle cx="242.65" cy="351.36" r="0.74" fill="#1d7298" stroke="#03121a" stroke-width="0.4"/>
<circle cx="242.99" cy="344.88" r="0.74" fill="#1d7298" stroke="#03121a" stroke-width="0.4"/>
<circle cx="246.49" cy="352.10" r="0.74" fill="#1d7298" stroke="#03121a" stroke-width="0.4"/>
<circle cx="242.77" cy="341.71" r="0.74" fill="#1d7298" stroke="#03121a" stroke-width="0.4"/>
<circle cx="243.99" cy="346.80" r="0.74" fill="#1d7298" stroke="#03121a" stroke-width="0.4"/>
<circle cx="243.90" cy="340.09" r="0.74" fill="#1d7298" stroke="#03121a" stroke-width="0.4"/>
<circle cx="243.13" cy="350.32" r="0.74" fill="#1d7298" stroke="#03121a" stroke-width="0.4"/>
<circle cx="246.77" cy="338.70" r="0.74" fill="#1d7298" stroke="#03121a" stroke-width="0.4"/>
<circle cx="244.90" cy="350.88" r="0.74" fill="#1d7298" stroke="#03121a" stroke-width="0.4"/>
<circle cx="241.96" cy="352.25" r="0.74" fill="#1d7298" stroke="#03121a" stroke-width="0.4"/>
<circle cx="242.41" cy="348.19" r="0.74" fill="#1d7298" stroke="#03121a" stroke-width="0.4"/>
<circle cx="244.83" cy="348.66" r="0.74" fill="#1d7298" stroke="#03121a" stroke-width="0.4"/>
<circle cx="243.46" cy="345.14" r="0.74" fill="#1d7298" stroke="#03121a" stroke-width="0.4"/>
<circle cx="245.01" cy="345.24" r="0.74" fill="#1d7298" stroke="#03121a" stroke-width="0.4"/>
<circle cx="245.44" cy="345.60" r="0.74" fill="#1d7298" stroke="#03121a" stroke-width="0.4"/>
<circle cx="244.20" cy="338.40" r="0.74" fill="#1d7298" stroke="#03121a" stroke-width="0.4"/>
<circle cx="245.22" cy="346.32" r="0.74" fill="#1d7298" stroke="#03121a" stroke-width="0.4"/>
<circle cx="243.07" cy="350.98" r="0.74" fill="#1d7298" stroke="#03121a" stroke-width="0.4"/>
<circle cx="246.12" cy="345.79" r="0.74" fill="#1d7298" stroke="#03121a" stroke-width="0.4"/>
<circle cx="242.76" cy="346.04" r="0.74" fill="#1d7298" stroke="#03121a" stroke-width="0.4"/>
<circle cx="242.35" cy="340.18" r="0.74" fill="#1d7298" stroke="#03121a" stroke-width="0.4"/>
<circle cx="244.16" cy="339.56" r="0.74" fill="#1d7298" stroke="#03121a" stroke-width="0.4"/>
<circle cx="244.23" cy="346.67" r="0.74" fill="#1d7298" stroke="#03121a" stroke-width="0.4"/>
<circle cx="241.98" cy="348.82" r="0.74" fill="#1d7298" stroke="#03121a" stroke-width="0.4"/>
<circle cx="242.21" cy="350.47" r="0.74" fill="#1d7298" stroke="#03121a" stroke-width="0.4"/>
<circle cx="246.10" cy="346.70" r="0.74" fill="#1d7298" stroke="#03121a" stroke-width="0.4"/>
<circle cx="242.05" cy="346.57" r="0.74" fill="#1d7298" stroke="#03121a" stroke-width="0.4"/>
<circle cx="243.87" cy="354.16" r="0.74" fill="#1d7298" stroke="#03121a" stroke-width="0.4"/>
<circle cx="242.51" cy="352.57" r="0.74" fill="#1d7298" stroke="#03121a" stroke-width="0.4"/>
<circle cx="247.33" cy="350.45" r="0.74" fill="#1d7298" stroke="#03121a" stroke-width="0.4"/>
<circle cx="246.31" cy="341.29" r="0.74" fill="#1d7298" stroke="#03121a" stroke-width="0.4"/>
<circle cx="247.25" cy="346.36" r="0.74" fill="#1d7298" stroke="#03121a" stroke-width="0.4"/>
<circle cx="247.11" cy="353.57" r="0.74" fill="#1d7298" stroke="#03121a" stroke-width="0.4"/>
<circle cx="242.67" cy="351.40" r="0.74" fill="#1d7298" stroke="#03121a" stroke-width="0.4"/>
<circle cx="246.96" cy="326.79" r="0.74" fill="#1d7298" stroke="#03121a" stroke-width="0.4"/>
<circle cx="243.72" cy="335.07" r="0.74" fill="#1d7298" stroke="#03121a" stroke-width="0.4"/>
<circle cx="242.64" cy="336.76" r="0.74" fill="#1d7298" stroke="#03121a" stroke-width="0.4"/>
<circle cx="243.29" cy="335.79" r="0.74" fill="#1d7298" stroke="#03121a" stroke-width="0.4"/>
<circle cx="242.55" cy="332.03" r="0.74" fill="#1d7298" stroke="#03121a" stroke-width="0.4"/>
<circle cx="246.90" cy="328.50" r="0.74" fill="#1d7298" stroke="#03121a" stroke-width="0.4"/>
<circle cx="243.22" cy="332.07" r="0.74" fill="#1d7298" stroke="#03121a" stroke-width="0.4"/>
<circle cx="243.54" cy="326.44" r="0.74" fill="#1d7298" stroke="#03121a" stroke-width="0.4"/>
<circle cx="242.77" cy="327.93" r="0.74" fill="#1d7298" stroke="#03121a" stroke-width="0.4"/>
<circle cx="246.99" cy="334.16" r="0.74" fill="#1d7298" stroke="#03121a" stroke-width="0.4"/>
<circle cx="246.76" cy="328.02" r="0.74" fill="#1d7298" stroke="#03121a" stroke-width="0.4"/>
<circle cx="246.15" cy="327.38" r="0.74" fill="#1d7298" stroke="#03121a" stroke-width="0.4"/>
<circle cx="244.72" cy="323.09" r="0.74" fill="#1d7298" stroke="#03121a" stroke-width="0.4"/>
<circle cx="243.76" cy="324.98" r="0.74" fill="#1d7298" stroke="#03121a" stroke-width="0.4"/>
<circle cx="244.86" cy="322.64" r="0.74" fill="#1d7298" stroke="#03121a" stroke-width="0.4"/>
<circle cx="246.69" cy="318.84" r="0.74" fill="#1d7298" stroke="#03121a" stroke-width="0.4"/>
<circle cx="247.31" cy="323.04" r="0.74" fill="#1d7298" stroke="#03121a" stroke-width="0.4"/>
<circle cx="244.08" cy="310.70" r="0.74" fill="#1d7298" stroke="#03121a" stroke-width="0.4"/>
<circle cx="245.86" cy="312.50" r="0.74" fill="#1d7298" stroke="#03121a" stroke-width="0.4"/>
<circle cx="243.51" cy="313.50" r="0.74" fill="#1d7298" stroke="#03121a" stroke-width="0.4"/>
<line x1="232.30" y1="303.20" x2="244.70" y2="303.20" stroke="#444" stroke-width="0.8" />
<text x="238.50" y="303.80" font-size="4.6" fill="#444" text-anchor="middle" stroke="#444" stroke-width="0.15" textLength="3.5" lengthAdjust="spacingAndGlyphs" >**</text>
<text x="238.00" y="363.60" font-size="4.1" fill="#d07a74" text-anchor="middle" >cg15835232</text>
<rect x="270.30" y="353.60" width="12.30" height="1.70" fill="none" stroke="#d8857c" stroke-width="0.65"/>
<line x1="270.30" y1="354.40" x2="282.60" y2="354.40" stroke="#d8857c" stroke-width="0.6" />
<rect x="283.40" y="342.60" width="12.30" height="11.00" fill="none" stroke="#4db4e2" stroke-width="0.65"/>
<line x1="283.40" y1="347.40" x2="295.70" y2="347.40" stroke="#4db4e2" stroke-width="0.6" />
<circle cx="279.39" cy="353.46" r="0.74" fill="#8a2020" stroke="#2a0505" stroke-width="0.35"/>
<circle cx="275.61" cy="354.59" r="0.74" fill="#8a2020" stroke="#2a0505" stroke-width="0.35"/>
<circle cx="276.10" cy="351.06" r="0.74" fill="#8a2020" stroke="#2a0505" stroke-width="0.35"/>
<circle cx="277.91" cy="350.29" r="0.74" fill="#8a2020" stroke="#2a0505" stroke-width="0.35"/>
<circle cx="278.37" cy="351.52" r="0.74" fill="#8a2020" stroke="#2a0505" stroke-width="0.35"/>
<circle cx="277.29" cy="355.90" r="0.74" fill="#8a2020" stroke="#2a0505" stroke-width="0.35"/>
<circle cx="276.97" cy="353.98" r="0.74" fill="#8a2020" stroke="#2a0505" stroke-width="0.35"/>
<circle cx="275.33" cy="350.01" r="0.74" fill="#8a2020" stroke="#2a0505" stroke-width="0.35"/>
<circle cx="273.65" cy="350.90" r="0.74" fill="#8a2020" stroke="#2a0505" stroke-width="0.35"/>
<circle cx="277.15" cy="352.59" r="0.74" fill="#8a2020" stroke="#2a0505" stroke-width="0.35"/>
<circle cx="276.53" cy="355.37" r="0.74" fill="#8a2020" stroke="#2a0505" stroke-width="0.35"/>
<circle cx="274.24" cy="351.36" r="0.74" fill="#8a2020" stroke="#2a0505" stroke-width="0.35"/>
<circle cx="277.37" cy="350.13" r="0.74" fill="#8a2020" stroke="#2a0505" stroke-width="0.35"/>
<circle cx="273.47" cy="352.13" r="0.74" fill="#8a2020" stroke="#2a0505" stroke-width="0.35"/>
<circle cx="274.09" cy="352.14" r="0.74" fill="#8a2020" stroke="#2a0505" stroke-width="0.35"/>
<circle cx="274.80" cy="353.50" r="0.74" fill="#8a2020" stroke="#2a0505" stroke-width="0.35"/>
<circle cx="276.77" cy="341.30" r="0.74" fill="#8a2020" stroke="#2a0505" stroke-width="0.35"/>
<circle cx="275.39" cy="349.20" r="0.74" fill="#8a2020" stroke="#2a0505" stroke-width="0.35"/>
<circle cx="290.24" cy="346.84" r="0.74" fill="#1d7298" stroke="#03121a" stroke-width="0.4"/>
<circle cx="287.50" cy="354.45" r="0.74" fill="#1d7298" stroke="#03121a" stroke-width="0.4"/>
<circle cx="288.11" cy="341.46" r="0.74" fill="#1d7298" stroke="#03121a" stroke-width="0.4"/>
<circle cx="287.29" cy="349.53" r="0.74" fill="#1d7298" stroke="#03121a" stroke-width="0.4"/>
<circle cx="291.63" cy="351.91" r="0.74" fill="#1d7298" stroke="#03121a" stroke-width="0.4"/>
<circle cx="289.00" cy="343.36" r="0.74" fill="#1d7298" stroke="#03121a" stroke-width="0.4"/>
<circle cx="286.81" cy="349.64" r="0.74" fill="#1d7298" stroke="#03121a" stroke-width="0.4"/>
<circle cx="289.90" cy="344.78" r="0.74" fill="#1d7298" stroke="#03121a" stroke-width="0.4"/>
<circle cx="290.37" cy="346.32" r="0.74" fill="#1d7298" stroke="#03121a" stroke-width="0.4"/>
<circle cx="292.00" cy="351.10" r="0.74" fill="#1d7298" stroke="#03121a" stroke-width="0.4"/>
<circle cx="288.14" cy="353.91" r="0.74" fill="#1d7298" stroke="#03121a" stroke-width="0.4"/>
<circle cx="287.00" cy="347.77" r="0.74" fill="#1d7298" stroke="#03121a" stroke-width="0.4"/>
<circle cx="289.02" cy="342.92" r="0.74" fill="#1d7298" stroke="#03121a" stroke-width="0.4"/>
<circle cx="287.08" cy="351.85" r="0.74" fill="#1d7298" stroke="#03121a" stroke-width="0.4"/>
<circle cx="286.82" cy="348.09" r="0.74" fill="#1d7298" stroke="#03121a" stroke-width="0.4"/>
<circle cx="292.02" cy="341.35" r="0.74" fill="#1d7298" stroke="#03121a" stroke-width="0.4"/>
<circle cx="287.87" cy="349.03" r="0.74" fill="#1d7298" stroke="#03121a" stroke-width="0.4"/>
<circle cx="289.59" cy="349.59" r="0.74" fill="#1d7298" stroke="#03121a" stroke-width="0.4"/>
<circle cx="291.30" cy="341.88" r="0.74" fill="#1d7298" stroke="#03121a" stroke-width="0.4"/>
<circle cx="288.48" cy="343.95" r="0.74" fill="#1d7298" stroke="#03121a" stroke-width="0.4"/>
<circle cx="287.02" cy="353.67" r="0.74" fill="#1d7298" stroke="#03121a" stroke-width="0.4"/>
<circle cx="291.13" cy="350.80" r="0.74" fill="#1d7298" stroke="#03121a" stroke-width="0.4"/>
<circle cx="286.79" cy="352.93" r="0.74" fill="#1d7298" stroke="#03121a" stroke-width="0.4"/>
<circle cx="290.92" cy="346.68" r="0.74" fill="#1d7298" stroke="#03121a" stroke-width="0.4"/>
<circle cx="290.90" cy="346.47" r="0.74" fill="#1d7298" stroke="#03121a" stroke-width="0.4"/>
<circle cx="288.02" cy="340.74" r="0.74" fill="#1d7298" stroke="#03121a" stroke-width="0.4"/>
<circle cx="288.05" cy="339.64" r="0.74" fill="#1d7298" stroke="#03121a" stroke-width="0.4"/>
<circle cx="288.63" cy="351.37" r="0.74" fill="#1d7298" stroke="#03121a" stroke-width="0.4"/>
<circle cx="290.64" cy="352.95" r="0.74" fill="#1d7298" stroke="#03121a" stroke-width="0.4"/>
<circle cx="290.74" cy="343.39" r="0.74" fill="#1d7298" stroke="#03121a" stroke-width="0.4"/>
<circle cx="289.85" cy="346.19" r="0.74" fill="#1d7298" stroke="#03121a" stroke-width="0.4"/>
<circle cx="291.17" cy="347.63" r="0.74" fill="#1d7298" stroke="#03121a" stroke-width="0.4"/>
<circle cx="288.24" cy="349.59" r="0.74" fill="#1d7298" stroke="#03121a" stroke-width="0.4"/>
<circle cx="292.15" cy="342.58" r="0.74" fill="#1d7298" stroke="#03121a" stroke-width="0.4"/>
<circle cx="291.68" cy="339.25" r="0.74" fill="#1d7298" stroke="#03121a" stroke-width="0.4"/>
<circle cx="288.21" cy="342.90" r="0.74" fill="#1d7298" stroke="#03121a" stroke-width="0.4"/>
<circle cx="290.92" cy="354.59" r="0.74" fill="#1d7298" stroke="#03121a" stroke-width="0.4"/>
<circle cx="290.93" cy="344.39" r="0.74" fill="#1d7298" stroke="#03121a" stroke-width="0.4"/>
<circle cx="291.68" cy="344.42" r="0.74" fill="#1d7298" stroke="#03121a" stroke-width="0.4"/>
<circle cx="288.09" cy="353.97" r="0.74" fill="#1d7298" stroke="#03121a" stroke-width="0.4"/>
<circle cx="290.28" cy="350.43" r="0.74" fill="#1d7298" stroke="#03121a" stroke-width="0.4"/>
<circle cx="290.48" cy="355.15" r="0.74" fill="#1d7298" stroke="#03121a" stroke-width="0.4"/>
<circle cx="289.38" cy="352.86" r="0.74" fill="#1d7298" stroke="#03121a" stroke-width="0.4"/>
<circle cx="290.66" cy="353.15" r="0.74" fill="#1d7298" stroke="#03121a" stroke-width="0.4"/>
<circle cx="289.20" cy="350.96" r="0.74" fill="#1d7298" stroke="#03121a" stroke-width="0.4"/>
<circle cx="289.94" cy="344.08" r="0.74" fill="#1d7298" stroke="#03121a" stroke-width="0.4"/>
<circle cx="287.94" cy="349.27" r="0.74" fill="#1d7298" stroke="#03121a" stroke-width="0.4"/>
<circle cx="287.19" cy="354.03" r="0.74" fill="#1d7298" stroke="#03121a" stroke-width="0.4"/>
<circle cx="287.56" cy="339.44" r="0.74" fill="#1d7298" stroke="#03121a" stroke-width="0.4"/>
<circle cx="287.35" cy="354.33" r="0.74" fill="#1d7298" stroke="#03121a" stroke-width="0.4"/>
<circle cx="288.68" cy="341.34" r="0.74" fill="#1d7298" stroke="#03121a" stroke-width="0.4"/>
<circle cx="286.91" cy="339.69" r="0.74" fill="#1d7298" stroke="#03121a" stroke-width="0.4"/>
<circle cx="290.63" cy="349.46" r="0.74" fill="#1d7298" stroke="#03121a" stroke-width="0.4"/>
<circle cx="290.65" cy="351.16" r="0.74" fill="#1d7298" stroke="#03121a" stroke-width="0.4"/>
<circle cx="287.12" cy="348.74" r="0.74" fill="#1d7298" stroke="#03121a" stroke-width="0.4"/>
<circle cx="288.79" cy="352.49" r="0.74" fill="#1d7298" stroke="#03121a" stroke-width="0.4"/>
<circle cx="291.34" cy="353.71" r="0.74" fill="#1d7298" stroke="#03121a" stroke-width="0.4"/>
<circle cx="287.12" cy="353.32" r="0.74" fill="#1d7298" stroke="#03121a" stroke-width="0.4"/>
<circle cx="291.87" cy="354.58" r="0.74" fill="#1d7298" stroke="#03121a" stroke-width="0.4"/>
<circle cx="287.35" cy="342.39" r="0.74" fill="#1d7298" stroke="#03121a" stroke-width="0.4"/>
<circle cx="287.38" cy="325.48" r="0.74" fill="#1d7298" stroke="#03121a" stroke-width="0.4"/>
<circle cx="291.50" cy="336.37" r="0.74" fill="#1d7298" stroke="#03121a" stroke-width="0.4"/>
<circle cx="290.30" cy="336.55" r="0.74" fill="#1d7298" stroke="#03121a" stroke-width="0.4"/>
<circle cx="290.29" cy="329.02" r="0.74" fill="#1d7298" stroke="#03121a" stroke-width="0.4"/>
<circle cx="287.31" cy="326.37" r="0.74" fill="#1d7298" stroke="#03121a" stroke-width="0.4"/>
<circle cx="290.99" cy="327.87" r="0.74" fill="#1d7298" stroke="#03121a" stroke-width="0.4"/>
<circle cx="288.54" cy="330.93" r="0.74" fill="#1d7298" stroke="#03121a" stroke-width="0.4"/>
<circle cx="286.87" cy="328.59" r="0.74" fill="#1d7298" stroke="#03121a" stroke-width="0.4"/>
<circle cx="288.33" cy="335.02" r="0.74" fill="#1d7298" stroke="#03121a" stroke-width="0.4"/>
<circle cx="288.81" cy="329.49" r="0.74" fill="#1d7298" stroke="#03121a" stroke-width="0.4"/>
<circle cx="292.15" cy="332.05" r="0.74" fill="#1d7298" stroke="#03121a" stroke-width="0.4"/>
<circle cx="291.52" cy="333.66" r="0.74" fill="#1d7298" stroke="#03121a" stroke-width="0.4"/>
<circle cx="286.92" cy="330.78" r="0.74" fill="#1d7298" stroke="#03121a" stroke-width="0.4"/>
<circle cx="289.19" cy="335.82" r="0.74" fill="#1d7298" stroke="#03121a" stroke-width="0.4"/>
<circle cx="288.69" cy="334.87" r="0.74" fill="#1d7298" stroke="#03121a" stroke-width="0.4"/>
<circle cx="289.76" cy="328.03" r="0.74" fill="#1d7298" stroke="#03121a" stroke-width="0.4"/>
<circle cx="291.58" cy="314.09" r="0.74" fill="#1d7298" stroke="#03121a" stroke-width="0.4"/>
<circle cx="291.34" cy="315.04" r="0.74" fill="#1d7298" stroke="#03121a" stroke-width="0.4"/>
<circle cx="286.76" cy="315.42" r="0.74" fill="#1d7298" stroke="#03121a" stroke-width="0.4"/>
<circle cx="291.02" cy="324.73" r="0.74" fill="#1d7298" stroke="#03121a" stroke-width="0.4"/>
<circle cx="286.77" cy="318.89" r="0.74" fill="#1d7298" stroke="#03121a" stroke-width="0.4"/>
<circle cx="289.50" cy="322.56" r="0.74" fill="#1d7298" stroke="#03121a" stroke-width="0.4"/>
<circle cx="287.78" cy="318.93" r="0.74" fill="#1d7298" stroke="#03121a" stroke-width="0.4"/>
<circle cx="288.69" cy="322.98" r="0.74" fill="#1d7298" stroke="#03121a" stroke-width="0.4"/>
<circle cx="288.50" cy="306.90" r="0.74" fill="#1d7298" stroke="#03121a" stroke-width="0.4"/>
<circle cx="291.50" cy="311.50" r="0.74" fill="#1d7298" stroke="#03121a" stroke-width="0.4"/>
<line x1="278.20" y1="303.20" x2="290.60" y2="303.20" stroke="#444" stroke-width="0.8" />
<text x="284.40" y="303.80" font-size="4.6" fill="#444" text-anchor="middle" stroke="#444" stroke-width="0.15" textLength="5.4" lengthAdjust="spacingAndGlyphs" >***</text>
<text x="282.70" y="363.60" font-size="4.1" fill="#d07a74" text-anchor="middle" >cg02831154</text>
<rect x="315.00" y="353.60" width="12.30" height="1.70" fill="none" stroke="#d8857c" stroke-width="0.65"/>
<line x1="315.00" y1="354.40" x2="327.30" y2="354.40" stroke="#d8857c" stroke-width="0.6" />
<rect x="328.10" y="342.60" width="12.30" height="13.20" fill="none" stroke="#4db4e2" stroke-width="0.65"/>
<line x1="328.10" y1="348.50" x2="340.40" y2="348.50" stroke="#4db4e2" stroke-width="0.6" />
<circle cx="319.85" cy="351.29" r="0.74" fill="#8a2020" stroke="#2a0505" stroke-width="0.35"/>
<circle cx="322.35" cy="352.99" r="0.74" fill="#8a2020" stroke="#2a0505" stroke-width="0.35"/>
<circle cx="318.81" cy="353.82" r="0.74" fill="#8a2020" stroke="#2a0505" stroke-width="0.35"/>
<circle cx="318.64" cy="354.73" r="0.74" fill="#8a2020" stroke="#2a0505" stroke-width="0.35"/>
<circle cx="322.33" cy="354.72" r="0.74" fill="#8a2020" stroke="#2a0505" stroke-width="0.35"/>
<circle cx="321.92" cy="352.13" r="0.74" fill="#8a2020" stroke="#2a0505" stroke-width="0.35"/>
<circle cx="320.56" cy="352.37" r="0.74" fill="#8a2020" stroke="#2a0505" stroke-width="0.35"/>
<circle cx="323.49" cy="350.52" r="0.74" fill="#8a2020" stroke="#2a0505" stroke-width="0.35"/>
<circle cx="323.48" cy="350.15" r="0.74" fill="#8a2020" stroke="#2a0505" stroke-width="0.35"/>
<circle cx="319.39" cy="351.58" r="0.74" fill="#8a2020" stroke="#2a0505" stroke-width="0.35"/>
<circle cx="323.56" cy="353.01" r="0.74" fill="#8a2020" stroke="#2a0505" stroke-width="0.35"/>
<circle cx="320.43" cy="355.30" r="0.74" fill="#8a2020" stroke="#2a0505" stroke-width="0.35"/>
<circle cx="319.55" cy="352.77" r="0.74" fill="#8a2020" stroke="#2a0505" stroke-width="0.35"/>
<circle cx="321.34" cy="354.53" r="0.74" fill="#8a2020" stroke="#2a0505" stroke-width="0.35"/>
<circle cx="322.06" cy="334.90" r="0.74" fill="#8a2020" stroke="#2a0505" stroke-width="0.35"/>
<circle cx="321.68" cy="345.70" r="0.74" fill="#8a2020" stroke="#2a0505" stroke-width="0.35"/>
<circle cx="320.60" cy="347.40" r="0.74" fill="#8a2020" stroke="#2a0505" stroke-width="0.35"/>
<circle cx="333.28" cy="344.10" r="0.74" fill="#1d7298" stroke="#03121a" stroke-width="0.4"/>
<circle cx="336.17" cy="350.94" r="0.74" fill="#1d7298" stroke="#03121a" stroke-width="0.4"/>
<circle cx="335.61" cy="344.29" r="0.74" fill="#1d7298" stroke="#03121a" stroke-width="0.4"/>
<circle cx="333.91" cy="352.44" r="0.74" fill="#1d7298" stroke="#03121a" stroke-width="0.4"/>
<circle cx="334.69" cy="343.70" r="0.74" fill="#1d7298" stroke="#03121a" stroke-width="0.4"/>
<circle cx="334.04" cy="353.95" r="0.74" fill="#1d7298" stroke="#03121a" stroke-width="0.4"/>
<circle cx="332.78" cy="344.59" r="0.74" fill="#1d7298" stroke="#03121a" stroke-width="0.4"/>
<circle cx="333.14" cy="351.49" r="0.74" fill="#1d7298" stroke="#03121a" stroke-width="0.4"/>
<circle cx="336.17" cy="344.09" r="0.74" fill="#1d7298" stroke="#03121a" stroke-width="0.4"/>
<circle cx="332.32" cy="345.34" r="0.74" fill="#1d7298" stroke="#03121a" stroke-width="0.4"/>
<circle cx="333.28" cy="349.05" r="0.74" fill="#1d7298" stroke="#03121a" stroke-width="0.4"/>
<circle cx="332.35" cy="346.43" r="0.74" fill="#1d7298" stroke="#03121a" stroke-width="0.4"/>
<circle cx="332.51" cy="355.16" r="0.74" fill="#1d7298" stroke="#03121a" stroke-width="0.4"/>
<circle cx="335.53" cy="343.37" r="0.74" fill="#1d7298" stroke="#03121a" stroke-width="0.4"/>
<circle cx="336.84" cy="343.37" r="0.74" fill="#1d7298" stroke="#03121a" stroke-width="0.4"/>
<circle cx="333.60" cy="355.28" r="0.74" fill="#1d7298" stroke="#03121a" stroke-width="0.4"/>
<circle cx="335.90" cy="351.90" r="0.74" fill="#1d7298" stroke="#03121a" stroke-width="0.4"/>
<circle cx="333.89" cy="344.65" r="0.74" fill="#1d7298" stroke="#03121a" stroke-width="0.4"/>
<circle cx="335.02" cy="343.44" r="0.74" fill="#1d7298" stroke="#03121a" stroke-width="0.4"/>
<circle cx="332.61" cy="347.24" r="0.74" fill="#1d7298" stroke="#03121a" stroke-width="0.4"/>
<circle cx="331.64" cy="347.39" r="0.74" fill="#1d7298" stroke="#03121a" stroke-width="0.4"/>
<circle cx="335.88" cy="351.36" r="0.74" fill="#1d7298" stroke="#03121a" stroke-width="0.4"/>
<circle cx="334.25" cy="350.54" r="0.74" fill="#1d7298" stroke="#03121a" stroke-width="0.4"/>
<circle cx="334.04" cy="343.91" r="0.74" fill="#1d7298" stroke="#03121a" stroke-width="0.4"/>
<circle cx="334.83" cy="347.46" r="0.74" fill="#1d7298" stroke="#03121a" stroke-width="0.4"/>
<circle cx="335.60" cy="354.26" r="0.74" fill="#1d7298" stroke="#03121a" stroke-width="0.4"/>
<circle cx="333.86" cy="349.75" r="0.74" fill="#1d7298" stroke="#03121a" stroke-width="0.4"/>
<circle cx="335.64" cy="347.69" r="0.74" fill="#1d7298" stroke="#03121a" stroke-width="0.4"/>
<circle cx="332.73" cy="351.75" r="0.74" fill="#1d7298" stroke="#03121a" stroke-width="0.4"/>
<circle cx="336.38" cy="352.45" r="0.74" fill="#1d7298" stroke="#03121a" stroke-width="0.4"/>
<circle cx="335.37" cy="353.51" r="0.74" fill="#1d7298" stroke="#03121a" stroke-width="0.4"/>
<circle cx="335.26" cy="350.66" r="0.74" fill="#1d7298" stroke="#03121a" stroke-width="0.4"/>
<circle cx="333.99" cy="346.23" r="0.74" fill="#1d7298" stroke="#03121a" stroke-width="0.4"/>
<circle cx="334.97" cy="343.32" r="0.74" fill="#1d7298" stroke="#03121a" stroke-width="0.4"/>
<circle cx="333.80" cy="352.56" r="0.74" fill="#1d7298" stroke="#03121a" stroke-width="0.4"/>
<circle cx="335.44" cy="350.50" r="0.74" fill="#1d7298" stroke="#03121a" stroke-width="0.4"/>
<circle cx="332.85" cy="347.72" r="0.74" fill="#1d7298" stroke="#03121a" stroke-width="0.4"/>
<circle cx="334.00" cy="350.39" r="0.74" fill="#1d7298" stroke="#03121a" stroke-width="0.4"/>
<circle cx="333.74" cy="351.12" r="0.74" fill="#1d7298" stroke="#03121a" stroke-width="0.4"/>
<circle cx="336.66" cy="344.47" r="0.74" fill="#1d7298" stroke="#03121a" stroke-width="0.4"/>
<circle cx="335.12" cy="352.51" r="0.74" fill="#1d7298" stroke="#03121a" stroke-width="0.4"/>
<circle cx="333.63" cy="348.61" r="0.74" fill="#1d7298" stroke="#03121a" stroke-width="0.4"/>
<circle cx="336.91" cy="342.51" r="0.74" fill="#1d7298" stroke="#03121a" stroke-width="0.4"/>
<circle cx="334.49" cy="344.17" r="0.74" fill="#1d7298" stroke="#03121a" stroke-width="0.4"/>
<circle cx="335.83" cy="354.70" r="0.74" fill="#1d7298" stroke="#03121a" stroke-width="0.4"/>
<circle cx="334.36" cy="326.72" r="0.74" fill="#1d7298" stroke="#03121a" stroke-width="0.4"/>
<circle cx="334.67" cy="334.20" r="0.74" fill="#1d7298" stroke="#03121a" stroke-width="0.4"/>
<circle cx="335.47" cy="333.71" r="0.74" fill="#1d7298" stroke="#03121a" stroke-width="0.4"/>
<circle cx="335.03" cy="339.09" r="0.74" fill="#1d7298" stroke="#03121a" stroke-width="0.4"/>
<circle cx="334.37" cy="331.98" r="0.74" fill="#1d7298" stroke="#03121a" stroke-width="0.4"/>
<circle cx="336.76" cy="328.57" r="0.74" fill="#1d7298" stroke="#03121a" stroke-width="0.4"/>
<circle cx="335.28" cy="331.67" r="0.74" fill="#1d7298" stroke="#03121a" stroke-width="0.4"/>
<circle cx="335.72" cy="327.08" r="0.74" fill="#1d7298" stroke="#03121a" stroke-width="0.4"/>
<circle cx="336.96" cy="331.04" r="0.74" fill="#1d7298" stroke="#03121a" stroke-width="0.4"/>
<circle cx="331.77" cy="329.66" r="0.74" fill="#1d7298" stroke="#03121a" stroke-width="0.4"/>
<circle cx="333.69" cy="325.23" r="0.74" fill="#1d7298" stroke="#03121a" stroke-width="0.4"/>
<circle cx="333.79" cy="332.15" r="0.74" fill="#1d7298" stroke="#03121a" stroke-width="0.4"/>
<circle cx="335.36" cy="330.99" r="0.74" fill="#1d7298" stroke="#03121a" stroke-width="0.4"/>
<circle cx="332.93" cy="328.82" r="0.74" fill="#1d7298" stroke="#03121a" stroke-width="0.4"/>
<circle cx="335.60" cy="340.98" r="0.74" fill="#1d7298" stroke="#03121a" stroke-width="0.4"/>
<circle cx="334.40" cy="328.72" r="0.74" fill="#1d7298" stroke="#03121a" stroke-width="0.4"/>
<circle cx="335.94" cy="315.88" r="0.74" fill="#1d7298" stroke="#03121a" stroke-width="0.4"/>
<circle cx="332.64" cy="311.94" r="0.74" fill="#1d7298" stroke="#03121a" stroke-width="0.4"/>
<circle cx="335.80" cy="322.14" r="0.74" fill="#1d7298" stroke="#03121a" stroke-width="0.4"/>
<circle cx="335.00" cy="317.04" r="0.74" fill="#1d7298" stroke="#03121a" stroke-width="0.4"/>
<circle cx="334.60" cy="313.39" r="0.74" fill="#1d7298" stroke="#03121a" stroke-width="0.4"/>
<circle cx="336.85" cy="315.30" r="0.74" fill="#1d7298" stroke="#03121a" stroke-width="0.4"/>
<circle cx="335.03" cy="322.28" r="0.74" fill="#1d7298" stroke="#03121a" stroke-width="0.4"/>
<circle cx="336.02" cy="317.02" r="0.74" fill="#1d7298" stroke="#03121a" stroke-width="0.4"/>
<circle cx="333.10" cy="318.22" r="0.74" fill="#1d7298" stroke="#03121a" stroke-width="0.4"/>
<circle cx="332.15" cy="322.51" r="0.74" fill="#1d7298" stroke="#03121a" stroke-width="0.4"/>
<circle cx="333.44" cy="322.76" r="0.74" fill="#1d7298" stroke="#03121a" stroke-width="0.4"/>
<circle cx="332.95" cy="315.64" r="0.74" fill="#1d7298" stroke="#03121a" stroke-width="0.4"/>
<circle cx="333.17" cy="306.40" r="0.74" fill="#1d7298" stroke="#03121a" stroke-width="0.4"/>
<circle cx="333.92" cy="307.00" r="0.74" fill="#1d7298" stroke="#03121a" stroke-width="0.4"/>
<line x1="323.00" y1="303.20" x2="335.40" y2="303.20" stroke="#444" stroke-width="0.8" />
<text x="329.20" y="303.80" font-size="4.6" fill="#444" text-anchor="middle" stroke="#444" stroke-width="0.15" >*</text>
<text x="327.30" y="363.60" font-size="4.1" fill="#d07a74" text-anchor="middle" >cg01185482</text>
<rect x="359.60" y="305.30" width="12.30" height="1.90" fill="#e8a49c" stroke="#d8857c" stroke-width="0.5"/>
<rect x="372.70" y="305.30" width="12.30" height="2.00" fill="#7fcaec" stroke="#4db4e2" stroke-width="0.5"/>
<circle cx="363.87" cy="303.61" r="0.74" fill="#8a2020" stroke="#2a0505" stroke-width="0.35"/>
<circle cx="367.08" cy="304.70" r="0.74" fill="#8a2020" stroke="#2a0505" stroke-width="0.35"/>
<circle cx="364.22" cy="304.78" r="0.74" fill="#8a2020" stroke="#2a0505" stroke-width="0.35"/>
<circle cx="365.63" cy="305.27" r="0.74" fill="#8a2020" stroke="#2a0505" stroke-width="0.35"/>
<circle cx="366.57" cy="306.17" r="0.74" fill="#8a2020" stroke="#2a0505" stroke-width="0.35"/>
<circle cx="364.92" cy="307.22" r="0.74" fill="#8a2020" stroke="#2a0505" stroke-width="0.35"/>
<circle cx="367.88" cy="303.82" r="0.74" fill="#8a2020" stroke="#2a0505" stroke-width="0.35"/>
<circle cx="367.72" cy="307.13" r="0.74" fill="#8a2020" stroke="#2a0505" stroke-width="0.35"/>
<circle cx="367.45" cy="304.15" r="0.74" fill="#8a2020" stroke="#2a0505" stroke-width="0.35"/>
<circle cx="367.74" cy="306.07" r="0.74" fill="#8a2020" stroke="#2a0505" stroke-width="0.35"/>
<circle cx="362.84" cy="303.64" r="0.74" fill="#8a2020" stroke="#2a0505" stroke-width="0.35"/>
<circle cx="368.46" cy="306.16" r="0.74" fill="#8a2020" stroke="#2a0505" stroke-width="0.35"/>
<circle cx="364.25" cy="304.00" r="0.74" fill="#8a2020" stroke="#2a0505" stroke-width="0.35"/>
<circle cx="363.61" cy="304.51" r="0.74" fill="#8a2020" stroke="#2a0505" stroke-width="0.35"/>
<circle cx="367.41" cy="304.95" r="0.74" fill="#8a2020" stroke="#2a0505" stroke-width="0.35"/>
<circle cx="363.67" cy="307.13" r="0.74" fill="#8a2020" stroke="#2a0505" stroke-width="0.35"/>
<circle cx="367.50" cy="304.25" r="0.74" fill="#8a2020" stroke="#2a0505" stroke-width="0.35"/>
<circle cx="368.10" cy="305.97" r="0.74" fill="#8a2020" stroke="#2a0505" stroke-width="0.35"/>
<circle cx="367.44" cy="306.21" r="0.74" fill="#8a2020" stroke="#2a0505" stroke-width="0.35"/>
<circle cx="368.11" cy="306.67" r="0.74" fill="#8a2020" stroke="#2a0505" stroke-width="0.35"/>
<circle cx="367.78" cy="304.37" r="0.74" fill="#8a2020" stroke="#2a0505" stroke-width="0.35"/>
<circle cx="366.91" cy="305.67" r="0.74" fill="#8a2020" stroke="#2a0505" stroke-width="0.35"/>
<circle cx="366.62" cy="310.50" r="0.74" fill="#8a2020" stroke="#2a0505" stroke-width="0.35"/>
<circle cx="365.53" cy="311.20" r="0.74" fill="#8a2020" stroke="#2a0505" stroke-width="0.35"/>
<circle cx="367.13" cy="311.80" r="0.74" fill="#8a2020" stroke="#2a0505" stroke-width="0.35"/>
<circle cx="379.16" cy="305.00" r="0.74" fill="#1d7298" stroke="#03121a" stroke-width="0.4"/>
<circle cx="377.36" cy="304.15" r="0.74" fill="#1d7298" stroke="#03121a" stroke-width="0.4"/>
<circle cx="378.81" cy="303.60" r="0.74" fill="#1d7298" stroke="#03121a" stroke-width="0.4"/>
<circle cx="378.67" cy="304.18" r="0.74" fill="#1d7298" stroke="#03121a" stroke-width="0.4"/>
<circle cx="378.80" cy="306.59" r="0.74" fill="#1d7298" stroke="#03121a" stroke-width="0.4"/>
<circle cx="379.07" cy="309.07" r="0.74" fill="#1d7298" stroke="#03121a" stroke-width="0.4"/>
<circle cx="376.09" cy="308.92" r="0.74" fill="#1d7298" stroke="#03121a" stroke-width="0.4"/>
<circle cx="378.67" cy="307.03" r="0.74" fill="#1d7298" stroke="#03121a" stroke-width="0.4"/>
<circle cx="379.78" cy="308.92" r="0.74" fill="#1d7298" stroke="#03121a" stroke-width="0.4"/>
<circle cx="378.15" cy="306.05" r="0.74" fill="#1d7298" stroke="#03121a" stroke-width="0.4"/>
<circle cx="381.43" cy="303.71" r="0.74" fill="#1d7298" stroke="#03121a" stroke-width="0.4"/>
<circle cx="379.62" cy="307.53" r="0.74" fill="#1d7298" stroke="#03121a" stroke-width="0.4"/>
<circle cx="376.21" cy="307.35" r="0.74" fill="#1d7298" stroke="#03121a" stroke-width="0.4"/>
<circle cx="379.87" cy="309.53" r="0.74" fill="#1d7298" stroke="#03121a" stroke-width="0.4"/>
<circle cx="377.90" cy="309.88" r="0.74" fill="#1d7298" stroke="#03121a" stroke-width="0.4"/>
<circle cx="378.91" cy="306.50" r="0.74" fill="#1d7298" stroke="#03121a" stroke-width="0.4"/>
<circle cx="381.08" cy="303.43" r="0.74" fill="#1d7298" stroke="#03121a" stroke-width="0.4"/>
<circle cx="380.07" cy="307.45" r="0.74" fill="#1d7298" stroke="#03121a" stroke-width="0.4"/>
<circle cx="377.95" cy="309.06" r="0.74" fill="#1d7298" stroke="#03121a" stroke-width="0.4"/>
<circle cx="378.10" cy="306.43" r="0.74" fill="#1d7298" stroke="#03121a" stroke-width="0.4"/>
<circle cx="378.99" cy="308.44" r="0.74" fill="#1d7298" stroke="#03121a" stroke-width="0.4"/>
<circle cx="377.23" cy="306.16" r="0.74" fill="#1d7298" stroke="#03121a" stroke-width="0.4"/>
<circle cx="378.42" cy="306.97" r="0.74" fill="#1d7298" stroke="#03121a" stroke-width="0.4"/>
<circle cx="380.68" cy="305.19" r="0.74" fill="#1d7298" stroke="#03121a" stroke-width="0.4"/>
<circle cx="380.69" cy="305.95" r="0.74" fill="#1d7298" stroke="#03121a" stroke-width="0.4"/>
<circle cx="378.87" cy="305.05" r="0.74" fill="#1d7298" stroke="#03121a" stroke-width="0.4"/>
<circle cx="378.89" cy="309.83" r="0.74" fill="#1d7298" stroke="#03121a" stroke-width="0.4"/>
<circle cx="379.72" cy="308.59" r="0.74" fill="#1d7298" stroke="#03121a" stroke-width="0.4"/>
<circle cx="377.90" cy="305.36" r="0.74" fill="#1d7298" stroke="#03121a" stroke-width="0.4"/>
<circle cx="377.73" cy="307.19" r="0.74" fill="#1d7298" stroke="#03121a" stroke-width="0.4"/>
<circle cx="379.60" cy="308.53" r="0.74" fill="#1d7298" stroke="#03121a" stroke-width="0.4"/>
<circle cx="376.27" cy="308.11" r="0.74" fill="#1d7298" stroke="#03121a" stroke-width="0.4"/>
<circle cx="381.01" cy="306.91" r="0.74" fill="#1d7298" stroke="#03121a" stroke-width="0.4"/>
<circle cx="376.33" cy="305.24" r="0.74" fill="#1d7298" stroke="#03121a" stroke-width="0.4"/>
<circle cx="376.08" cy="304.49" r="0.74" fill="#1d7298" stroke="#03121a" stroke-width="0.4"/>
<circle cx="381.21" cy="307.34" r="0.74" fill="#1d7298" stroke="#03121a" stroke-width="0.4"/>
<circle cx="379.73" cy="308.57" r="0.74" fill="#1d7298" stroke="#03121a" stroke-width="0.4"/>
<circle cx="381.15" cy="307.36" r="0.74" fill="#1d7298" stroke="#03121a" stroke-width="0.4"/>
<circle cx="379.50" cy="307.46" r="0.74" fill="#1d7298" stroke="#03121a" stroke-width="0.4"/>
<circle cx="379.95" cy="307.25" r="0.74" fill="#1d7298" stroke="#03121a" stroke-width="0.4"/>
<circle cx="379.86" cy="304.65" r="0.74" fill="#1d7298" stroke="#03121a" stroke-width="0.4"/>
<circle cx="379.79" cy="306.31" r="0.74" fill="#1d7298" stroke="#03121a" stroke-width="0.4"/>
<circle cx="380.32" cy="303.89" r="0.74" fill="#1d7298" stroke="#03121a" stroke-width="0.4"/>
<circle cx="377.07" cy="303.45" r="0.74" fill="#1d7298" stroke="#03121a" stroke-width="0.4"/>
<circle cx="380.39" cy="309.42" r="0.74" fill="#1d7298" stroke="#03121a" stroke-width="0.4"/>
<circle cx="379.72" cy="305.71" r="0.74" fill="#1d7298" stroke="#03121a" stroke-width="0.4"/>
<circle cx="380.66" cy="308.55" r="0.74" fill="#1d7298" stroke="#03121a" stroke-width="0.4"/>
<circle cx="379.20" cy="304.95" r="0.74" fill="#1d7298" stroke="#03121a" stroke-width="0.4"/>
<circle cx="377.74" cy="306.07" r="0.74" fill="#1d7298" stroke="#03121a" stroke-width="0.4"/>
<circle cx="377.83" cy="306.13" r="0.74" fill="#1d7298" stroke="#03121a" stroke-width="0.4"/>
<circle cx="379.47" cy="312.20" r="0.74" fill="#1d7298" stroke="#03121a" stroke-width="0.4"/>
<circle cx="380.76" cy="314.30" r="0.74" fill="#1d7298" stroke="#03121a" stroke-width="0.4"/>
<circle cx="376.89" cy="314.00" r="0.74" fill="#1d7298" stroke="#03121a" stroke-width="0.4"/>
<circle cx="379.15" cy="318.60" r="0.74" fill="#1d7298" stroke="#03121a" stroke-width="0.4"/>
<circle cx="376.82" cy="320.80" r="0.74" fill="#1d7298" stroke="#03121a" stroke-width="0.4"/>
<circle cx="377.17" cy="322.10" r="0.74" fill="#1d7298" stroke="#03121a" stroke-width="0.4"/>
<circle cx="380.22" cy="326.40" r="0.74" fill="#1d7298" stroke="#03121a" stroke-width="0.4"/>
<text x="372.30" y="363.60" font-size="4.1" fill="#555" text-anchor="middle" >cg08865625</text>
<line x1="410.25" y1="312.40" x2="410.25" y2="318.30" stroke="#d8857c" stroke-width="0.6" />
<line x1="407.95" y1="318.30" x2="412.55" y2="318.30" stroke="#d8857c" stroke-width="0.6" />
<rect x="404.10" y="305.00" width="12.30" height="7.40" fill="none" stroke="#d8857c" stroke-width="0.65"/>
<line x1="404.10" y1="307.40" x2="416.40" y2="307.40" stroke="#d8857c" stroke-width="0.6" />
<rect x="417.20" y="304.60" width="12.30" height="5.90" fill="none" stroke="#4db4e2" stroke-width="0.65"/>
<line x1="417.20" y1="307.00" x2="429.50" y2="307.00" stroke="#4db4e2" stroke-width="0.6" />
<circle cx="410.70" cy="312.71" r="0.74" fill="#8a2020" stroke="#2a0505" stroke-width="0.35"/>
<circle cx="409.93" cy="302.85" r="0.74" fill="#8a2020" stroke="#2a0505" stroke-width="0.35"/>
<circle cx="409.57" cy="309.15" r="0.74" fill="#8a2020" stroke="#2a0505" stroke-width="0.35"/>
<circle cx="412.88" cy="313.39" r="0.74" fill="#8a2020" stroke="#2a0505" stroke-width="0.35"/>
<circle cx="410.10" cy="307.20" r="0.74" fill="#8a2020" stroke="#2a0505" stroke-width="0.35"/>
<circle cx="407.86" cy="309.73" r="0.74" fill="#8a2020" stroke="#2a0505" stroke-width="0.35"/>
<circle cx="408.52" cy="304.35" r="0.74" fill="#8a2020" stroke="#2a0505" stroke-width="0.35"/>
<circle cx="407.34" cy="302.75" r="0.74" fill="#8a2020" stroke="#2a0505" stroke-width="0.35"/>
<circle cx="411.35" cy="304.03" r="0.74" fill="#8a2020" stroke="#2a0505" stroke-width="0.35"/>
<circle cx="413.05" cy="303.66" r="0.74" fill="#8a2020" stroke="#2a0505" stroke-width="0.35"/>
<circle cx="412.47" cy="304.11" r="0.74" fill="#8a2020" stroke="#2a0505" stroke-width="0.35"/>
<circle cx="407.36" cy="310.54" r="0.74" fill="#8a2020" stroke="#2a0505" stroke-width="0.35"/>
<circle cx="408.70" cy="310.70" r="0.74" fill="#8a2020" stroke="#2a0505" stroke-width="0.35"/>
<circle cx="408.37" cy="303.25" r="0.74" fill="#8a2020" stroke="#2a0505" stroke-width="0.35"/>
<circle cx="411.89" cy="310.48" r="0.74" fill="#8a2020" stroke="#2a0505" stroke-width="0.35"/>
<circle cx="412.38" cy="310.65" r="0.74" fill="#8a2020" stroke="#2a0505" stroke-width="0.35"/>
<circle cx="407.76" cy="309.55" r="0.74" fill="#8a2020" stroke="#2a0505" stroke-width="0.35"/>
<circle cx="411.51" cy="307.72" r="0.74" fill="#8a2020" stroke="#2a0505" stroke-width="0.35"/>
<circle cx="412.84" cy="305.47" r="0.74" fill="#8a2020" stroke="#2a0505" stroke-width="0.35"/>
<circle cx="413.04" cy="310.52" r="0.74" fill="#8a2020" stroke="#2a0505" stroke-width="0.35"/>
<circle cx="407.32" cy="302.86" r="0.74" fill="#8a2020" stroke="#2a0505" stroke-width="0.35"/>
<circle cx="411.15" cy="311.61" r="0.74" fill="#8a2020" stroke="#2a0505" stroke-width="0.35"/>
<circle cx="407.73" cy="306.09" r="0.74" fill="#8a2020" stroke="#2a0505" stroke-width="0.35"/>
<circle cx="411.63" cy="304.51" r="0.74" fill="#8a2020" stroke="#2a0505" stroke-width="0.35"/>
<circle cx="412.42" cy="308.00" r="0.74" fill="#8a2020" stroke="#2a0505" stroke-width="0.35"/>
<circle cx="407.61" cy="306.71" r="0.74" fill="#8a2020" stroke="#2a0505" stroke-width="0.35"/>
<circle cx="410.70" cy="307.48" r="0.74" fill="#8a2020" stroke="#2a0505" stroke-width="0.35"/>
<circle cx="411.31" cy="304.28" r="0.74" fill="#8a2020" stroke="#2a0505" stroke-width="0.35"/>
<circle cx="411.32" cy="315.50" r="0.74" fill="#8a2020" stroke="#2a0505" stroke-width="0.35"/>
<circle cx="409.76" cy="341.40" r="0.74" fill="#8a2020" stroke="#2a0505" stroke-width="0.35"/>
<circle cx="410.77" cy="350.30" r="0.74" fill="#8a2020" stroke="#2a0505" stroke-width="0.35"/>
<circle cx="424.08" cy="307.92" r="0.74" fill="#1d7298" stroke="#03121a" stroke-width="0.4"/>
<circle cx="422.71" cy="312.53" r="0.74" fill="#1d7298" stroke="#03121a" stroke-width="0.4"/>
<circle cx="425.84" cy="312.51" r="0.74" fill="#1d7298" stroke="#03121a" stroke-width="0.4"/>
<circle cx="423.72" cy="306.35" r="0.74" fill="#1d7298" stroke="#03121a" stroke-width="0.4"/>
<circle cx="420.89" cy="314.87" r="0.74" fill="#1d7298" stroke="#03121a" stroke-width="0.4"/>
<circle cx="424.49" cy="313.04" r="0.74" fill="#1d7298" stroke="#03121a" stroke-width="0.4"/>
<circle cx="422.41" cy="310.27" r="0.74" fill="#1d7298" stroke="#03121a" stroke-width="0.4"/>
<circle cx="426.02" cy="313.09" r="0.74" fill="#1d7298" stroke="#03121a" stroke-width="0.4"/>
<circle cx="423.92" cy="306.56" r="0.74" fill="#1d7298" stroke="#03121a" stroke-width="0.4"/>
<circle cx="422.95" cy="313.80" r="0.74" fill="#1d7298" stroke="#03121a" stroke-width="0.4"/>
<circle cx="422.66" cy="311.26" r="0.74" fill="#1d7298" stroke="#03121a" stroke-width="0.4"/>
<circle cx="423.92" cy="313.90" r="0.74" fill="#1d7298" stroke="#03121a" stroke-width="0.4"/>
<circle cx="425.07" cy="306.24" r="0.74" fill="#1d7298" stroke="#03121a" stroke-width="0.4"/>
<circle cx="420.56" cy="305.99" r="0.74" fill="#1d7298" stroke="#03121a" stroke-width="0.4"/>
<circle cx="422.92" cy="310.03" r="0.74" fill="#1d7298" stroke="#03121a" stroke-width="0.4"/>
<circle cx="425.12" cy="313.79" r="0.74" fill="#1d7298" stroke="#03121a" stroke-width="0.4"/>
<circle cx="420.79" cy="313.12" r="0.74" fill="#1d7298" stroke="#03121a" stroke-width="0.4"/>
<circle cx="425.10" cy="313.54" r="0.74" fill="#1d7298" stroke="#03121a" stroke-width="0.4"/>
<circle cx="423.75" cy="306.12" r="0.74" fill="#1d7298" stroke="#03121a" stroke-width="0.4"/>
<circle cx="425.32" cy="312.79" r="0.74" fill="#1d7298" stroke="#03121a" stroke-width="0.4"/>
<circle cx="424.38" cy="314.12" r="0.74" fill="#1d7298" stroke="#03121a" stroke-width="0.4"/>
<circle cx="422.49" cy="303.76" r="0.74" fill="#1d7298" stroke="#03121a" stroke-width="0.4"/>
<circle cx="423.65" cy="312.67" r="0.74" fill="#1d7298" stroke="#03121a" stroke-width="0.4"/>
<circle cx="421.67" cy="312.08" r="0.74" fill="#1d7298" stroke="#03121a" stroke-width="0.4"/>
<circle cx="425.77" cy="305.63" r="0.74" fill="#1d7298" stroke="#03121a" stroke-width="0.4"/>
<circle cx="423.95" cy="311.17" r="0.74" fill="#1d7298" stroke="#03121a" stroke-width="0.4"/>
<circle cx="423.16" cy="305.28" r="0.74" fill="#1d7298" stroke="#03121a" stroke-width="0.4"/>
<circle cx="421.98" cy="312.09" r="0.74" fill="#1d7298" stroke="#03121a" stroke-width="0.4"/>
<circle cx="424.98" cy="308.45" r="0.74" fill="#1d7298" stroke="#03121a" stroke-width="0.4"/>
<circle cx="421.04" cy="312.78" r="0.74" fill="#1d7298" stroke="#03121a" stroke-width="0.4"/>
<circle cx="424.87" cy="305.61" r="0.74" fill="#1d7298" stroke="#03121a" stroke-width="0.4"/>
<circle cx="423.80" cy="313.91" r="0.74" fill="#1d7298" stroke="#03121a" stroke-width="0.4"/>
<circle cx="425.51" cy="309.22" r="0.74" fill="#1d7298" stroke="#03121a" stroke-width="0.4"/>
<circle cx="423.22" cy="310.07" r="0.74" fill="#1d7298" stroke="#03121a" stroke-width="0.4"/>
<circle cx="421.61" cy="305.10" r="0.74" fill="#1d7298" stroke="#03121a" stroke-width="0.4"/>
<circle cx="421.56" cy="311.46" r="0.74" fill="#1d7298" stroke="#03121a" stroke-width="0.4"/>
<circle cx="422.58" cy="309.76" r="0.74" fill="#1d7298" stroke="#03121a" stroke-width="0.4"/>
<circle cx="422.80" cy="309.17" r="0.74" fill="#1d7298" stroke="#03121a" stroke-width="0.4"/>
<circle cx="421.38" cy="303.26" r="0.74" fill="#1d7298" stroke="#03121a" stroke-width="0.4"/>
<circle cx="426.13" cy="307.38" r="0.74" fill="#1d7298" stroke="#03121a" stroke-width="0.4"/>
<circle cx="421.14" cy="310.61" r="0.74" fill="#1d7298" stroke="#03121a" stroke-width="0.4"/>
<circle cx="424.96" cy="304.65" r="0.74" fill="#1d7298" stroke="#03121a" stroke-width="0.4"/>
<circle cx="423.89" cy="307.01" r="0.74" fill="#1d7298" stroke="#03121a" stroke-width="0.4"/>
<circle cx="423.46" cy="302.96" r="0.74" fill="#1d7298" stroke="#03121a" stroke-width="0.4"/>
<circle cx="420.74" cy="315.08" r="0.74" fill="#1d7298" stroke="#03121a" stroke-width="0.4"/>
<circle cx="425.40" cy="308.78" r="0.74" fill="#1d7298" stroke="#03121a" stroke-width="0.4"/>
<circle cx="423.73" cy="305.97" r="0.74" fill="#1d7298" stroke="#03121a" stroke-width="0.4"/>
<circle cx="424.91" cy="308.02" r="0.74" fill="#1d7298" stroke="#03121a" stroke-width="0.4"/>
<circle cx="425.85" cy="312.29" r="0.74" fill="#1d7298" stroke="#03121a" stroke-width="0.4"/>
<circle cx="425.14" cy="314.74" r="0.74" fill="#1d7298" stroke="#03121a" stroke-width="0.4"/>
<circle cx="421.97" cy="303.17" r="0.74" fill="#1d7298" stroke="#03121a" stroke-width="0.4"/>
<circle cx="421.68" cy="304.96" r="0.74" fill="#1d7298" stroke="#03121a" stroke-width="0.4"/>
<circle cx="421.02" cy="303.34" r="0.74" fill="#1d7298" stroke="#03121a" stroke-width="0.4"/>
<circle cx="423.67" cy="313.58" r="0.74" fill="#1d7298" stroke="#03121a" stroke-width="0.4"/>
<circle cx="423.12" cy="314.54" r="0.74" fill="#1d7298" stroke="#03121a" stroke-width="0.4"/>
<circle cx="425.65" cy="303.50" r="0.74" fill="#1d7298" stroke="#03121a" stroke-width="0.4"/>
<circle cx="423.90" cy="307.67" r="0.74" fill="#1d7298" stroke="#03121a" stroke-width="0.4"/>
<circle cx="421.22" cy="314.69" r="0.74" fill="#1d7298" stroke="#03121a" stroke-width="0.4"/>
<circle cx="421.99" cy="309.76" r="0.74" fill="#1d7298" stroke="#03121a" stroke-width="0.4"/>
<circle cx="424.14" cy="314.66" r="0.74" fill="#1d7298" stroke="#03121a" stroke-width="0.4"/>
<circle cx="424.30" cy="326.79" r="0.74" fill="#1d7298" stroke="#03121a" stroke-width="0.4"/>
<circle cx="423.06" cy="319.79" r="0.74" fill="#1d7298" stroke="#03121a" stroke-width="0.4"/>
<circle cx="425.96" cy="344.75" r="0.74" fill="#1d7298" stroke="#03121a" stroke-width="0.4"/>
<circle cx="421.79" cy="316.16" r="0.74" fill="#1d7298" stroke="#03121a" stroke-width="0.4"/>
<circle cx="421.98" cy="325.56" r="0.74" fill="#1d7298" stroke="#03121a" stroke-width="0.4"/>
<circle cx="425.61" cy="342.14" r="0.74" fill="#1d7298" stroke="#03121a" stroke-width="0.4"/>
<circle cx="425.24" cy="316.41" r="0.74" fill="#1d7298" stroke="#03121a" stroke-width="0.4"/>
<circle cx="424.95" cy="336.29" r="0.74" fill="#1d7298" stroke="#03121a" stroke-width="0.4"/>
<circle cx="424.17" cy="344.56" r="0.74" fill="#1d7298" stroke="#03121a" stroke-width="0.4"/>
<circle cx="420.86" cy="319.34" r="0.74" fill="#1d7298" stroke="#03121a" stroke-width="0.4"/>
<circle cx="424.78" cy="343.18" r="0.74" fill="#1d7298" stroke="#03121a" stroke-width="0.4"/>
<circle cx="424.34" cy="323.96" r="0.74" fill="#1d7298" stroke="#03121a" stroke-width="0.4"/>
<circle cx="423.86" cy="337.74" r="0.74" fill="#1d7298" stroke="#03121a" stroke-width="0.4"/>
<circle cx="421.14" cy="324.72" r="0.74" fill="#1d7298" stroke="#03121a" stroke-width="0.4"/>
<circle cx="421.99" cy="318.72" r="0.74" fill="#1d7298" stroke="#03121a" stroke-width="0.4"/>
<circle cx="423.25" cy="320.06" r="0.74" fill="#1d7298" stroke="#03121a" stroke-width="0.4"/>
<circle cx="421.89" cy="319.29" r="0.74" fill="#1d7298" stroke="#03121a" stroke-width="0.4"/>
<circle cx="424.34" cy="315.38" r="0.74" fill="#1d7298" stroke="#03121a" stroke-width="0.4"/>
<circle cx="424.57" cy="320.85" r="0.74" fill="#1d7298" stroke="#03121a" stroke-width="0.4"/>
<circle cx="420.75" cy="342.83" r="0.74" fill="#1d7298" stroke="#03121a" stroke-width="0.4"/>
<circle cx="421.79" cy="343.02" r="0.74" fill="#1d7298" stroke="#03121a" stroke-width="0.4"/>
<circle cx="425.40" cy="341.66" r="0.74" fill="#1d7298" stroke="#03121a" stroke-width="0.4"/>
<circle cx="421.33" cy="328.42" r="0.74" fill="#1d7298" stroke="#03121a" stroke-width="0.4"/>
<circle cx="421.09" cy="342.86" r="0.74" fill="#1d7298" stroke="#03121a" stroke-width="0.4"/>
<circle cx="425.27" cy="333.85" r="0.74" fill="#1d7298" stroke="#03121a" stroke-width="0.4"/>
<circle cx="423.08" cy="325.19" r="0.74" fill="#1d7298" stroke="#03121a" stroke-width="0.4"/>
<circle cx="424.77" cy="353.00" r="0.74" fill="#1d7298" stroke="#03121a" stroke-width="0.4"/>
<text x="417.00" y="363.60" font-size="4.1" fill="#555" text-anchor="middle" >cg17254393</text>
<rect x="448.90" y="304.40" width="12.30" height="1.80" fill="#e8a49c" stroke="#d8857c" stroke-width="0.5"/>
<rect x="462.00" y="304.90" width="12.30" height="1.70" fill="none" stroke="#4db4e2" stroke-width="0.65"/>
<line x1="462.00" y1="305.70" x2="474.30" y2="305.70" stroke="#4db4e2" stroke-width="0.6" />
<circle cx="454.92" cy="306.80" r="0.74" fill="#8a2020" stroke="#2a0505" stroke-width="0.35"/>
<circle cx="452.91" cy="304.73" r="0.74" fill="#8a2020" stroke="#2a0505" stroke-width="0.35"/>
<circle cx="452.39" cy="307.24" r="0.74" fill="#8a2020" stroke="#2a0505" stroke-width="0.35"/>
<circle cx="455.37" cy="304.34" r="0.74" fill="#8a2020" stroke="#2a0505" stroke-width="0.35"/>
<circle cx="457.27" cy="304.96" r="0.74" fill="#8a2020" stroke="#2a0505" stroke-width="0.35"/>
<circle cx="454.52" cy="304.39" r="0.74" fill="#8a2020" stroke="#2a0505" stroke-width="0.35"/>
<circle cx="453.68" cy="307.88" r="0.74" fill="#8a2020" stroke="#2a0505" stroke-width="0.35"/>
<circle cx="454.06" cy="304.46" r="0.74" fill="#8a2020" stroke="#2a0505" stroke-width="0.35"/>
<circle cx="455.00" cy="305.22" r="0.74" fill="#8a2020" stroke="#2a0505" stroke-width="0.35"/>
<circle cx="457.47" cy="304.18" r="0.74" fill="#8a2020" stroke="#2a0505" stroke-width="0.35"/>
<circle cx="457.92" cy="303.89" r="0.74" fill="#8a2020" stroke="#2a0505" stroke-width="0.35"/>
<circle cx="457.42" cy="307.01" r="0.74" fill="#8a2020" stroke="#2a0505" stroke-width="0.35"/>
<circle cx="453.32" cy="306.04" r="0.74" fill="#8a2020" stroke="#2a0505" stroke-width="0.35"/>
<circle cx="453.77" cy="304.91" r="0.74" fill="#8a2020" stroke="#2a0505" stroke-width="0.35"/>
<circle cx="453.26" cy="305.46" r="0.74" fill="#8a2020" stroke="#2a0505" stroke-width="0.35"/>
<circle cx="458.00" cy="308.69" r="0.74" fill="#8a2020" stroke="#2a0505" stroke-width="0.35"/>
<circle cx="457.60" cy="304.10" r="0.74" fill="#8a2020" stroke="#2a0505" stroke-width="0.35"/>
<circle cx="453.79" cy="308.17" r="0.74" fill="#8a2020" stroke="#2a0505" stroke-width="0.35"/>
<circle cx="452.39" cy="307.31" r="0.74" fill="#8a2020" stroke="#2a0505" stroke-width="0.35"/>
<circle cx="453.81" cy="308.59" r="0.74" fill="#8a2020" stroke="#2a0505" stroke-width="0.35"/>
<circle cx="452.15" cy="307.72" r="0.74" fill="#8a2020" stroke="#2a0505" stroke-width="0.35"/>
<circle cx="454.10" cy="304.31" r="0.74" fill="#8a2020" stroke="#2a0505" stroke-width="0.35"/>
<circle cx="452.06" cy="307.84" r="0.74" fill="#8a2020" stroke="#2a0505" stroke-width="0.35"/>
<circle cx="455.21" cy="304.55" r="0.74" fill="#8a2020" stroke="#2a0505" stroke-width="0.35"/>
<circle cx="454.82" cy="316.00" r="0.74" fill="#8a2020" stroke="#2a0505" stroke-width="0.35"/>
<circle cx="470.46" cy="304.79" r="0.74" fill="#1d7298" stroke="#03121a" stroke-width="0.4"/>
<circle cx="468.55" cy="304.21" r="0.74" fill="#1d7298" stroke="#03121a" stroke-width="0.4"/>
<circle cx="466.36" cy="308.82" r="0.74" fill="#1d7298" stroke="#03121a" stroke-width="0.4"/>
<circle cx="469.34" cy="304.64" r="0.74" fill="#1d7298" stroke="#03121a" stroke-width="0.4"/>
<circle cx="465.79" cy="303.84" r="0.74" fill="#1d7298" stroke="#03121a" stroke-width="0.4"/>
<circle cx="468.76" cy="306.82" r="0.74" fill="#1d7298" stroke="#03121a" stroke-width="0.4"/>
<circle cx="466.88" cy="304.70" r="0.74" fill="#1d7298" stroke="#03121a" stroke-width="0.4"/>
<circle cx="468.78" cy="308.37" r="0.74" fill="#1d7298" stroke="#03121a" stroke-width="0.4"/>
<circle cx="469.89" cy="307.46" r="0.74" fill="#1d7298" stroke="#03121a" stroke-width="0.4"/>
<circle cx="466.48" cy="303.68" r="0.74" fill="#1d7298" stroke="#03121a" stroke-width="0.4"/>
<circle cx="469.45" cy="306.18" r="0.74" fill="#1d7298" stroke="#03121a" stroke-width="0.4"/>
<circle cx="469.39" cy="303.60" r="0.74" fill="#1d7298" stroke="#03121a" stroke-width="0.4"/>
<circle cx="469.89" cy="305.65" r="0.74" fill="#1d7298" stroke="#03121a" stroke-width="0.4"/>
<circle cx="470.06" cy="309.51" r="0.74" fill="#1d7298" stroke="#03121a" stroke-width="0.4"/>
<circle cx="468.11" cy="303.31" r="0.74" fill="#1d7298" stroke="#03121a" stroke-width="0.4"/>
<circle cx="470.45" cy="306.68" r="0.74" fill="#1d7298" stroke="#03121a" stroke-width="0.4"/>
<circle cx="470.23" cy="305.14" r="0.74" fill="#1d7298" stroke="#03121a" stroke-width="0.4"/>
<circle cx="466.39" cy="309.27" r="0.74" fill="#1d7298" stroke="#03121a" stroke-width="0.4"/>
<circle cx="467.41" cy="304.39" r="0.74" fill="#1d7298" stroke="#03121a" stroke-width="0.4"/>
<circle cx="467.43" cy="307.54" r="0.74" fill="#1d7298" stroke="#03121a" stroke-width="0.4"/>
<circle cx="465.38" cy="306.99" r="0.74" fill="#1d7298" stroke="#03121a" stroke-width="0.4"/>
<circle cx="467.85" cy="306.96" r="0.74" fill="#1d7298" stroke="#03121a" stroke-width="0.4"/>
<circle cx="466.03" cy="308.42" r="0.74" fill="#1d7298" stroke="#03121a" stroke-width="0.4"/>
<circle cx="469.92" cy="309.52" r="0.74" fill="#1d7298" stroke="#03121a" stroke-width="0.4"/>
<circle cx="467.15" cy="308.39" r="0.74" fill="#1d7298" stroke="#03121a" stroke-width="0.4"/>
<circle cx="467.49" cy="308.68" r="0.74" fill="#1d7298" stroke="#03121a" stroke-width="0.4"/>
<circle cx="465.69" cy="309.57" r="0.74" fill="#1d7298" stroke="#03121a" stroke-width="0.4"/>
<circle cx="470.69" cy="306.81" r="0.74" fill="#1d7298" stroke="#03121a" stroke-width="0.4"/>
<circle cx="468.22" cy="307.07" r="0.74" fill="#1d7298" stroke="#03121a" stroke-width="0.4"/>
<circle cx="468.36" cy="303.35" r="0.74" fill="#1d7298" stroke="#03121a" stroke-width="0.4"/>
<circle cx="470.77" cy="304.83" r="0.74" fill="#1d7298" stroke="#03121a" stroke-width="0.4"/>
<circle cx="466.37" cy="303.95" r="0.74" fill="#1d7298" stroke="#03121a" stroke-width="0.4"/>
<circle cx="466.75" cy="309.17" r="0.74" fill="#1d7298" stroke="#03121a" stroke-width="0.4"/>
<circle cx="465.52" cy="303.90" r="0.74" fill="#1d7298" stroke="#03121a" stroke-width="0.4"/>
<circle cx="469.26" cy="304.62" r="0.74" fill="#1d7298" stroke="#03121a" stroke-width="0.4"/>
<circle cx="465.45" cy="307.58" r="0.74" fill="#1d7298" stroke="#03121a" stroke-width="0.4"/>
<circle cx="468.58" cy="307.02" r="0.74" fill="#1d7298" stroke="#03121a" stroke-width="0.4"/>
<circle cx="469.28" cy="303.95" r="0.74" fill="#1d7298" stroke="#03121a" stroke-width="0.4"/>
<circle cx="470.22" cy="308.43" r="0.74" fill="#1d7298" stroke="#03121a" stroke-width="0.4"/>
<circle cx="465.60" cy="304.10" r="0.74" fill="#1d7298" stroke="#03121a" stroke-width="0.4"/>
<circle cx="468.11" cy="306.86" r="0.74" fill="#1d7298" stroke="#03121a" stroke-width="0.4"/>
<circle cx="466.92" cy="304.09" r="0.74" fill="#1d7298" stroke="#03121a" stroke-width="0.4"/>
<circle cx="467.62" cy="304.20" r="0.74" fill="#1d7298" stroke="#03121a" stroke-width="0.4"/>
<circle cx="468.66" cy="309.49" r="0.74" fill="#1d7298" stroke="#03121a" stroke-width="0.4"/>
<circle cx="466.17" cy="307.38" r="0.74" fill="#1d7298" stroke="#03121a" stroke-width="0.4"/>
<circle cx="469.53" cy="304.40" r="0.74" fill="#1d7298" stroke="#03121a" stroke-width="0.4"/>
<circle cx="469.98" cy="310.04" r="0.74" fill="#1d7298" stroke="#03121a" stroke-width="0.4"/>
<circle cx="467.53" cy="306.27" r="0.74" fill="#1d7298" stroke="#03121a" stroke-width="0.4"/>
<circle cx="470.05" cy="307.04" r="0.74" fill="#1d7298" stroke="#03121a" stroke-width="0.4"/>
<circle cx="467.57" cy="310.07" r="0.74" fill="#1d7298" stroke="#03121a" stroke-width="0.4"/>
<circle cx="469.37" cy="314.30" r="0.74" fill="#1d7298" stroke="#03121a" stroke-width="0.4"/>
<circle cx="467.44" cy="320.40" r="0.74" fill="#1d7298" stroke="#03121a" stroke-width="0.4"/>
<text x="461.50" y="363.60" font-size="4.1" fill="#555" text-anchor="middle" >cg18608206</text>
<rect x="0" y="0" width="1" height="372" fill="#474747"/>
<rect x="1" y="0" width="1" height="372" fill="#a8a8a8"/>
<rect x="519" y="0" width="1" height="372" fill="#474747"/>
<rect x="518" y="0" width="1" height="372" fill="#a0a0a0"/>
<rect x="0" y="1" width="520" height="1" fill="#e4e4e4"/>
<rect x="0" y="0" width="520" height="1" fill="#000"/>
<rect x="0" y="370" width="520" height="1" fill="#c4c4c4"/>
<rect x="0" y="371" width="520" height="1" fill="#000"/>
</svg>
</body></html>
